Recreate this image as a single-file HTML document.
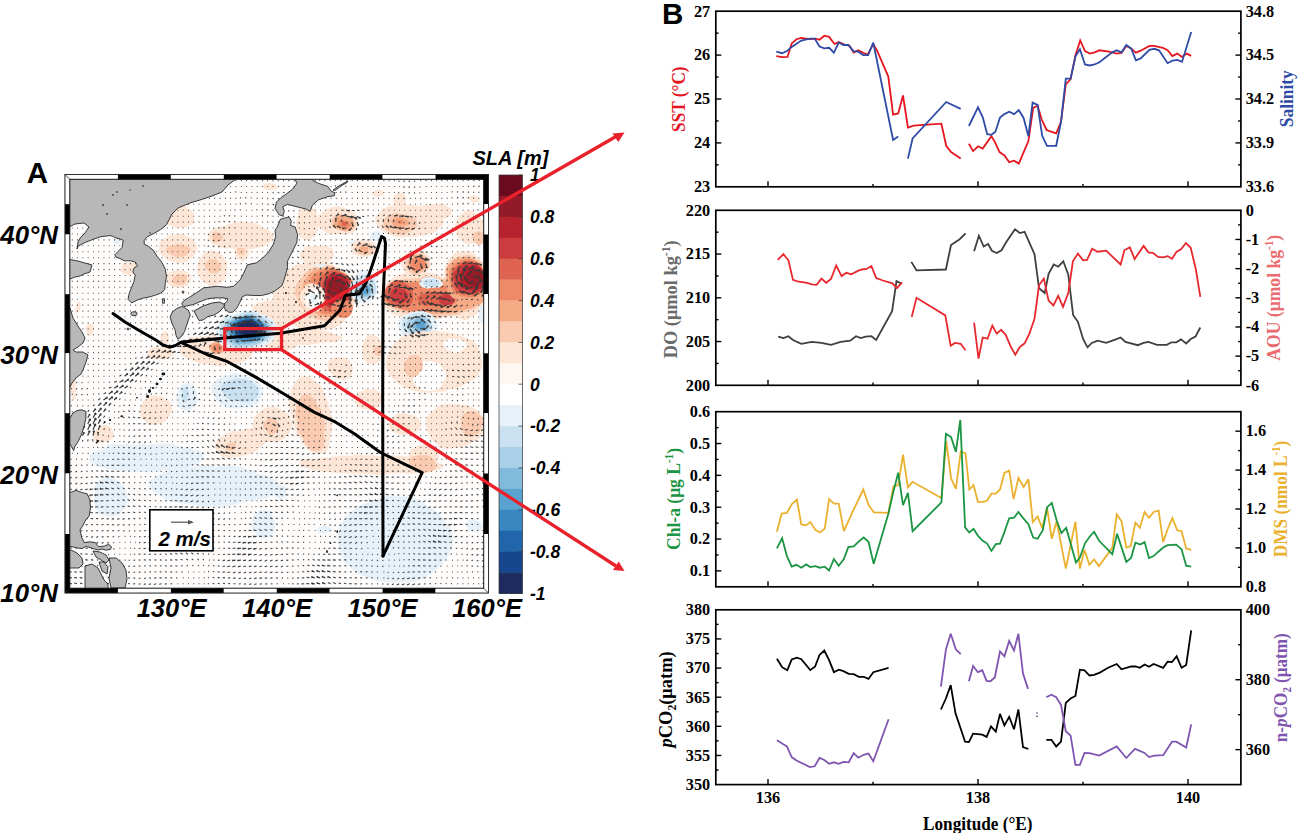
<!DOCTYPE html><html><head><meta charset="utf-8"><style>html,body{margin:0;padding:0;background:#fff;width:1299px;height:833px;overflow:hidden}svg{display:block}</style></head><body>
<svg width="1299" height="833" viewBox="0 0 1299 833">
<defs><clipPath id="mc"><rect x="69" y="178.5" width="415.5" height="411"/></clipPath><filter id="wob" x="0" y="0" width="1" height="1" filterUnits="objectBoundingBox"><feTurbulence type="fractalNoise" baseFrequency="0.035" numOctaves="2" seed="3" result="n"/><feDisplacementMap in="SourceGraphic" in2="n" scale="7" xChannelSelector="R" yChannelSelector="G"/></filter></defs>
<g clip-path="url(#mc)">
<rect x="60" y="170" width="440" height="430" fill="#fffdfc"/>
<g filter="url(#wob)"><rect x="60" y="170" width="440" height="430" fill="#fffdfc"/><ellipse cx="180.0" cy="217.5" rx="14.0" ry="10.5" transform="rotate(0 180.0 217.5)" fill="#fde6d6"/>
<ellipse cx="178.0" cy="248.0" rx="18.0" ry="14.0" transform="rotate(0 178.0 248.0)" fill="#fde6d6"/>
<ellipse cx="177.5" cy="250.0" rx="11.5" ry="6.0" transform="rotate(0 177.5 250.0)" fill="#fbcbb1"/>
<ellipse cx="241.0" cy="237.0" rx="34.0" ry="14.0" transform="rotate(0 241.0 237.0)" fill="#fde6d6"/>
<ellipse cx="217.0" cy="237.0" rx="6.0" ry="6.0" transform="rotate(0 217.0 237.0)" fill="#fbcbb1"/>
<ellipse cx="212.5" cy="268.0" rx="15.5" ry="17.0" transform="rotate(0 212.5 268.0)" fill="#fde6d6"/>
<ellipse cx="213.0" cy="265.5" rx="8.0" ry="6.5" transform="rotate(0 213.0 265.5)" fill="#fbcbb1"/>
<ellipse cx="178.5" cy="279.0" rx="12.5" ry="9.0" transform="rotate(0 178.5 279.0)" fill="#fde6d6"/>
<ellipse cx="179.5" cy="279.5" rx="7.5" ry="5.5" transform="rotate(0 179.5 279.5)" fill="#fbcbb1"/>
<ellipse cx="242.5" cy="252.5" rx="7.5" ry="7.5" transform="rotate(0 242.5 252.5)" fill="#fde6d6"/>
<ellipse cx="242.0" cy="252.5" rx="4.0" ry="3.5" transform="rotate(0 242.0 252.5)" fill="#fbcbb1"/>
<ellipse cx="270.0" cy="187.0" rx="8.0" ry="4.0" transform="rotate(0 270.0 187.0)" fill="#fde6d6"/>
<ellipse cx="243.0" cy="243.0" rx="19.0" ry="7.0" transform="rotate(0 243.0 243.0)" fill="#fde6d6"/>
<ellipse cx="117.0" cy="242.0" rx="5.0" ry="4.0" transform="rotate(0 117.0 242.0)" fill="#e6f1f9"/>
<ellipse cx="131.0" cy="268.5" rx="8.0" ry="6.5" transform="rotate(0 131.0 268.5)" fill="#fde6d6"/>
<ellipse cx="77.5" cy="308.0" rx="2.5" ry="5.0" transform="rotate(0 77.5 308.0)" fill="#fde6d6"/>
<ellipse cx="90.0" cy="329.0" rx="4.0" ry="6.0" transform="rotate(0 90.0 329.0)" fill="#fde6d6"/>
<ellipse cx="164.5" cy="339.0" rx="4.5" ry="6.0" transform="rotate(0 164.5 339.0)" fill="#fde6d6"/>
<ellipse cx="218.0" cy="350.0" rx="38.0" ry="16.0" transform="rotate(0 218.0 350.0)" fill="#fde6d6"/>
<ellipse cx="160.0" cy="353.0" rx="14.0" ry="6.0" transform="rotate(0 160.0 353.0)" fill="#fde6d6"/>
<ellipse cx="280.0" cy="340.0" rx="20.0" ry="10.0" transform="rotate(0 280.0 340.0)" fill="#fde6d6"/>
<ellipse cx="312.5" cy="337.0" rx="29.5" ry="7.0" transform="rotate(0 312.5 337.0)" fill="#fde6d6"/>
<ellipse cx="216.0" cy="347.0" rx="8.0" ry="6.0" transform="rotate(0 216.0 347.0)" fill="#f6ab87"/>
<ellipse cx="216.0" cy="347.0" rx="5.0" ry="4.0" transform="rotate(0 216.0 347.0)" fill="#ee8a67"/>
<ellipse cx="312.5" cy="336.0" rx="22.5" ry="4.0" transform="rotate(0 312.5 336.0)" fill="#fbcbb1"/>
<ellipse cx="275.0" cy="315.0" rx="25.0" ry="15.0" transform="rotate(0 275.0 315.0)" fill="#fde6d6"/>
<ellipse cx="285.0" cy="290.0" rx="15.0" ry="10.0" transform="rotate(0 285.0 290.0)" fill="#fde6d6"/>
<ellipse cx="246.0" cy="331.0" rx="32.0" ry="20.0" transform="rotate(-4 246.0 331.0)" fill="#e6f1f9"/>
<ellipse cx="246.0" cy="330.5" rx="28.0" ry="17.5" transform="rotate(-4 246.0 330.5)" fill="#c9e1f0"/>
<ellipse cx="246.5" cy="330.5" rx="24.5" ry="15.5" transform="rotate(-4 246.5 330.5)" fill="#a9d0e6"/>
<ellipse cx="246.5" cy="330.0" rx="21.5" ry="14.0" transform="rotate(-4 246.5 330.0)" fill="#82badc"/>
<ellipse cx="247.0" cy="329.5" rx="19.0" ry="12.5" transform="rotate(-4 247.0 329.5)" fill="#5aa3d0"/>
<ellipse cx="247.5" cy="329.0" rx="16.5" ry="11.0" transform="rotate(-4 247.5 329.0)" fill="#3987c1"/>
<ellipse cx="247.5" cy="328.5" rx="14.5" ry="9.5" transform="rotate(-4 247.5 328.5)" fill="#2166ab"/>
<ellipse cx="247.5" cy="328.5" rx="12.5" ry="8.5" transform="rotate(-4 247.5 328.5)" fill="#16468e"/>
<ellipse cx="248.0" cy="328.0" rx="10.0" ry="7.0" transform="rotate(-4 248.0 328.0)" fill="#1e2b5f"/>
<ellipse cx="314.0" cy="296.0" rx="42.0" ry="34.0" transform="rotate(0 314.0 296.0)" fill="#fde6d6"/>
<ellipse cx="325.5" cy="293.0" rx="29.5" ry="27.0" transform="rotate(0 325.5 293.0)" fill="#fbcbb1"/>
<ellipse cx="328.0" cy="292.0" rx="26.0" ry="24.0" transform="rotate(0 328.0 292.0)" fill="#f6ab87"/>
<ellipse cx="330.5" cy="291.5" rx="22.5" ry="22.5" transform="rotate(0 330.5 291.5)" fill="#ee8a67"/>
<ellipse cx="334.0" cy="291.5" rx="18.0" ry="20.5" transform="rotate(0 334.0 291.5)" fill="#de6350"/>
<ellipse cx="336.5" cy="291.0" rx="14.5" ry="18.0" transform="rotate(0 336.5 291.0)" fill="#cc3b3d"/>
<ellipse cx="337.0" cy="290.5" rx="12.0" ry="15.5" transform="rotate(0 337.0 290.5)" fill="#b7222f"/>
<ellipse cx="337.0" cy="288.0" rx="9.0" ry="10.0" transform="rotate(0 337.0 288.0)" fill="#931b27"/>
<ellipse cx="343.0" cy="309.0" rx="10.0" ry="9.0" transform="rotate(0 343.0 309.0)" fill="#ee8a67"/>
<ellipse cx="313.0" cy="298.0" rx="13.0" ry="14.0" transform="rotate(0 313.0 298.0)" fill="#fde6d6"/>
<ellipse cx="313.5" cy="298.5" rx="9.5" ry="10.5" transform="rotate(0 313.5 298.5)" fill="#fef7f1"/>
<ellipse cx="314.0" cy="298.5" rx="7.0" ry="7.5" transform="rotate(0 314.0 298.5)" fill="#ffffff"/>
<ellipse cx="314.0" cy="298.5" rx="4.0" ry="4.5" transform="rotate(0 314.0 298.5)" fill="#e6f1f9"/>
<ellipse cx="363.5" cy="287.5" rx="14.5" ry="17.5" transform="rotate(0 363.5 287.5)" fill="#e6f1f9"/>
<ellipse cx="364.0" cy="288.5" rx="12.0" ry="13.5" transform="rotate(0 364.0 288.5)" fill="#c9e1f0"/>
<ellipse cx="364.5" cy="290.0" rx="8.5" ry="10.0" transform="rotate(0 364.5 290.0)" fill="#a9d0e6"/>
<ellipse cx="365.0" cy="290.5" rx="6.0" ry="7.5" transform="rotate(0 365.0 290.5)" fill="#82badc"/>
<ellipse cx="365.0" cy="291.0" rx="4.0" ry="5.0" transform="rotate(0 365.0 291.0)" fill="#5aa3d0"/>
<ellipse cx="319.0" cy="263.5" rx="7.0" ry="4.5" transform="rotate(0 319.0 263.5)" fill="#e6f1f9"/>
<ellipse cx="359.0" cy="243.5" rx="9.0" ry="3.5" transform="rotate(0 359.0 243.5)" fill="#e6f1f9"/>
<ellipse cx="421.5" cy="296.0" rx="40.5" ry="24.0" transform="rotate(0 421.5 296.0)" fill="#fde6d6"/>
<ellipse cx="465.0" cy="285.0" rx="22.0" ry="35.0" transform="rotate(0 465.0 285.0)" fill="#fde6d6"/>
<ellipse cx="434.0" cy="296.5" rx="52.0" ry="20.5" transform="rotate(0 434.0 296.5)" fill="#fbcbb1"/>
<ellipse cx="466.5" cy="280.0" rx="20.5" ry="26.0" transform="rotate(0 466.5 280.0)" fill="#fbcbb1"/>
<ellipse cx="434.5" cy="296.5" rx="51.5" ry="17.5" transform="rotate(0 434.5 296.5)" fill="#f6ab87"/>
<ellipse cx="422.0" cy="296.5" rx="38.0" ry="15.5" transform="rotate(0 422.0 296.5)" fill="#ee8a67"/>
<ellipse cx="399.5" cy="294.0" rx="14.5" ry="13.0" transform="rotate(0 399.5 294.0)" fill="#de6350"/>
<ellipse cx="398.5" cy="294.5" rx="9.5" ry="7.5" transform="rotate(0 398.5 294.5)" fill="#cc3b3d"/>
<ellipse cx="435.0" cy="300.0" rx="21.0" ry="9.0" transform="rotate(0 435.0 300.0)" fill="#ee8a67"/>
<ellipse cx="436.5" cy="300.0" rx="18.5" ry="7.0" transform="rotate(0 436.5 300.0)" fill="#de6350"/>
<ellipse cx="447.5" cy="300.5" rx="7.5" ry="5.5" transform="rotate(0 447.5 300.5)" fill="#cc3b3d"/>
<ellipse cx="466.0" cy="280.0" rx="20.0" ry="24.0" transform="rotate(0 466.0 280.0)" fill="#f6ab87"/>
<ellipse cx="468.0" cy="279.0" rx="18.0" ry="21.0" transform="rotate(0 468.0 279.0)" fill="#ee8a67"/>
<ellipse cx="469.0" cy="279.0" rx="17.0" ry="19.0" transform="rotate(0 469.0 279.0)" fill="#de6350"/>
<ellipse cx="470.0" cy="279.0" rx="16.0" ry="17.0" transform="rotate(0 470.0 279.0)" fill="#cc3b3d"/>
<ellipse cx="472.5" cy="278.5" rx="13.5" ry="13.5" transform="rotate(0 472.5 278.5)" fill="#b7222f"/>
<ellipse cx="474.0" cy="278.5" rx="10.0" ry="9.5" transform="rotate(0 474.0 278.5)" fill="#931b27"/>
<ellipse cx="431.5" cy="283.0" rx="11.5" ry="6.0" transform="rotate(0 431.5 283.0)" fill="#e6f1f9"/>
<ellipse cx="432.0" cy="283.0" rx="8.0" ry="4.0" transform="rotate(0 432.0 283.0)" fill="#c9e1f0"/>
<ellipse cx="416.0" cy="263.0" rx="15.0" ry="13.0" transform="rotate(0 416.0 263.0)" fill="#fde6d6"/>
<ellipse cx="417.0" cy="263.5" rx="12.0" ry="10.5" transform="rotate(0 417.0 263.5)" fill="#fbcbb1"/>
<ellipse cx="417.5" cy="263.5" rx="9.5" ry="8.5" transform="rotate(0 417.5 263.5)" fill="#f6ab87"/>
<ellipse cx="418.5" cy="264.0" rx="7.5" ry="7.0" transform="rotate(0 418.5 264.0)" fill="#ee8a67"/>
<ellipse cx="418.5" cy="325.5" rx="19.5" ry="14.5" transform="rotate(0 418.5 325.5)" fill="#e6f1f9"/>
<ellipse cx="418.0" cy="324.5" rx="14.0" ry="11.5" transform="rotate(0 418.0 324.5)" fill="#c9e1f0"/>
<ellipse cx="418.5" cy="325.0" rx="10.5" ry="9.0" transform="rotate(0 418.5 325.0)" fill="#a9d0e6"/>
<ellipse cx="419.0" cy="324.5" rx="7.0" ry="6.5" transform="rotate(0 419.0 324.5)" fill="#82badc"/>
<ellipse cx="419.0" cy="325.0" rx="4.0" ry="4.0" transform="rotate(0 419.0 325.0)" fill="#5aa3d0"/>
<ellipse cx="482.0" cy="315.5" rx="4.0" ry="8.5" transform="rotate(0 482.0 315.5)" fill="#e6f1f9"/>
<ellipse cx="339.0" cy="221.0" rx="22.0" ry="15.0" transform="rotate(0 339.0 221.0)" fill="#fde6d6"/>
<ellipse cx="343.5" cy="222.5" rx="13.5" ry="9.5" transform="rotate(0 343.5 222.5)" fill="#fbcbb1"/>
<ellipse cx="344.0" cy="222.5" rx="11.0" ry="8.5" transform="rotate(0 344.0 222.5)" fill="#f6ab87"/>
<ellipse cx="344.5" cy="223.0" rx="6.5" ry="5.0" transform="rotate(0 344.5 223.0)" fill="#ee8a67"/>
<ellipse cx="344.5" cy="222.5" rx="2.5" ry="2.5" transform="rotate(0 344.5 222.5)" fill="#de6350"/>
<ellipse cx="408.5" cy="220.5" rx="33.5" ry="16.5" transform="rotate(0 408.5 220.5)" fill="#fde6d6"/>
<ellipse cx="400.5" cy="224.0" rx="17.5" ry="10.0" transform="rotate(0 400.5 224.0)" fill="#fbcbb1"/>
<ellipse cx="401.0" cy="223.0" rx="9.0" ry="5.0" transform="rotate(0 401.0 223.0)" fill="#f6ab87"/>
<ellipse cx="401.0" cy="223.0" rx="3.0" ry="2.0" transform="rotate(0 401.0 223.0)" fill="#ee8a67"/>
<ellipse cx="433.5" cy="211.0" rx="16.5" ry="8.0" transform="rotate(0 433.5 211.0)" fill="#fde6d6"/>
<ellipse cx="364.5" cy="248.5" rx="12.5" ry="8.5" transform="rotate(0 364.5 248.5)" fill="#fde6d6"/>
<ellipse cx="365.0" cy="249.0" rx="9.0" ry="6.0" transform="rotate(0 365.0 249.0)" fill="#fbcbb1"/>
<ellipse cx="364.5" cy="249.5" rx="4.5" ry="3.5" transform="rotate(0 364.5 249.5)" fill="#f6ab87"/>
<ellipse cx="377.0" cy="237.0" rx="7.0" ry="5.0" transform="rotate(0 377.0 237.0)" fill="#e6f1f9"/>
<ellipse cx="469.0" cy="227.0" rx="15.0" ry="16.0" transform="rotate(0 469.0 227.0)" fill="#fde6d6"/>
<ellipse cx="478.0" cy="236.5" rx="6.0" ry="6.5" transform="rotate(0 478.0 236.5)" fill="#fbcbb1"/>
<ellipse cx="378.5" cy="193.5" rx="5.5" ry="3.5" transform="rotate(0 378.5 193.5)" fill="#fde6d6"/>
<ellipse cx="400.0" cy="200.0" rx="7.0" ry="7.0" transform="rotate(0 400.0 200.0)" fill="#fde6d6"/>
<ellipse cx="475.0" cy="200.0" rx="5.0" ry="4.0" transform="rotate(0 475.0 200.0)" fill="#fde6d6"/>
<ellipse cx="307.0" cy="222.5" rx="11.0" ry="17.5" transform="rotate(0 307.0 222.5)" fill="#fde6d6"/>
<ellipse cx="317.5" cy="255.0" rx="17.5" ry="10.0" transform="rotate(0 317.5 255.0)" fill="#fde6d6"/>
<ellipse cx="434.0" cy="361.0" rx="50.0" ry="31.0" transform="rotate(0 434.0 361.0)" fill="#fde6d6"/>
<ellipse cx="455.0" cy="345.0" rx="11.0" ry="7.0" transform="rotate(0 455.0 345.0)" fill="#ffffff"/>
<ellipse cx="430.0" cy="376.0" rx="15.0" ry="14.0" transform="rotate(0 430.0 376.0)" fill="#ffffff"/>
<ellipse cx="413.5" cy="367.0" rx="9.5" ry="10.0" transform="rotate(-30 413.5 367.0)" fill="#fbcbb1"/>
<ellipse cx="340.5" cy="368.5" rx="13.5" ry="11.5" transform="rotate(0 340.5 368.5)" fill="#fde6d6"/>
<ellipse cx="372.5" cy="349.5" rx="10.5" ry="14.5" transform="rotate(0 372.5 349.5)" fill="#fde6d6"/>
<ellipse cx="377.5" cy="350.0" rx="5.5" ry="5.0" transform="rotate(0 377.5 350.0)" fill="#fbcbb1"/>
<ellipse cx="311.5" cy="415.0" rx="19.5" ry="40.0" transform="rotate(-15 311.5 415.0)" fill="#fde6d6"/>
<ellipse cx="311.0" cy="422.5" rx="14.0" ry="28.5" transform="rotate(-15 311.0 422.5)" fill="#fbcbb1"/>
<ellipse cx="369.5" cy="400.0" rx="13.5" ry="11.0" transform="rotate(0 369.5 400.0)" fill="#fde6d6"/>
<ellipse cx="280.0" cy="421.5" rx="5.0" ry="12.5" transform="rotate(0 280.0 421.5)" fill="#fde6d6"/>
<ellipse cx="312.5" cy="337.0" rx="29.5" ry="7.0" transform="rotate(0 312.5 337.0)" fill="#fde6d6"/>
<ellipse cx="425.0" cy="454.5" rx="15.0" ry="10.5" transform="rotate(0 425.0 454.5)" fill="#fde6d6"/>
<ellipse cx="405.0" cy="424.0" rx="16.0" ry="10.0" transform="rotate(0 405.0 424.0)" fill="#fde6d6"/>
<ellipse cx="455.0" cy="426.0" rx="29.0" ry="22.0" transform="rotate(0 455.0 426.0)" fill="#fde6d6"/>
<ellipse cx="471.0" cy="424.0" rx="11.0" ry="12.0" transform="rotate(0 471.0 424.0)" fill="#fbcbb1"/>
<ellipse cx="371.5" cy="464.5" rx="71.5" ry="9.5" transform="rotate(0 371.5 464.5)" fill="#fde6d6"/>
<ellipse cx="423.0" cy="463.5" rx="13.0" ry="8.5" transform="rotate(0 423.0 463.5)" fill="#fbcbb1"/>
<ellipse cx="272.5" cy="424.0" rx="19.5" ry="18.0" transform="rotate(0 272.5 424.0)" fill="#fde6d6"/>
<ellipse cx="270.5" cy="426.0" rx="8.5" ry="9.0" transform="rotate(0 270.5 426.0)" fill="#fbcbb1"/>
<ellipse cx="246.0" cy="442.5" rx="24.0" ry="12.5" transform="rotate(-25 246.0 442.5)" fill="#fde6d6"/>
<ellipse cx="233.0" cy="445.0" rx="17.0" ry="13.0" transform="rotate(0 233.0 445.0)" fill="#fde6d6"/>
<ellipse cx="230.5" cy="446.5" rx="4.5" ry="4.5" transform="rotate(0 230.5 446.5)" fill="#fbcbb1"/>
<ellipse cx="156.5" cy="410.0" rx="16.5" ry="14.0" transform="rotate(0 156.5 410.0)" fill="#fde6d6"/>
<ellipse cx="104.0" cy="435.0" rx="10.0" ry="9.0" transform="rotate(0 104.0 435.0)" fill="#fde6d6"/>
<ellipse cx="73.0" cy="388.5" rx="3.0" ry="11.5" transform="rotate(0 73.0 388.5)" fill="#fde6d6"/>
<ellipse cx="236.5" cy="391.5" rx="25.5" ry="17.5" transform="rotate(12 236.5 391.5)" fill="#e6f1f9"/>
<ellipse cx="239.0" cy="390.5" rx="19.0" ry="11.5" transform="rotate(12 239.0 390.5)" fill="#c9e1f0"/>
<ellipse cx="187.0" cy="397.0" rx="11.0" ry="15.0" transform="rotate(0 187.0 397.0)" fill="#e6f1f9"/>
<ellipse cx="185.5" cy="395.5" rx="4.5" ry="8.5" transform="rotate(0 185.5 395.5)" fill="#c9e1f0"/>
<ellipse cx="146.5" cy="458.0" rx="58.5" ry="14.0" transform="rotate(0 146.5 458.0)" fill="#e6f1f9"/>
<ellipse cx="110.0" cy="497.0" rx="16.0" ry="20.0" transform="rotate(-20 110.0 497.0)" fill="#e6f1f9"/>
<ellipse cx="214.5" cy="485.5" rx="65.5" ry="19.5" transform="rotate(0 214.5 485.5)" fill="#e6f1f9"/>
<ellipse cx="263.5" cy="524.0" rx="11.5" ry="15.0" transform="rotate(0 263.5 524.0)" fill="#e6f1f9"/>
<ellipse cx="395.0" cy="540.0" rx="58.0" ry="43.0" transform="rotate(0 395.0 540.0)" fill="#e6f1f9"/>
<ellipse cx="356.5" cy="544.5" rx="19.5" ry="8.5" transform="rotate(0 356.5 544.5)" fill="#e6f1f9"/>
<ellipse cx="474.0" cy="525.5" rx="9.0" ry="6.5" transform="rotate(0 474.0 525.5)" fill="#e6f1f9"/>
<ellipse cx="281.0" cy="492.0" rx="6.0" ry="7.0" transform="rotate(0 281.0 492.0)" fill="#e6f1f9"/>
<ellipse cx="324.0" cy="530.5" rx="7.0" ry="3.5" transform="rotate(0 324.0 530.5)" fill="#e6f1f9"/></g>
<path d="M71.8 180.6h0.9M77.1 180.6h0.9M82.4 180.6h0.9M87.7 180.6h0.9M93.0 180.6h0.9M98.2 180.6h0.9M103.5 180.6h0.9M108.8 180.6h0.9M114.1 180.6h0.9M119.4 180.6h0.9M124.6 180.6h0.9M129.9 180.6h0.9M135.2 180.6h0.9M140.5 180.6h0.9M145.8 180.6h0.9M151.0 180.6h0.9M156.3 180.6h0.9M161.6 180.6h0.9M166.9 180.6h0.9M172.2 180.6h0.9M177.4 180.6h0.9M182.7 180.6h0.9M188.0 180.6h0.9M193.3 180.6h0.9M198.6 180.6h0.9M203.8 180.6l1.3 0.3M209.1 180.6h0.9M214.4 180.6h0.9M219.7 180.6h0.9M225.0 180.6h0.9M230.2 180.6h0.9M235.5 180.6h0.9M240.8 180.6h0.9M246.1 180.6h0.9M251.4 180.6h0.9M256.6 180.6h0.9M261.9 180.6h0.9M267.2 180.6h0.9M272.5 180.6h0.9M277.8 180.6h0.9M283.0 180.6h0.9M288.3 180.6l1.2 -0.1M293.6 180.6h0.9M298.9 180.6h0.9M304.2 180.6h0.9M309.4 180.6h0.9M314.7 180.6h0.9M320.0 180.6l-1.0 -0.9M325.3 180.6l-1.0 -1.2M330.6 180.6l-0.9 -1.2M335.8 180.6l-0.8 -1.1M341.1 180.6l-0.8 -0.8M346.4 180.6h0.9M351.7 180.6h0.9M357.0 180.6h0.9M362.2 180.6h0.9M367.5 180.6h0.9M372.8 180.6h0.9M378.1 180.6h0.9M383.4 180.6h0.9M388.6 180.6h0.9M393.9 180.6h0.9M399.2 180.6l-0.2 1.2M404.5 180.6l-0.7 1.3M409.8 180.6l-1.0 1.3M415.0 180.6l-1.0 1.0M420.3 180.6h0.9M425.6 180.6h0.9M430.9 180.6h0.9M436.2 180.6h0.9M441.4 180.6h0.9M446.7 180.6h0.9M452.0 180.6h0.9M457.3 180.6h0.9M462.6 180.6h0.9M467.8 180.6l1.1 -0.4M473.1 180.6l1.4 -0.6M478.4 180.6l1.5 -0.7M483.7 180.6l1.4 -0.8M71.8 186.5h0.9M77.1 186.5h0.9M82.4 186.5h0.9M87.7 186.5h0.9M93.0 186.5h0.9M98.2 186.5h0.9M103.5 186.5h0.9M108.8 186.5h0.9M114.1 186.5h0.9M119.4 186.5h0.9M124.6 186.5h0.9M129.9 186.5h0.9M135.2 186.5h0.9M140.5 186.5h0.9M145.8 186.5h0.9M151.0 186.5h0.9M156.3 186.5h0.9M161.6 186.5h0.9M166.9 186.5h0.9M172.2 186.5h0.9M177.4 186.5h0.9M182.7 186.5h0.9M188.0 186.5h0.9M193.3 186.5h0.9M198.6 186.5h0.9M203.8 186.5h0.9M209.1 186.5h0.9M214.4 186.5h0.9M219.7 186.5h0.9M225.0 186.5h0.9M230.2 186.5h0.9M235.5 186.5h0.9M240.8 186.5h0.9M246.1 186.5h0.9M251.4 186.5h0.9M256.6 186.5h0.9M261.9 186.5h0.9M267.2 186.5h0.9M272.5 186.5h0.9M277.8 186.5l1.1 -0.1M283.0 186.5l1.4 -0.3M288.3 186.5l1.3 -0.3M293.6 186.5h0.9M298.9 186.5h0.9M304.2 186.5h0.9M309.4 186.5h0.9M314.7 186.5h0.9M320.0 186.5h0.9M325.3 186.5h0.9M330.6 186.5h0.9M335.8 186.5l-0.7 -1.0M341.1 186.5l-0.9 -0.9M346.4 186.5l-1.1 -0.6M351.7 186.5l-1.1 -0.2M357.0 186.5h0.9M362.2 186.5h0.9M367.5 186.5h0.9M372.8 186.5h0.9M378.1 186.5h0.9M383.4 186.5h0.9M388.6 186.5h0.9M393.9 186.5h0.9M399.2 186.5h0.9M404.5 186.5l-1.1 1.0M409.8 186.5l-1.2 1.1M415.0 186.5l-1.0 1.1M420.3 186.5l-0.8 0.9M425.6 186.5h0.9M430.9 186.5h0.9M436.2 186.5h0.9M441.4 186.5h0.9M446.7 186.5h0.9M452.0 186.5h0.9M457.3 186.5h0.9M462.6 186.5h0.9M467.8 186.5l1.3 -0.5M473.1 186.5l1.5 -0.5M478.4 186.5l1.4 -0.6M483.7 186.5l1.0 -0.7M71.8 192.5h0.9M77.1 192.5h0.9M82.4 192.5h0.9M87.7 192.5h0.9M93.0 192.5h0.9M98.2 192.5h0.9M103.5 192.5h0.9M108.8 192.5h0.9M114.1 192.5h0.9M119.4 192.5h0.9M124.6 192.5h0.9M129.9 192.5h0.9M135.2 192.5h0.9M140.5 192.5h0.9M145.8 192.5h0.9M151.0 192.5h0.9M156.3 192.5h0.9M161.6 192.5h0.9M166.9 192.5h0.9M172.2 192.5h0.9M177.4 192.5h0.9M182.7 192.5h0.9M188.0 192.5h0.9M193.3 192.5h0.9M198.6 192.5h0.9M203.8 192.5h0.9M209.1 192.5h0.9M214.4 192.5h0.9M219.7 192.5h0.9M225.0 192.5h0.9M230.2 192.5h0.9M235.5 192.5l0.2 -1.1M240.8 192.5h0.9M246.1 192.5h0.9M251.4 192.5h0.9M256.6 192.5h0.9M261.9 192.5h0.9M267.2 192.5h0.9M272.5 192.5l1.2 0.4M277.8 192.5l1.5 0.2M283.0 192.5l1.5 0.0M288.3 192.5l1.2 -0.2M293.6 192.5h0.9M298.9 192.5h0.9M304.2 192.5h0.9M309.4 192.5h0.9M314.7 192.5h0.9M320.0 192.5h0.9M325.3 192.5h0.9M330.6 192.5h0.9M335.8 192.5h0.9M341.1 192.5l-1.0 -0.7M346.4 192.5l-1.1 -0.7M351.7 192.5h0.9M357.0 192.5h0.9M362.2 192.5h0.9M367.5 192.5h0.9M372.8 192.5h0.9M378.1 192.5h0.9M383.4 192.5h0.9M388.6 192.5h0.9M393.9 192.5h0.9M399.2 192.5l-1.1 0.4M404.5 192.5l-1.3 0.6M409.8 192.5l-1.2 0.7M415.0 192.5l-1.0 0.9M420.3 192.5l-0.7 0.8M425.6 192.5h0.9M430.9 192.5h0.9M436.2 192.5h0.9M441.4 192.5h0.9M446.7 192.5h0.9M452.0 192.5l0.1 -1.2M457.3 192.5l0.5 -1.2M462.6 192.5l1.0 -1.0M467.8 192.5l1.3 -0.7M473.1 192.5l1.3 -0.6M478.4 192.5l1.0 -0.5M483.7 192.5h0.9M71.8 198.4h0.9M77.1 198.4h0.9M82.4 198.4h0.9M87.7 198.4h0.9M93.0 198.4h0.9M98.2 198.4h0.9M103.5 198.4h0.9M108.8 198.4h0.9M114.1 198.4h0.9M119.4 198.4h0.9M124.6 198.4h0.9M129.9 198.4h0.9M135.2 198.4h0.9M140.5 198.4h0.9M145.8 198.4h0.9M151.0 198.4h0.9M156.3 198.4h0.9M161.6 198.4h0.9M166.9 198.4h0.9M172.2 198.4h0.9M177.4 198.4h0.9M182.7 198.4h0.9M188.0 198.4h0.9M193.3 198.4h0.9M198.6 198.4h0.9M203.8 198.4h0.9M209.1 198.4h0.9M214.4 198.4h0.9M219.7 198.4h0.9M225.0 198.4h0.9M230.2 198.4h0.9M235.5 198.4h0.9M240.8 198.4l-0.5 -1.2M246.1 198.4l-0.6 -1.2M251.4 198.4l-0.4 -1.0M256.6 198.4h0.9M261.9 198.4h0.9M267.2 198.4l1.1 0.2M272.5 198.4l1.5 0.4M277.8 198.4l1.6 0.5M283.0 198.4l1.4 0.4M288.3 198.4h0.9M293.6 198.4h0.9M298.9 198.4h0.9M304.2 198.4h0.9M309.4 198.4h0.9M314.7 198.4h0.9M320.0 198.4h0.9M325.3 198.4h0.9M330.6 198.4h0.9M335.8 198.4h0.9M341.1 198.4h0.9M346.4 198.4h0.9M351.7 198.4h0.9M357.0 198.4h0.9M362.2 198.4h0.9M367.5 198.4h0.9M372.8 198.4h0.9M378.1 198.4h0.9M383.4 198.4h0.9M388.6 198.4h0.9M393.9 198.4h0.9M399.2 198.4l-1.2 0.2M404.5 198.4l-1.2 0.2M409.8 198.4h0.9M415.0 198.4h0.9M420.3 198.4h0.9M425.6 198.4h0.9M430.9 198.4h0.9M436.2 198.4h0.9M441.4 198.4h0.9M446.7 198.4h0.9M452.0 198.4l0.2 -1.1M457.3 198.4l0.7 -1.3M462.6 198.4l1.0 -1.3M467.8 198.4l1.1 -1.1M473.1 198.4l0.9 -0.8M478.4 198.4h0.9M483.7 198.4h0.9M71.8 204.3h0.9M77.1 204.3h0.9M82.4 204.3h0.9M87.7 204.3h0.9M93.0 204.3h0.9M98.2 204.3h0.9M103.5 204.3h0.9M108.8 204.3h0.9M114.1 204.3h0.9M119.4 204.3h0.9M124.6 204.3h0.9M129.9 204.3h0.9M135.2 204.3h0.9M140.5 204.3h0.9M145.8 204.3h0.9M151.0 204.3h0.9M156.3 204.3h0.9M161.6 204.3h0.9M166.9 204.3h0.9M172.2 204.3h0.9M177.4 204.3h0.9M182.7 204.3h0.9M188.0 204.3h0.9M193.3 204.3h0.9M198.6 204.3h0.9M203.8 204.3h0.9M209.1 204.3h0.9M214.4 204.3h0.9M219.7 204.3h0.9M225.0 204.3h0.9M230.2 204.3h0.9M235.5 204.3h0.9M240.8 204.3l-0.8 -1.0M246.1 204.3l-0.7 -1.2M251.4 204.3l-0.2 -1.2M256.6 204.3h0.9M261.9 204.3l1.0 -0.7M267.2 204.3l1.4 -0.2M272.5 204.3l1.6 0.3M277.8 204.3l1.5 0.6M283.0 204.3l1.2 0.8M288.3 204.3l0.8 0.7M293.6 204.3h0.9M298.9 204.3h0.9M304.2 204.3h0.9M309.4 204.3h0.9M314.7 204.3h0.9M320.0 204.3h0.9M325.3 204.3h0.9M330.6 204.3h0.9M335.8 204.3h0.9M341.1 204.3h0.9M346.4 204.3h0.9M351.7 204.3h0.9M357.0 204.3h0.9M362.2 204.3l1.0 -0.6M367.5 204.3h0.9M372.8 204.3h0.9M378.1 204.3h0.9M383.4 204.3h0.9M388.6 204.3h0.9M393.9 204.3h0.9M399.2 204.3h0.9M404.5 204.3h0.9M409.8 204.3h0.9M415.0 204.3h0.9M420.3 204.3h0.9M425.6 204.3h0.9M430.9 204.3l-1.1 0.4M436.2 204.3h0.9M441.4 204.3h0.9M446.7 204.3h0.9M452.0 204.3h0.9M457.3 204.3l0.8 -1.0M462.6 204.3l0.9 -1.2M467.8 204.3l0.7 -1.2M473.1 204.3h0.9M478.4 204.3h0.9M483.7 204.3h0.9M71.8 210.3h0.9M77.1 210.3h0.9M82.4 210.3h0.9M87.7 210.3h0.9M93.0 210.3h0.9M98.2 210.3h0.9M103.5 210.3h0.9M108.8 210.3h0.9M114.1 210.3h0.9M119.4 210.3h0.9M124.6 210.3h0.9M129.9 210.3h0.9M135.2 210.3h0.9M140.5 210.3h0.9M145.8 210.3h0.9M151.0 210.3h0.9M156.3 210.3h0.9M161.6 210.3h0.9M166.9 210.3h0.9M172.2 210.3h0.9M177.4 210.3h0.9M182.7 210.3h0.9M188.0 210.3h0.9M193.3 210.3h0.9M198.6 210.3h0.9M203.8 210.3h0.9M209.1 210.3h0.9M214.4 210.3h0.9M219.7 210.3h0.9M225.0 210.3h0.9M230.2 210.3h0.9M235.5 210.3l-1.0 -0.6M240.8 210.3l-1.0 -0.7M246.1 210.3h0.9M251.4 210.3h0.9M256.6 210.3l0.6 -1.0M261.9 210.3l1.1 -0.8M267.2 210.3l1.4 -0.5M272.5 210.3l1.4 -0.0M277.8 210.3l1.1 0.5M283.0 210.3l0.9 0.8M288.3 210.3l0.7 1.1M293.6 210.3l0.6 1.1M298.9 210.3h0.9M304.2 210.3h0.9M309.4 210.3h0.9M314.7 210.3h0.9M320.0 210.3h0.9M325.3 210.3h0.9M330.6 210.3h0.9M335.8 210.3l1.2 -0.1M341.1 210.3l2.6 -0.0M351.7 210.3l3.0 0.5M357.0 210.3l2.3 0.1M362.2 210.3l1.6 -0.5M367.5 210.3l1.1 -0.8M372.8 210.3h0.9M378.1 210.3h0.9M383.4 210.3h0.9M388.6 210.3h0.9M393.9 210.3h0.9M399.2 210.3h0.9M404.5 210.3h0.9M409.8 210.3h0.9M415.0 210.3h0.9M420.3 210.3h0.9M425.6 210.3h0.9M430.9 210.3l-1.1 0.1M436.2 210.3h0.9M441.4 210.3h0.9M446.7 210.3h0.9M452.0 210.3h0.9M457.3 210.3h0.9M462.6 210.3h0.9M467.8 210.3h0.9M473.1 210.3h0.9M478.4 210.3l-0.8 -0.8M483.7 210.3h0.9M71.8 216.2h0.9M77.1 216.2h0.9M82.4 216.2h0.9M87.7 216.2h0.9M93.0 216.2h0.9M98.2 216.2h0.9M103.5 216.2h0.9M108.8 216.2h0.9M114.1 216.2h0.9M119.4 216.2h0.9M124.6 216.2h0.9M129.9 216.2h0.9M135.2 216.2h0.9M140.5 216.2h0.9M145.8 216.2h0.9M151.0 216.2h0.9M156.3 216.2h0.9M161.6 216.2h0.9M166.9 216.2h0.9M172.2 216.2h0.9M177.4 216.2h0.9M182.7 216.2h0.9M188.0 216.2h0.9M193.3 216.2h0.9M198.6 216.2h0.9M203.8 216.2h0.9M209.1 216.2h0.9M214.4 216.2h0.9M219.7 216.2h0.9M225.0 216.2l-1.1 -0.8M230.2 216.2l-1.3 -0.6M235.5 216.2l-1.3 -0.5M240.8 216.2h0.9M246.1 216.2h0.9M251.4 216.2h0.9M256.6 216.2h0.9M261.9 216.2l1.1 -0.7M267.2 216.2l1.1 -0.6M272.5 216.2h0.9M277.8 216.2h0.9M283.0 216.2h0.9M288.3 216.2l0.6 1.0M293.6 216.2l0.6 1.3M298.9 216.2l0.7 1.3M304.2 216.2l0.7 1.1M309.4 216.2h0.9M314.7 216.2h0.9M320.0 216.2h0.9M325.3 216.2h0.9M330.6 216.2l0.8 -1.4M362.2 216.2l2.0 0.4M367.5 216.2l1.1 -0.7M372.8 216.2l0.7 -1.3M378.1 216.2l0.6 -1.5M383.4 216.2l1.2 -1.6M388.6 216.2l2.3 -1.5M409.8 216.2l2.9 1.1M415.0 216.2l1.3 0.9M420.3 216.2h0.9M425.6 216.2h0.9M430.9 216.2h0.9M436.2 216.2h0.9M441.4 216.2h0.9M446.7 216.2h0.9M452.0 216.2h0.9M457.3 216.2h0.9M462.6 216.2h0.9M467.8 216.2h0.9M473.1 216.2h0.9M478.4 216.2l-1.1 -0.8M483.7 216.2l-1.1 -0.6M71.8 222.1h0.9M77.1 222.1h0.9M82.4 222.1h0.9M87.7 222.1h0.9M93.0 222.1h0.9M98.2 222.1h0.9M103.5 222.1h0.9M108.8 222.1h0.9M114.1 222.1h0.9M119.4 222.1h0.9M124.6 222.1h0.9M129.9 222.1h0.9M135.2 222.1h0.9M140.5 222.1h0.9M145.8 222.1h0.9M151.0 222.1h0.9M156.3 222.1h0.9M161.6 222.1h0.9M166.9 222.1h0.9M172.2 222.1h0.9M177.4 222.1h0.9M182.7 222.1h0.9M188.0 222.1h0.9M193.3 222.1h0.9M198.6 222.1h0.9M203.8 222.1h0.9M209.1 222.1h0.9M214.4 222.1h0.9M219.7 222.1l-1.2 -0.7M225.0 222.1l-1.5 -0.8M230.2 222.1l-1.6 -0.7M235.5 222.1l-1.3 -0.5M240.8 222.1h0.9M246.1 222.1h0.9M251.4 222.1h0.9M256.6 222.1h0.9M261.9 222.1h0.9M267.2 222.1h0.9M272.5 222.1h0.9M277.8 222.1h0.9M283.0 222.1h0.9M288.3 222.1h0.9M293.6 222.1l0.7 1.1M298.9 222.1l0.7 1.3M304.2 222.1l0.5 1.3M309.4 222.1l0.1 1.2M314.7 222.1h0.9M320.0 222.1h0.9M325.3 222.1h0.9M330.6 222.1l-0.3 -2.7M341.1 222.1l0.7 -2.7M346.4 222.1l1.1 1.3M362.2 222.1l1.1 1.3M367.5 222.1h0.9M372.8 222.1l0.3 -1.5M378.1 222.1l0.1 -2.3M383.4 222.1l-0.1 -3.0M388.6 222.1l-0.2 -3.2M393.9 222.1l-0.3 -2.5M399.2 222.1h0.9M404.5 222.1l-0.7 1.2M409.8 222.1l-1.0 2.3M415.0 222.1l-1.2 2.3M420.3 222.1l-1.2 1.5M425.6 222.1l-0.9 0.7M430.9 222.1h0.9M436.2 222.1h0.9M441.4 222.1h0.9M446.7 222.1h0.9M452.0 222.1h0.9M457.3 222.1h0.9M462.6 222.1h0.9M467.8 222.1h0.9M473.1 222.1h0.9M478.4 222.1l-1.1 -0.4M483.7 222.1l-1.0 -0.6M71.8 228.0h0.9M77.1 228.0h0.9M82.4 228.0h0.9M87.7 228.0h0.9M93.0 228.0h0.9M98.2 228.0h0.9M103.5 228.0h0.9M108.8 228.0h0.9M114.1 228.0h0.9M119.4 228.0h0.9M124.6 228.0h0.9M129.9 228.0h0.9M135.2 228.0h0.9M140.5 228.0h0.9M145.8 228.0h0.9M151.0 228.0h0.9M156.3 228.0h0.9M161.6 228.0h0.9M166.9 228.0h0.9M172.2 228.0h0.9M177.4 228.0h0.9M182.7 228.0h0.9M188.0 228.0h0.9M193.3 228.0h0.9M198.6 228.0h0.9M203.8 228.0h0.9M209.1 228.0h0.9M214.4 228.0l-1.2 0.2M219.7 228.0l-1.6 -0.2M225.0 228.0l-1.7 -0.4M230.2 228.0l-1.5 -0.6M235.5 228.0l-1.1 -0.5M240.8 228.0h0.9M246.1 228.0h0.9M251.4 228.0h0.9M256.6 228.0h0.9M261.9 228.0h0.9M267.2 228.0h0.9M272.5 228.0h0.9M277.8 228.0h0.9M283.0 228.0h0.9M288.3 228.0h0.9M293.6 228.0h0.9M298.9 228.0h0.9M304.2 228.0l0.1 1.2M309.4 228.0l-0.3 1.2M314.7 228.0l-0.6 1.1M320.0 228.0h0.9M325.3 228.0h0.9M330.6 228.0l-1.3 -1.7M357.0 228.0l-0.8 2.2M362.2 228.0h0.9M367.5 228.0h0.9M372.8 228.0l0.2 -1.1M378.1 228.0l-0.3 -1.7M383.4 228.0l-1.2 -2.2M420.3 228.0l-1.9 1.1M425.6 228.0l-0.9 0.7M430.9 228.0h0.9M436.2 228.0h0.9M441.4 228.0h0.9M446.7 228.0h0.9M452.0 228.0h0.9M457.3 228.0h0.9M462.6 228.0h0.9M467.8 228.0l-0.9 0.8M473.1 228.0l-1.0 0.4M478.4 228.0h0.9M483.7 228.0h0.9M71.8 234.0h0.9M77.1 234.0h0.9M82.4 234.0h0.9M87.7 234.0h0.9M93.0 234.0h0.9M98.2 234.0h0.9M103.5 234.0h0.9M108.8 234.0h0.9M114.1 234.0h0.9M119.4 234.0h0.9M124.6 234.0h0.9M129.9 234.0h0.9M135.2 234.0h0.9M140.5 234.0h0.9M145.8 234.0h0.9M151.0 234.0h0.9M156.3 234.0h0.9M161.6 234.0h0.9M166.9 234.0h0.9M172.2 234.0h0.9M177.4 234.0h0.9M182.7 234.0h0.9M188.0 234.0h0.9M193.3 234.0h0.9M198.6 234.0h0.9M203.8 234.0h0.9M209.1 234.0l-1.0 0.9M214.4 234.0l-1.5 0.8M219.7 234.0l-1.8 0.5M225.0 234.0l-1.7 0.2M230.2 234.0l-1.3 -0.1M235.5 234.0h0.9M240.8 234.0h0.9M246.1 234.0h0.9M251.4 234.0h0.9M256.6 234.0h0.9M261.9 234.0h0.9M267.2 234.0h0.9M272.5 234.0h0.9M277.8 234.0h0.9M283.0 234.0h0.9M288.3 234.0h0.9M293.6 234.0h0.9M298.9 234.0h0.9M304.2 234.0h0.9M309.4 234.0l-0.8 0.9M314.7 234.0l-0.9 1.0M320.0 234.0l-0.7 0.8M325.3 234.0h0.9M330.6 234.0h0.9M335.8 234.0l-0.7 -0.9M341.1 234.0l-1.4 -0.9M346.4 234.0l-1.5 -0.3M351.7 234.0h0.9M357.0 234.0h0.9M362.2 234.0h0.9M367.5 234.0h0.9M372.8 234.0h0.9M378.1 234.0h0.9M383.4 234.0l0.2 -1.2M388.6 234.0l-0.2 -1.4M393.9 234.0l-0.8 -1.3M399.2 234.0l-1.4 -1.0M404.5 234.0l-1.7 -0.4M409.8 234.0l-1.6 0.1M415.0 234.0l-1.2 0.5M420.3 234.0h0.9M425.6 234.0h0.9M430.9 234.0h0.9M436.2 234.0l1.0 0.6M441.4 234.0h0.9M446.7 234.0h0.9M452.0 234.0h0.9M457.3 234.0h0.9M462.6 234.0l-0.7 0.9M467.8 234.0l-0.8 1.0M473.1 234.0l-0.8 0.8M478.4 234.0h0.9M483.7 234.0h0.9M71.8 239.9h0.9M77.1 239.9h0.9M82.4 239.9h0.9M87.7 239.9h0.9M93.0 239.9h0.9M98.2 239.9h0.9M103.5 239.9h0.9M108.8 239.9h0.9M114.1 239.9h0.9M119.4 239.9h0.9M124.6 239.9h0.9M129.9 239.9h0.9M135.2 239.9h0.9M140.5 239.9h0.9M145.8 239.9h0.9M151.0 239.9h0.9M156.3 239.9h0.9M161.6 239.9h0.9M166.9 239.9h0.9M172.2 239.9h0.9M177.4 239.9h0.9M182.7 239.9h0.9M188.0 239.9h0.9M193.3 239.9h0.9M198.6 239.9h0.9M203.8 239.9h0.9M209.1 239.9l-1.3 1.0M214.4 239.9l-1.6 1.1M219.7 239.9l-1.6 1.1M225.0 239.9l-1.3 0.8M230.2 239.9h0.9M235.5 239.9h0.9M240.8 239.9h0.9M246.1 239.9h0.9M251.4 239.9h0.9M256.6 239.9h0.9M261.9 239.9h0.9M267.2 239.9h0.9M272.5 239.9h0.9M277.8 239.9h0.9M283.0 239.9h0.9M288.3 239.9h0.9M293.6 239.9h0.9M298.9 239.9h0.9M304.2 239.9h0.9M309.4 239.9l-1.2 0.3M314.7 239.9l-1.0 0.6M320.0 239.9h0.9M325.3 239.9h0.9M330.6 239.9h0.9M335.8 239.9h0.9M341.1 239.9h0.9M346.4 239.9h0.9M351.7 239.9l0.9 -0.7M357.0 239.9l1.6 -0.8M362.2 239.9l2.4 -0.6M367.5 239.9l2.3 -0.1M372.8 239.9l1.5 -0.0M378.1 239.9h0.9M383.4 239.9h0.9M388.6 239.9h0.9M393.9 239.9h0.9M399.2 239.9l-0.5 -1.0M404.5 239.9h0.9M409.8 239.9h0.9M415.0 239.9h0.9M420.3 239.9h0.9M425.6 239.9l0.8 0.9M430.9 239.9l1.2 1.0M436.2 239.9l1.2 1.0M441.4 239.9l0.9 0.8M446.7 239.9h0.9M452.0 239.9h0.9M457.3 239.9h0.9M462.6 239.9h0.9M467.8 239.9h0.9M473.1 239.9h0.9M478.4 239.9h0.9M483.7 239.9h0.9M71.8 245.8h0.9M77.1 245.8h0.9M82.4 245.8h0.9M87.7 245.8h0.9M93.0 245.8h0.9M98.2 245.8h0.9M103.5 245.8h0.9M108.8 245.8h0.9M114.1 245.8h0.9M119.4 245.8h0.9M124.6 245.8h0.9M129.9 245.8h0.9M135.2 245.8h0.9M140.5 245.8h0.9M145.8 245.8h0.9M151.0 245.8h0.9M156.3 245.8h0.9M161.6 245.8h0.9M166.9 245.8h0.9M172.2 245.8h0.9M177.4 245.8h0.9M182.7 245.8h0.9M188.0 245.8h0.9M193.3 245.8h0.9M198.6 245.8h0.9M203.8 245.8h0.9M209.1 245.8l-1.4 0.8M214.4 245.8l-1.4 1.1M219.7 245.8l-1.3 1.3M225.0 245.8l-0.9 1.3M230.2 245.8l-0.5 1.0M235.5 245.8h0.9M240.8 245.8h0.9M246.1 245.8h0.9M251.4 245.8h0.9M256.6 245.8h0.9M261.9 245.8h0.9M267.2 245.8h0.9M272.5 245.8h0.9M277.8 245.8h0.9M283.0 245.8h0.9M288.3 245.8h0.9M293.6 245.8h0.9M298.9 245.8l-1.2 -0.6M304.2 245.8l-1.4 -0.6M309.4 245.8l-1.3 -0.3M314.7 245.8h0.9M320.0 245.8h0.9M325.3 245.8h0.9M330.6 245.8h0.9M335.8 245.8h0.9M341.1 245.8h0.9M346.4 245.8h0.9M351.7 245.8l1.4 -1.7M378.1 245.8l1.1 0.7M383.4 245.8h0.9M388.6 245.8h0.9M393.9 245.8h0.9M399.2 245.8h0.9M404.5 245.8h0.9M409.8 245.8h0.9M415.0 245.8h0.9M420.3 245.8l1.1 0.3M425.6 245.8l1.4 0.8M430.9 245.8l1.4 1.1M436.2 245.8l1.2 1.2M441.4 245.8l0.8 1.1M446.7 245.8h0.9M452.0 245.8h0.9M457.3 245.8h0.9M462.6 245.8h0.9M467.8 245.8h0.9M473.1 245.8h0.9M478.4 245.8h0.9M483.7 245.8h0.9M71.8 251.8h0.9M77.1 251.8h0.9M82.4 251.8h0.9M87.7 251.8h0.9M93.0 251.8h0.9M98.2 251.8h0.9M103.5 251.8h0.9M108.8 251.8h0.9M114.1 251.8h0.9M119.4 251.8h0.9M124.6 251.8h0.9M129.9 251.8h0.9M135.2 251.8h0.9M140.5 251.8h0.9M145.8 251.8h0.9M151.0 251.8h0.9M156.3 251.8h0.9M161.6 251.8h0.9M166.9 251.8h0.9M172.2 251.8h0.9M177.4 251.8h0.9M182.7 251.8h0.9M188.0 251.8h0.9M193.3 251.8h0.9M198.6 251.8h0.9M203.8 251.8h0.9M209.1 251.8l-1.2 0.6M214.4 251.8l-1.0 0.9M219.7 251.8l-0.7 1.1M225.0 251.8l-0.4 1.3M230.2 251.8l-0.2 1.3M235.5 251.8l-0.2 1.1M240.8 251.8h0.9M246.1 251.8h0.9M251.4 251.8h0.9M256.6 251.8h0.9M261.9 251.8h0.9M267.2 251.8h0.9M272.5 251.8h0.9M277.8 251.8h0.9M283.0 251.8h0.9M288.3 251.8h0.9M293.6 251.8l-1.3 -0.5M298.9 251.8l-1.6 -0.7M304.2 251.8l-1.6 -0.8M309.4 251.8l-1.2 -0.8M314.7 251.8h0.9M320.0 251.8h0.9M325.3 251.8h0.9M330.6 251.8h0.9M335.8 251.8l0.9 0.6M341.1 251.8h0.9M346.4 251.8h0.9M351.7 251.8l-0.1 -1.3M372.8 251.8l-1.0 2.2M378.1 251.8h0.9M383.4 251.8h0.9M388.6 251.8h0.9M393.9 251.8h0.9M399.2 251.8h0.9M404.5 251.8h0.9M409.8 251.8l1.3 -1.1M415.0 251.8l3.0 -0.7M420.3 251.8l3.2 0.4M425.6 251.8l2.2 0.8M430.9 251.8l1.5 0.8M436.2 251.8l1.1 1.0M441.4 251.8l0.7 1.2M446.7 251.8l0.4 1.1M452.0 251.8h0.9M457.3 251.8h0.9M462.6 251.8h0.9M467.8 251.8h0.9M473.1 251.8h0.9M478.4 251.8h0.9M483.7 251.8h0.9M71.8 257.7h0.9M77.1 257.7h0.9M82.4 257.7h0.9M87.7 257.7h0.9M93.0 257.7h0.9M98.2 257.7h0.9M103.5 257.7h0.9M108.8 257.7h0.9M114.1 257.7h0.9M119.4 257.7h0.9M124.6 257.7h0.9M129.9 257.7h0.9M135.2 257.7h0.9M140.5 257.7h0.9M145.8 257.7h0.9M151.0 257.7h0.9M156.3 257.7h0.9M161.6 257.7h0.9M166.9 257.7h0.9M172.2 257.7h0.9M177.4 257.7h0.9M182.7 257.7h0.9M188.0 257.7h0.9M193.3 257.7h0.9M198.6 257.7h0.9M203.8 257.7h0.9M209.1 257.7h0.9M214.4 257.7h0.9M219.7 257.7h0.9M225.0 257.7h0.9M230.2 257.7l-0.1 1.2M235.5 257.7l-0.1 1.2M240.8 257.7h0.9M246.1 257.7h0.9M251.4 257.7h0.9M256.6 257.7h0.9M261.9 257.7h0.9M267.2 257.7h0.9M272.5 257.7h0.9M277.8 257.7h0.9M283.0 257.7h0.9M288.3 257.7l-1.3 -0.5M293.6 257.7l-1.7 -0.5M298.9 257.7l-1.7 -0.6M304.2 257.7l-1.5 -0.8M309.4 257.7l-1.0 -0.9M314.7 257.7h0.9M320.0 257.7h0.9M325.3 257.7h0.9M330.6 257.7l1.2 -0.0M335.8 257.7l1.3 0.5M341.1 257.7l1.2 0.9M346.4 257.7l0.9 1.0M351.7 257.7h0.9M357.0 257.7h0.9M362.2 257.7l-1.3 -0.1M367.5 257.7l-1.2 0.2M372.8 257.7h0.9M378.1 257.7h0.9M383.4 257.7h0.9M388.6 257.7h0.9M393.9 257.7h0.9M399.2 257.7h0.9M404.5 257.7l0.7 -1.1M430.9 257.7l1.5 0.8M436.2 257.7h0.9M441.4 257.7h0.9M446.7 257.7l0.6 0.9M452.0 257.7h0.9M457.3 257.7l1.1 0.4M462.6 257.7l1.6 -0.1M467.8 257.7l1.9 -0.2M473.1 257.7l1.7 0.1M478.4 257.7h0.9M483.7 257.7h0.9M71.8 263.6h0.9M77.1 263.6h0.9M82.4 263.6h0.9M87.7 263.6h0.9M93.0 263.6h0.9M98.2 263.6h0.9M103.5 263.6h0.9M108.8 263.6h0.9M114.1 263.6h0.9M119.4 263.6h0.9M124.6 263.6h0.9M129.9 263.6h0.9M135.2 263.6h0.9M140.5 263.6h0.9M145.8 263.6h0.9M151.0 263.6h0.9M156.3 263.6h0.9M161.6 263.6h0.9M166.9 263.6h0.9M172.2 263.6h0.9M177.4 263.6h0.9M182.7 263.6h0.9M188.0 263.6h0.9M193.3 263.6h0.9M198.6 263.6h0.9M203.8 263.6h0.9M209.1 263.6h0.9M214.4 263.6h0.9M219.7 263.6h0.9M225.0 263.6h0.9M230.2 263.6h0.9M235.5 263.6h0.9M240.8 263.6h0.9M246.1 263.6h0.9M251.4 263.6h0.9M256.6 263.6h0.9M261.9 263.6h0.9M267.2 263.6h0.9M272.5 263.6l0.1 -1.1M277.8 263.6l-0.5 -1.1M283.0 263.6l-1.1 -1.0M288.3 263.6l-1.6 -0.8M293.6 263.6l-1.7 -0.6M298.9 263.6l-1.5 -0.5M304.2 263.6l-1.1 -0.6M309.4 263.6h0.9M314.7 263.6l0.0 -1.1M320.0 263.6l0.7 -1.4M325.3 263.6l1.5 -1.3M330.6 263.6l2.1 -0.8M335.8 263.6l2.5 0.2M341.1 263.6l2.4 1.2M346.4 263.6l2.0 1.9M351.7 263.6l1.5 1.9M357.0 263.6l1.0 1.5M362.2 263.6h0.9M367.5 263.6h0.9M372.8 263.6h0.9M378.1 263.6h0.9M383.4 263.6h0.9M388.6 263.6h0.9M393.9 263.6h0.9M399.2 263.6h0.9M404.5 263.6l0.5 -1.8M430.9 263.6l1.0 0.8M436.2 263.6h0.9M441.4 263.6h0.9M446.7 263.6h0.9M452.0 263.6l1.3 0.1M457.3 263.6l2.1 -0.6M483.7 263.6l1.5 1.4M71.8 269.6h0.9M77.1 269.6h0.9M82.4 269.6h0.9M87.7 269.6h0.9M93.0 269.6h0.9M98.2 269.6h0.9M103.5 269.6h0.9M108.8 269.6h0.9M114.1 269.6h0.9M119.4 269.6h0.9M124.6 269.6h0.9M129.9 269.6h0.9M135.2 269.6h0.9M140.5 269.6h0.9M145.8 269.6h0.9M151.0 269.6h0.9M156.3 269.6h0.9M161.6 269.6h0.9M166.9 269.6h0.9M172.2 269.6h0.9M177.4 269.6h0.9M182.7 269.6h0.9M188.0 269.6h0.9M193.3 269.6h0.9M198.6 269.6h0.9M203.8 269.6h0.9M209.1 269.6h0.9M214.4 269.6h0.9M219.7 269.6h0.9M225.0 269.6h0.9M230.2 269.6h0.9M235.5 269.6h0.9M240.8 269.6h0.9M246.1 269.6h0.9M251.4 269.6h0.9M256.6 269.6h0.9M261.9 269.6h0.9M267.2 269.6h0.9M272.5 269.6h0.9M277.8 269.6l-0.8 -1.2M283.0 269.6l-1.3 -1.3M288.3 269.6l-1.6 -1.1M293.6 269.6l-1.5 -0.8M298.9 269.6l-1.2 -0.6M304.2 269.6h0.9M309.4 269.6h0.9M314.7 269.6l0.4 -1.3M320.0 269.6l1.2 -2.1M357.0 269.6l1.2 2.6M362.2 269.6l0.3 1.8M367.5 269.6l-0.4 1.1M372.8 269.6h0.9M378.1 269.6l-1.2 0.2M383.4 269.6l-1.2 0.0M388.6 269.6h0.9M393.9 269.6h0.9M399.2 269.6h0.9M404.5 269.6h0.9M425.6 269.6l-1.2 2.5M430.9 269.6h0.9M436.2 269.6h0.9M441.4 269.6h0.9M446.7 269.6l1.1 -0.6M452.0 269.6l1.6 -1.3M71.8 275.5h0.9M77.1 275.5h0.9M82.4 275.5h0.9M87.7 275.5h0.9M93.0 275.5h0.9M98.2 275.5h0.9M103.5 275.5h0.9M108.8 275.5h0.9M114.1 275.5h0.9M119.4 275.5h0.9M124.6 275.5h0.9M129.9 275.5h0.9M135.2 275.5h0.9M140.5 275.5h0.9M145.8 275.5h0.9M151.0 275.5h0.9M156.3 275.5h0.9M161.6 275.5h0.9M166.9 275.5h0.9M172.2 275.5h0.9M177.4 275.5h0.9M182.7 275.5h0.9M188.0 275.5h0.9M193.3 275.5h0.9M198.6 275.5h0.9M203.8 275.5h0.9M209.1 275.5h0.9M214.4 275.5h0.9M219.7 275.5h0.9M225.0 275.5h0.9M230.2 275.5h0.9M235.5 275.5h0.9M240.8 275.5h0.9M246.1 275.5h0.9M251.4 275.5l1.2 0.4M256.6 275.5l1.2 0.4M261.9 275.5h0.9M267.2 275.5h0.9M272.5 275.5h0.9M277.8 275.5l-1.0 -1.0M283.0 275.5l-1.3 -1.2M288.3 275.5l-1.3 -1.2M293.6 275.5l-1.1 -1.0M298.9 275.5h0.9M304.2 275.5h0.9M309.4 275.5h0.9M314.7 275.5l0.4 -1.8M362.2 275.5l-1.2 2.8M367.5 275.5l-1.9 1.4M372.8 275.5l-1.7 0.8M378.1 275.5l-1.5 0.5M383.4 275.5h0.9M388.6 275.5h0.9M393.9 275.5h0.9M399.2 275.5h0.9M404.5 275.5h0.9M409.8 275.5h0.9M415.0 275.5l-1.8 -0.5M420.3 275.5l-1.7 0.4M425.6 275.5h0.9M430.9 275.5h0.9M436.2 275.5l0.8 -1.0M441.4 275.5l1.0 -1.1M446.7 275.5l1.0 -1.5M452.0 275.5l1.1 -2.8M71.8 281.4h0.9M77.1 281.4h0.9M82.4 281.4h0.9M87.7 281.4h0.9M93.0 281.4h0.9M98.2 281.4h0.9M103.5 281.4h0.9M108.8 281.4h0.9M114.1 281.4h0.9M119.4 281.4h0.9M124.6 281.4h0.9M129.9 281.4h0.9M135.2 281.4h0.9M140.5 281.4h0.9M145.8 281.4h0.9M151.0 281.4h0.9M156.3 281.4h0.9M161.6 281.4h0.9M166.9 281.4h0.9M172.2 281.4h0.9M177.4 281.4h0.9M182.7 281.4h0.9M188.0 281.4h0.9M193.3 281.4h0.9M198.6 281.4h0.9M203.8 281.4h0.9M209.1 281.4h0.9M214.4 281.4h0.9M219.7 281.4h0.9M225.0 281.4h0.9M230.2 281.4h0.9M235.5 281.4h0.9M240.8 281.4l1.2 -0.2M246.1 281.4l1.5 -0.1M251.4 281.4l1.5 0.1M256.6 281.4l1.2 0.3M261.9 281.4h0.9M267.2 281.4h0.9M272.5 281.4h0.9M277.8 281.4h0.9M283.0 281.4l-1.0 -0.7M288.3 281.4l-0.8 -1.0M293.6 281.4l-0.6 -1.0M298.9 281.4h0.9M304.2 281.4h0.9M309.4 281.4l-0.1 -1.3M314.7 281.4l0.1 -2.4M372.8 281.4l-2.8 -0.2M378.1 281.4l-1.4 0.3M383.4 281.4h0.9M388.6 281.4l1.6 -0.8M409.8 281.4l1.9 0.4M415.0 281.4h0.9M420.3 281.4h0.9M425.6 281.4h0.9M430.9 281.4h0.9M436.2 281.4l0.9 -0.9M441.4 281.4l0.9 -1.2M446.7 281.4l0.7 -1.8M71.8 287.3h0.9M77.1 287.3h0.9M82.4 287.3h0.9M87.7 287.3h0.9M93.0 287.3h0.9M98.2 287.3h0.9M103.5 287.3h0.9M108.8 287.3h0.9M114.1 287.3h0.9M119.4 287.3h0.9M124.6 287.3h0.9M129.9 287.3h0.9M135.2 287.3h0.9M140.5 287.3h0.9M145.8 287.3h0.9M151.0 287.3h0.9M156.3 287.3h0.9M161.6 287.3h0.9M166.9 287.3h0.9M172.2 287.3h0.9M177.4 287.3h0.9M182.7 287.3h0.9M188.0 287.3h0.9M193.3 287.3h0.9M198.6 287.3h0.9M203.8 287.3h0.9M209.1 287.3h0.9M214.4 287.3h0.9M219.7 287.3h0.9M225.0 287.3h0.9M230.2 287.3h0.9M235.5 287.3l1.3 -0.1M240.8 287.3l1.6 -0.2M246.1 287.3l1.7 -0.2M251.4 287.3l1.5 -0.1M256.6 287.3h0.9M261.9 287.3h0.9M267.2 287.3h0.9M272.5 287.3h0.9M277.8 287.3h0.9M283.0 287.3h0.9M288.3 287.3h0.9M293.6 287.3h0.9M298.9 287.3h0.9M304.2 287.3h0.9M309.4 287.3l-0.9 -1.3M314.7 287.3l-1.4 -2.8M335.8 287.3h0.9M378.1 287.3l-0.8 -0.9M383.4 287.3l1.2 -1.7M415.0 287.3l1.6 1.0M420.3 287.3h0.9M425.6 287.3l1.1 -0.5M430.9 287.3l1.5 -0.7M436.2 287.3l1.7 -0.8M441.4 287.3l1.6 -1.0M446.7 287.3l1.0 -1.5M452.0 287.3l-0.3 -2.6M71.8 293.3h0.9M77.1 293.3h0.9M82.4 293.3h0.9M87.7 293.3h0.9M93.0 293.3h0.9M98.2 293.3h0.9M103.5 293.3h0.9M108.8 293.3h0.9M114.1 293.3h0.9M119.4 293.3h0.9M124.6 293.3h0.9M129.9 293.3h0.9M135.2 293.3h0.9M140.5 293.3h0.9M145.8 293.3h0.9M151.0 293.3h0.9M156.3 293.3h0.9M161.6 293.3h0.9M166.9 293.3h0.9M172.2 293.3h0.9M177.4 293.3h0.9M182.7 293.3h0.9M188.0 293.3h0.9M193.3 293.3h0.9M198.6 293.3h0.9M203.8 293.3l-0.2 -1.3M209.1 293.3h0.9M214.4 293.3h0.9M219.7 293.3h0.9M225.0 293.3h0.9M230.2 293.3l1.1 0.1M235.5 293.3l1.6 0.1M240.8 293.3l1.8 0.0M246.1 293.3l1.6 -0.1M251.4 293.3l1.2 -0.1M256.6 293.3h0.9M261.9 293.3h0.9M267.2 293.3h0.9M272.5 293.3h0.9M277.8 293.3h0.9M283.0 293.3h0.9M288.3 293.3h0.9M293.6 293.3h0.9M298.9 293.3h0.9M304.2 293.3h0.9M378.1 293.3l-0.7 -2.2M399.2 293.3l2.7 1.0M415.0 293.3l1.3 1.7M420.3 293.3l2.0 -0.5M452.0 293.3l2.2 -0.6M457.3 293.3l-0.5 -1.6M71.8 299.2h0.9M77.1 299.2h0.9M82.4 299.2h0.9M87.7 299.2h0.9M93.0 299.2h0.9M98.2 299.2h0.9M103.5 299.2h0.9M108.8 299.2h0.9M114.1 299.2h0.9M119.4 299.2h0.9M124.6 299.2h0.9M129.9 299.2h0.9M135.2 299.2h0.9M140.5 299.2h0.9M145.8 299.2h0.9M151.0 299.2h0.9M156.3 299.2h0.9M161.6 299.2h0.9M166.9 299.2h0.9M172.2 299.2h0.9M177.4 299.2h0.9M182.7 299.2h0.9M188.0 299.2h0.9M193.3 299.2h0.9M198.6 299.2h0.9M203.8 299.2l-0.6 -1.4M209.1 299.2l-0.5 -1.4M214.4 299.2l-0.2 -1.1M219.7 299.2h0.9M225.0 299.2h0.9M230.2 299.2l1.4 0.1M235.5 299.2l1.7 0.3M240.8 299.2l1.6 0.4M246.1 299.2l1.3 0.3M251.4 299.2h0.9M256.6 299.2h0.9M261.9 299.2h0.9M267.2 299.2h0.9M272.5 299.2h0.9M277.8 299.2h0.9M283.0 299.2h0.9M288.3 299.2h0.9M293.6 299.2h0.9M298.9 299.2h0.9M304.2 299.2h0.9M378.1 299.2l-1.1 -2.0M415.0 299.2h0.9M420.3 299.2l1.5 -2.2M452.0 299.2l1.8 2.1M457.3 299.2l0.1 1.5M462.6 299.2l-1.3 0.5M467.8 299.2l-2.2 0.0M473.1 299.2l-2.1 0.4M478.4 299.2l-1.3 1.0M483.7 299.2l-0.3 1.4M71.8 305.1h0.9M77.1 305.1h0.9M82.4 305.1h0.9M87.7 305.1h0.9M93.0 305.1h0.9M98.2 305.1h0.9M103.5 305.1h0.9M108.8 305.1h0.9M114.1 305.1h0.9M119.4 305.1h0.9M124.6 305.1h0.9M129.9 305.1h0.9M135.2 305.1h0.9M140.5 305.1h0.9M145.8 305.1h0.9M151.0 305.1h0.9M156.3 305.1h0.9M161.6 305.1h0.9M166.9 305.1h0.9M172.2 305.1h0.9M177.4 305.1h0.9M182.7 305.1h0.9M188.0 305.1h0.9M193.3 305.1h0.9M198.6 305.1l-0.9 -0.9M203.8 305.1l-0.9 -1.1M209.1 305.1l-0.6 -1.3M214.4 305.1l-0.0 -1.3M219.7 305.1l0.6 -1.1M225.0 305.1l1.3 -0.7M230.2 305.1l1.5 -0.2M235.5 305.1l1.4 0.3M240.8 305.1l1.0 0.6M246.1 305.1h0.9M251.4 305.1h0.9M256.6 305.1h0.9M261.9 305.1h0.9M267.2 305.1h0.9M272.5 305.1h0.9M277.8 305.1h0.9M283.0 305.1h0.9M288.3 305.1h0.9M293.6 305.1h0.9M298.9 305.1h0.9M304.2 305.1h0.9M309.4 305.1l2.5 0.9M325.3 305.1l-1.0 -2.7M330.6 305.1l-2.4 -2.0M357.0 305.1l-0.8 2.1M362.2 305.1l1.2 0.9M367.5 305.1l1.3 -1.1M372.8 305.1l0.0 -1.3M378.1 305.1l-1.0 -1.0M383.4 305.1l-2.3 -1.4M415.0 305.1l-1.7 -0.6M420.3 305.1l-1.6 -2.4M462.6 305.1l-2.3 1.3M467.8 305.1l-1.3 0.6M473.1 305.1h0.9M478.4 305.1h0.9M483.7 305.1h0.9M71.8 311.1h0.9M77.1 311.1h0.9M82.4 311.1h0.9M87.7 311.1h0.9M93.0 311.1h0.9M98.2 311.1h0.9M103.5 311.1h0.9M108.8 311.1h0.9M114.1 311.1h0.9M119.4 311.1h0.9M124.6 311.1h0.9M129.9 311.1h0.9M135.2 311.1h0.9M140.5 311.1h0.9M145.8 311.1h0.9M151.0 311.1h0.9M156.3 311.1h0.9M161.6 311.1h0.9M166.9 311.1h0.9M172.2 311.1h0.9M177.4 311.1h0.9M182.7 311.1h0.9M188.0 311.1h0.9M193.3 311.1l-1.2 -0.3M198.6 311.1l-1.2 -0.4M203.8 311.1l-0.9 -0.7M209.1 311.1h0.9M214.4 311.1l0.4 -1.2M219.7 311.1l1.4 -1.4M225.0 311.1l2.0 -1.4M230.2 311.1l1.5 -0.8M235.5 311.1h0.9M240.8 311.1l-1.1 0.7M246.1 311.1l-1.9 0.8M251.4 311.1l-2.0 0.8M256.6 311.1l-1.7 0.6M261.9 311.1l-1.1 0.5M267.2 311.1h0.9M272.5 311.1h0.9M277.8 311.1h0.9M283.0 311.1h0.9M288.3 311.1h0.9M293.6 311.1h0.9M298.9 311.1h0.9M304.2 311.1h0.9M309.4 311.1h0.9M314.7 311.1l1.3 -0.7M320.0 311.1l0.9 -1.4M325.3 311.1l0.1 -1.7M330.6 311.1l-0.9 -1.6M335.8 311.1l-1.8 -0.9M341.1 311.1l-2.3 -0.1M346.4 311.1l-2.2 0.5M351.7 311.1l-1.8 0.6M357.0 311.1l-1.0 0.5M362.2 311.1h0.9M367.5 311.1h0.9M372.8 311.1h0.9M378.1 311.1h0.9M383.4 311.1l-1.0 -0.6M388.6 311.1l-1.8 -0.4M393.9 311.1l-2.5 0.0M399.2 311.1l-2.5 0.6M404.5 311.1l-2.0 1.0M409.8 311.1l-1.4 0.8M415.0 311.1l-1.5 0.1M420.3 311.1l-2.2 -0.9M462.6 311.1l-1.8 0.7M467.8 311.1h0.9M473.1 311.1h0.9M478.4 311.1h0.9M483.7 311.1h0.9M71.8 317.0h0.9M77.1 317.0h0.9M82.4 317.0h0.9M87.7 317.0h0.9M93.0 317.0h0.9M98.2 317.0h0.9M103.5 317.0h0.9M108.8 317.0h0.9M114.1 317.0h0.9M119.4 317.0h0.9M124.6 317.0h0.9M129.9 317.0h0.9M135.2 317.0h0.9M140.5 317.0h0.9M145.8 317.0h0.9M151.0 317.0h0.9M156.3 317.0h0.9M161.6 317.0h0.9M166.9 317.0h0.9M172.2 317.0h0.9M177.4 317.0h0.9M182.7 317.0l-1.1 -0.5M188.0 317.0l-1.4 -0.4M193.3 317.0l-1.4 -0.3M198.6 317.0l-1.2 -0.2M203.8 317.0h0.9M209.1 317.0h0.9M214.4 317.0l1.7 -1.2M230.2 317.0l0.9 -0.8M235.5 317.0l-3.0 0.7M267.2 317.0l-1.7 -0.2M272.5 317.0h0.9M277.8 317.0h0.9M283.0 317.0h0.9M288.3 317.0h0.9M293.6 317.0h0.9M298.9 317.0h0.9M304.2 317.0h0.9M309.4 317.0l1.3 0.3M314.7 317.0l1.6 -0.1M320.0 317.0l1.4 -0.7M325.3 317.0l0.8 -1.2M330.6 317.0l0.1 -1.4M335.8 317.0l-0.7 -1.3M341.1 317.0l-1.1 -1.0M346.4 317.0l-1.1 -0.6M351.7 317.0h0.9M357.0 317.0h0.9M362.2 317.0h0.9M367.5 317.0h0.9M372.8 317.0h0.9M378.1 317.0h0.9M383.4 317.0h0.9M388.6 317.0h0.9M393.9 317.0h0.9M399.2 317.0h0.9M404.5 317.0l-0.7 1.5M409.8 317.0l-2.1 2.2M436.2 317.0l-2.7 -0.9M441.4 317.0l-2.6 -0.6M446.7 317.0l-2.4 -0.3M452.0 317.0l-1.8 -0.0M457.3 317.0l-1.2 0.2M462.6 317.0h0.9M467.8 317.0h0.9M473.1 317.0h0.9M478.4 317.0h0.9M483.7 317.0h0.9M71.8 322.9h0.9M77.1 322.9h0.9M82.4 322.9h0.9M87.7 322.9h0.9M93.0 322.9h0.9M98.2 322.9h0.9M103.5 322.9h0.9M108.8 322.9h0.9M114.1 322.9h0.9M119.4 322.9h0.9M124.6 322.9h0.9M129.9 322.9h0.9M135.2 322.9h0.9M140.5 322.9h0.9M145.8 322.9h0.9M151.0 322.9h0.9M156.3 322.9h0.9M161.6 322.9h0.9M166.9 322.9h0.9M172.2 322.9h0.9M177.4 322.9h0.9M182.7 322.9l-1.4 -0.4M188.0 322.9l-1.5 -0.4M193.3 322.9l-1.2 -0.4M198.6 322.9h0.9M203.8 322.9l0.9 -0.7M209.1 322.9l2.5 -1.2M230.2 322.9l0.3 1.4M267.2 322.9l-2.3 -1.9M272.5 322.9l-1.2 -0.7M277.8 322.9h0.9M283.0 322.9h0.9M288.3 322.9h0.9M293.6 322.9h0.9M298.9 322.9h0.9M304.2 322.9l1.2 0.4M309.4 322.9l1.6 0.3M314.7 322.9l1.7 0.1M320.0 322.9l1.5 -0.3M325.3 322.9l0.9 -0.7M330.6 322.9l0.3 -1.1M335.8 322.9l-0.2 -1.3M341.1 322.9l-0.4 -1.4M346.4 322.9l-0.4 -1.2M351.7 322.9h0.9M357.0 322.9h0.9M362.2 322.9h0.9M367.5 322.9h0.9M372.8 322.9h0.9M378.1 322.9h0.9M383.4 322.9h0.9M388.6 322.9h0.9M393.9 322.9h0.9M399.2 322.9l0.4 1.0M404.5 322.9l-0.1 3.0M436.2 322.9l-2.0 -1.4M441.4 322.9l-1.6 -0.6M446.7 322.9l-1.3 -0.4M452.0 322.9h0.9M457.3 322.9h0.9M462.6 322.9h0.9M467.8 322.9h0.9M473.1 322.9h0.9M478.4 322.9h0.9M483.7 322.9h0.9M71.8 328.9h0.9M77.1 328.9h0.9M82.4 328.9h0.9M87.7 328.9h0.9M93.0 328.9h0.9M98.2 328.9h0.9M103.5 328.9h0.9M108.8 328.9h0.9M114.1 328.9h0.9M119.4 328.9h0.9M124.6 328.9h0.9M129.9 328.9h0.9M135.2 328.9h0.9M140.5 328.9h0.9M145.8 328.9h0.9M151.0 328.9h0.9M156.3 328.9h0.9M161.6 328.9h0.9M166.9 328.9h0.9M172.2 328.9h0.9M177.4 328.9l-1.2 0.3M182.7 328.9l-1.3 -0.1M188.0 328.9h0.9M193.3 328.9h0.9M198.6 328.9l1.7 -1.5M246.1 328.9l1.5 0.4M267.2 328.9l-0.0 -2.9M272.5 328.9l-0.5 -1.2M277.8 328.9h0.9M283.0 328.9h0.9M288.3 328.9h0.9M293.6 328.9h0.9M298.9 328.9h0.9M304.2 328.9l1.4 -0.0M309.4 328.9l1.6 0.1M314.7 328.9l1.5 0.1M320.0 328.9l1.1 -0.0M325.3 328.9h0.9M330.6 328.9h0.9M335.8 328.9h0.9M341.1 328.9l-0.1 -1.3M346.4 328.9l0.0 -1.4M351.7 328.9l0.2 -1.3M357.0 328.9h0.9M362.2 328.9h0.9M367.5 328.9h0.9M372.8 328.9h0.9M378.1 328.9h0.9M383.4 328.9h0.9M388.6 328.9h0.9M393.9 328.9h0.9M399.2 328.9l1.4 1.0M430.9 328.9l0.4 -2.6M436.2 328.9l-0.8 -0.9M441.4 328.9h0.9M446.7 328.9h0.9M452.0 328.9h0.9M457.3 328.9h0.9M462.6 328.9h0.9M467.8 328.9h0.9M473.1 328.9h0.9M478.4 328.9h0.9M483.7 328.9h0.9M71.8 334.8h0.9M77.1 334.8h0.9M82.4 334.8h0.9M87.7 334.8h0.9M93.0 334.8h0.9M98.2 334.8h0.9M103.5 334.8h0.9M108.8 334.8h0.9M114.1 334.8h0.9M119.4 334.8h0.9M124.6 334.8h0.9M129.9 334.8h0.9M135.2 334.8h0.9M140.5 334.8h0.9M145.8 334.8h0.9M151.0 334.8h0.9M156.3 334.8h0.9M161.6 334.8h0.9M166.9 334.8h0.9M172.2 334.8h0.9M177.4 334.8h0.9M182.7 334.8h0.9M188.0 334.8l1.2 -1.0M219.7 334.8l2.7 0.5M225.0 334.8l2.5 1.8M267.2 334.8l1.4 -2.0M272.5 334.8h0.9M277.8 334.8h0.9M283.0 334.8h0.9M288.3 334.8h0.9M293.6 334.8h0.9M298.9 334.8l1.1 -0.2M304.2 334.8l1.4 -0.3M309.4 334.8l1.4 -0.2M314.7 334.8h0.9M320.0 334.8h0.9M325.3 334.8h0.9M330.6 334.8h0.9M335.8 334.8h0.9M341.1 334.8h0.9M346.4 334.8l0.2 -1.1M351.7 334.8l0.3 -1.3M357.0 334.8l0.2 -1.2M362.2 334.8h0.9M367.5 334.8h0.9M372.8 334.8h0.9M378.1 334.8h0.9M383.4 334.8h0.9M388.6 334.8l1.0 0.6M393.9 334.8l1.4 0.6M399.2 334.8l1.7 0.7M404.5 334.8l2.2 1.3M425.6 334.8l3.0 -0.3M430.9 334.8h0.9M436.2 334.8h0.9M441.4 334.8h0.9M446.7 334.8h0.9M452.0 334.8h0.9M457.3 334.8h0.9M462.6 334.8h0.9M467.8 334.8h0.9M473.1 334.8h0.9M478.4 334.8h0.9M483.7 334.8h0.9M71.8 340.7h0.9M77.1 340.7h0.9M82.4 340.7h0.9M87.7 340.7h0.9M93.0 340.7h0.9M98.2 340.7h0.9M103.5 340.7h0.9M108.8 340.7h0.9M114.1 340.7h0.9M119.4 340.7h0.9M124.6 340.7h0.9M129.9 340.7h0.9M135.2 340.7h0.9M140.5 340.7h0.9M145.8 340.7h0.9M151.0 340.7h0.9M156.3 340.7h0.9M161.6 340.7h0.9M166.9 340.7l1.2 -0.3M172.2 340.7h0.9M177.4 340.7l1.7 0.1M182.7 340.7l2.7 -0.3M219.7 340.7l2.2 1.3M225.0 340.7l1.2 1.1M230.2 340.7l1.8 1.2M261.9 340.7l1.5 -1.6M267.2 340.7h0.9M272.5 340.7h0.9M277.8 340.7h0.9M283.0 340.7h0.9M288.3 340.7h0.9M293.6 340.7h0.9M298.9 340.7h0.9M304.2 340.7l1.1 -0.2M309.4 340.7h0.9M314.7 340.7h0.9M320.0 340.7h0.9M325.3 340.7h0.9M330.6 340.7h0.9M335.8 340.7h0.9M341.1 340.7h0.9M346.4 340.7h0.9M351.7 340.7h0.9M357.0 340.7h0.9M362.2 340.7h0.9M367.5 340.7h0.9M372.8 340.7h0.9M378.1 340.7h0.9M383.4 340.7l1.4 0.6M388.6 340.7l1.7 0.8M393.9 340.7l1.8 0.9M399.2 340.7l1.6 0.8M404.5 340.7l1.3 0.7M409.8 340.7l1.1 0.7M415.0 340.7l0.9 0.7M420.3 340.7h0.9M425.6 340.7h0.9M430.9 340.7h0.9M436.2 340.7h0.9M441.4 340.7h0.9M446.7 340.7h0.9M452.0 340.7h0.9M457.3 340.7h0.9M462.6 340.7h0.9M467.8 340.7l-0.5 -1.0M473.1 340.7h0.9M478.4 340.7h0.9M483.7 340.7h0.9M71.8 346.6h0.9M77.1 346.6h0.9M82.4 346.6h0.9M87.7 346.6h0.9M93.0 346.6h0.9M98.2 346.6h0.9M103.5 346.6h0.9M108.8 346.6h0.9M114.1 346.6h0.9M119.4 346.6h0.9M124.6 346.6h0.9M129.9 346.6h0.9M135.2 346.6h0.9M140.5 346.6h0.9M145.8 346.6h0.9M151.0 346.6l1.2 -0.8M156.3 346.6l2.0 -0.9M161.6 346.6l2.7 -1.2M193.3 346.6l3.0 -0.9M209.1 346.6l1.6 -1.1M219.7 346.6l0.2 3.0M225.0 346.6h0.9M230.2 346.6h0.9M235.5 346.6h0.9M240.8 346.6h0.9M246.1 346.6h0.9M251.4 346.6h0.9M256.6 346.6l-0.3 -1.1M261.9 346.6l-0.9 -1.2M267.2 346.6l-1.3 -1.0M272.5 346.6l-1.2 -0.6M277.8 346.6h0.9M283.0 346.6h0.9M288.3 346.6h0.9M293.6 346.6h0.9M298.9 346.6h0.9M304.2 346.6h0.9M309.4 346.6h0.9M314.7 346.6h0.9M320.0 346.6h0.9M325.3 346.6h0.9M330.6 346.6h0.9M335.8 346.6h0.9M341.1 346.6h0.9M346.4 346.6h0.9M351.7 346.6h0.9M357.0 346.6h0.9M362.2 346.6h0.9M367.5 346.6l0.7 -1.0M372.8 346.6l1.7 -0.8M378.1 346.6l2.5 -0.3M383.4 346.6l3.0 0.4M388.6 346.6l2.9 1.0M393.9 346.6l2.4 1.2M399.2 346.6l1.7 1.1M404.5 346.6l1.0 0.9M409.8 346.6h0.9M415.0 346.6h0.9M420.3 346.6h0.9M425.6 346.6h0.9M430.9 346.6h0.9M436.2 346.6h0.9M441.4 346.6h0.9M446.7 346.6h0.9M452.0 346.6h0.9M457.3 346.6h0.9M462.6 346.6h0.9M467.8 346.6h0.9M473.1 346.6l0.3 -1.3M478.4 346.6l0.7 -1.2M483.7 346.6l0.8 -1.1M71.8 352.6h0.9M77.1 352.6h0.9M82.4 352.6h0.9M87.7 352.6h0.9M93.0 352.6h0.9M98.2 352.6h0.9M103.5 352.6h0.9M108.8 352.6h0.9M114.1 352.6h0.9M119.4 352.6h0.9M124.6 352.6h0.9M129.9 352.6h0.9M135.2 352.6h0.9M140.5 352.6l1.1 -0.4M145.8 352.6l1.8 -1.0M177.4 352.6l2.8 -0.3M182.7 352.6l2.4 0.3M188.0 352.6l2.1 0.7M193.3 352.6l1.3 0.6M198.6 352.6h0.9M203.8 352.6l-2.8 -1.1M219.7 352.6l-1.8 1.0M225.0 352.6h0.9M230.2 352.6h0.9M235.5 352.6h0.9M240.8 352.6h0.9M246.1 352.6h0.9M251.4 352.6l-1.1 -0.7M256.6 352.6l-1.5 -0.9M261.9 352.6l-1.6 -1.1M267.2 352.6l-1.5 -1.2M272.5 352.6l-1.1 -1.0M277.8 352.6h0.9M283.0 352.6h0.9M288.3 352.6h0.9M293.6 352.6h0.9M298.9 352.6h0.9M304.2 352.6h0.9M309.4 352.6h0.9M314.7 352.6h0.9M320.0 352.6h0.9M325.3 352.6h0.9M330.6 352.6h0.9M335.8 352.6h0.9M341.1 352.6h0.9M346.4 352.6h0.9M351.7 352.6h0.9M357.0 352.6h0.9M362.2 352.6h0.9M367.5 352.6l0.8 -1.4M372.8 352.6l1.7 -1.4M378.1 352.6l2.5 -0.8M383.4 352.6l2.8 0.3M388.6 352.6l2.6 1.1M393.9 352.6l2.0 1.4M399.2 352.6l1.2 1.3M404.5 352.6l0.6 1.1M409.8 352.6h0.9M415.0 352.6h0.9M420.3 352.6h0.9M425.6 352.6h0.9M430.9 352.6h0.9M436.2 352.6h0.9M441.4 352.6h0.9M446.7 352.6h0.9M452.0 352.6h0.9M457.3 352.6h0.9M462.6 352.6h0.9M467.8 352.6h0.9M473.1 352.6l0.9 -1.1M478.4 352.6l1.0 -1.3M483.7 352.6l0.9 -1.3M71.8 358.5h0.9M77.1 358.5h0.9M82.4 358.5h0.9M87.7 358.5h0.9M93.0 358.5h0.9M98.2 358.5h0.9M103.5 358.5h0.9M108.8 358.5h0.9M114.1 358.5h0.9M119.4 358.5h0.9M124.6 358.5h0.9M129.9 358.5h0.9M135.2 358.5l1.4 -0.8M140.5 358.5l2.4 -1.4M166.9 358.5l2.4 -1.1M172.2 358.5l1.4 -0.5M177.4 358.5l1.2 0.0M182.7 358.5l1.1 0.5M188.0 358.5l1.1 0.9M193.3 358.5l1.0 1.1M198.6 358.5l0.6 1.1M203.8 358.5h0.9M209.1 358.5h0.9M214.4 358.5h0.9M219.7 358.5h0.9M225.0 358.5h0.9M230.2 358.5h0.9M235.5 358.5h0.9M240.8 358.5h0.9M246.1 358.5l-1.0 -0.5M251.4 358.5l-1.4 -0.6M256.6 358.5l-1.7 -0.7M261.9 358.5l-1.6 -0.9M267.2 358.5l-1.2 -1.1M272.5 358.5l-0.7 -1.1M277.8 358.5h0.9M283.0 358.5h0.9M288.3 358.5h0.9M293.6 358.5h0.9M298.9 358.5h0.9M304.2 358.5h0.9M309.4 358.5h0.9M314.7 358.5h0.9M320.0 358.5h0.9M325.3 358.5h0.9M330.6 358.5h0.9M335.8 358.5h0.9M341.1 358.5h0.9M346.4 358.5h0.9M351.7 358.5h0.9M357.0 358.5h0.9M362.2 358.5h0.9M367.5 358.5h0.9M372.8 358.5l-0.3 -1.2M378.1 358.5h0.9M383.4 358.5h0.9M388.6 358.5h0.9M393.9 358.5h0.9M399.2 358.5h0.9M404.5 358.5h0.9M409.8 358.5h0.9M415.0 358.5h0.9M420.3 358.5h0.9M425.6 358.5h0.9M430.9 358.5h0.9M436.2 358.5h0.9M441.4 358.5h0.9M446.7 358.5h0.9M452.0 358.5h0.9M457.3 358.5h0.9M462.6 358.5h0.9M467.8 358.5l1.1 -0.3M473.1 358.5l1.3 -0.7M478.4 358.5l1.3 -1.0M483.7 358.5l0.9 -1.3M71.8 364.4h0.9M77.1 364.4h0.9M82.4 364.4h0.9M87.7 364.4h0.9M93.0 364.4h0.9M98.2 364.4h0.9M103.5 364.4h0.9M108.8 364.4h0.9M114.1 364.4h0.9M119.4 364.4h0.9M124.6 364.4h0.9M129.9 364.4l1.7 -1.2M156.3 364.4l2.1 -1.6M161.6 364.4l1.0 -0.8M166.9 364.4h0.9M172.2 364.4h0.9M177.4 364.4h0.9M182.7 364.4h0.9M188.0 364.4h0.9M193.3 364.4l0.9 0.7M198.6 364.4l0.7 0.9M203.8 364.4h0.9M209.1 364.4h0.9M214.4 364.4h0.9M219.7 364.4h0.9M225.0 364.4h0.9M230.2 364.4h0.9M235.5 364.4h0.9M240.8 364.4l-0.7 -0.9M246.1 364.4l-1.2 -0.8M251.4 364.4l-1.5 -0.6M256.6 364.4l-1.5 -0.6M261.9 364.4l-1.2 -0.6M267.2 364.4h0.9M272.5 364.4h0.9M277.8 364.4h0.9M283.0 364.4h0.9M288.3 364.4h0.9M293.6 364.4h0.9M298.9 364.4h0.9M304.2 364.4h0.9M309.4 364.4l-0.4 1.1M314.7 364.4l-0.4 1.1M320.0 364.4h0.9M325.3 364.4h0.9M330.6 364.4h0.9M335.8 364.4h0.9M341.1 364.4h0.9M346.4 364.4l-0.2 1.6M351.7 364.4l-0.7 1.4M357.0 364.4h0.9M362.2 364.4h0.9M367.5 364.4h0.9M372.8 364.4h0.9M378.1 364.4h0.9M383.4 364.4h0.9M388.6 364.4h0.9M393.9 364.4h0.9M399.2 364.4h0.9M404.5 364.4h0.9M409.8 364.4h0.9M415.0 364.4h0.9M420.3 364.4h0.9M425.6 364.4h0.9M430.9 364.4h0.9M436.2 364.4h0.9M441.4 364.4h0.9M446.7 364.4h0.9M452.0 364.4h0.9M457.3 364.4h0.9M462.6 364.4l1.4 0.3M467.8 364.4l1.6 0.2M473.1 364.4l1.5 -0.1M478.4 364.4l1.2 -0.5M483.7 364.4h0.9M71.8 370.4h0.9M77.1 370.4h0.9M82.4 370.4h0.9M87.7 370.4h0.9M93.0 370.4h0.9M98.2 370.4h0.9M103.5 370.4h0.9M108.8 370.4h0.9M114.1 370.4h0.9M119.4 370.4h0.9M124.6 370.4l2.0 -1.4M151.0 370.4l1.5 -1.3M156.3 370.4h0.9M161.6 370.4h0.9M166.9 370.4h0.9M172.2 370.4h0.9M177.4 370.4h0.9M182.7 370.4h0.9M188.0 370.4h0.9M193.3 370.4h0.9M198.6 370.4h0.9M203.8 370.4h0.9M209.1 370.4h0.9M214.4 370.4l1.0 0.5M219.7 370.4h0.9M225.0 370.4h0.9M230.2 370.4h0.9M235.5 370.4h0.9M240.8 370.4l-0.9 -1.0M246.1 370.4l-1.2 -1.0M251.4 370.4l-1.3 -0.8M256.6 370.4l-1.1 -0.6M261.9 370.4h0.9M267.2 370.4h0.9M272.5 370.4h0.9M277.8 370.4h0.9M283.0 370.4h0.9M288.3 370.4h0.9M293.6 370.4h0.9M298.9 370.4h0.9M304.2 370.4h0.9M309.4 370.4h0.9M314.7 370.4l-0.3 1.3M320.0 370.4l-0.4 1.2M325.3 370.4h0.9M330.6 370.4l-1.5 -0.3M335.8 370.4l-2.4 -0.5M341.1 370.4l-2.7 0.7M346.4 370.4l-2.2 1.7M351.7 370.4l-1.4 1.2M357.0 370.4h0.9M362.2 370.4h0.9M367.5 370.4h0.9M372.8 370.4h0.9M378.1 370.4h0.9M383.4 370.4h0.9M388.6 370.4h0.9M393.9 370.4h0.9M399.2 370.4h0.9M404.5 370.4h0.9M409.8 370.4h0.9M415.0 370.4h0.9M420.3 370.4h0.9M425.6 370.4h0.9M430.9 370.4h0.9M436.2 370.4h0.9M441.4 370.4h0.9M446.7 370.4l1.4 -0.5M452.0 370.4l2.0 0.0M457.3 370.4l2.1 0.5M462.6 370.4l2.1 0.6M467.8 370.4l1.9 0.5M473.1 370.4l1.5 0.4M478.4 370.4h0.9M483.7 370.4h0.9M71.8 376.3h0.9M77.1 376.3h0.9M82.4 376.3h0.9M87.7 376.3h0.9M93.0 376.3h0.9M98.2 376.3h0.9M103.5 376.3h0.9M108.8 376.3h0.9M114.1 376.3h0.9M119.4 376.3l2.0 -1.3M140.5 376.3l2.2 -2.2M145.8 376.3l1.0 -1.3M151.0 376.3h0.9M156.3 376.3h0.9M161.6 376.3h0.9M166.9 376.3h0.9M172.2 376.3h0.9M177.4 376.3h0.9M182.7 376.3h0.9M188.0 376.3h0.9M193.3 376.3h0.9M198.6 376.3h0.9M203.8 376.3h0.9M209.1 376.3l1.2 0.4M214.4 376.3l1.2 0.6M219.7 376.3h0.9M225.0 376.3h0.9M230.2 376.3h0.9M235.5 376.3h0.9M240.8 376.3l-1.2 -0.8M246.1 376.3l-1.2 -0.9M251.4 376.3l-1.0 -0.9M256.6 376.3h0.9M261.9 376.3h0.9M267.2 376.3h0.9M272.5 376.3h0.9M277.8 376.3h0.9M283.0 376.3h0.9M288.3 376.3h0.9M293.6 376.3h0.9M298.9 376.3h0.9M304.2 376.3h0.9M309.4 376.3h0.9M314.7 376.3l-0.2 1.1M320.0 376.3l-0.6 1.3M325.3 376.3l-1.2 1.2M330.6 376.3l-2.1 0.8M335.8 376.3l-3.0 0.5M346.4 376.3l-2.4 0.8M351.7 376.3l-1.2 0.4M357.0 376.3h0.9M362.2 376.3h0.9M367.5 376.3h0.9M372.8 376.3h0.9M378.1 376.3h0.9M383.4 376.3h0.9M388.6 376.3h0.9M393.9 376.3l-0.1 -1.1M399.2 376.3l-0.0 -1.3M404.5 376.3l0.1 -1.2M409.8 376.3h0.9M415.0 376.3h0.9M420.3 376.3h0.9M425.6 376.3h0.9M430.9 376.3h0.9M436.2 376.3h0.9M441.4 376.3l0.6 -1.0M446.7 376.3l1.5 -0.6M452.0 376.3l2.2 0.4M457.3 376.3l2.3 1.1M462.6 376.3l2.1 1.1M467.8 376.3l1.8 0.8M473.1 376.3l1.3 0.7M478.4 376.3h0.9M483.7 376.3h0.9M71.8 382.2l-0.8 0.9M77.1 382.2l-0.8 0.9M82.4 382.2l-0.8 0.8M87.7 382.2h0.9M93.0 382.2h0.9M98.2 382.2h0.9M103.5 382.2h0.9M108.8 382.2l1.3 0.2M114.1 382.2l2.6 -0.8M135.2 382.2l1.5 -1.9M140.5 382.2l0.1 -1.4M145.8 382.2l-0.6 -1.1M151.0 382.2l-0.7 -1.0M156.3 382.2h0.9M161.6 382.2h0.9M166.9 382.2h0.9M172.2 382.2h0.9M177.4 382.2h0.9M182.7 382.2h0.9M188.0 382.2h0.9M193.3 382.2h0.9M198.6 382.2h0.9M203.8 382.2l1.2 -0.2M209.1 382.2l1.1 0.2M214.4 382.2h0.9M219.7 382.2h0.9M225.0 382.2l-1.2 0.9M230.2 382.2l-2.1 0.6M235.5 382.2l-2.4 0.0M240.8 382.2l-2.3 -0.5M246.1 382.2l-1.6 -0.8M251.4 382.2l-0.8 -0.9M256.6 382.2h0.9M261.9 382.2h0.9M267.2 382.2h0.9M272.5 382.2h0.9M277.8 382.2h0.9M283.0 382.2h0.9M288.3 382.2h0.9M293.6 382.2h0.9M298.9 382.2h0.9M304.2 382.2h0.9M309.4 382.2h0.9M314.7 382.2h0.9M320.0 382.2l-0.8 0.9M325.3 382.2l-1.3 1.2M330.6 382.2l-1.8 1.2M335.8 382.2l-2.0 1.1M341.1 382.2l-1.8 0.9M346.4 382.2l-1.2 0.5M351.7 382.2h0.9M357.0 382.2h0.9M362.2 382.2h0.9M367.5 382.2h0.9M372.8 382.2h0.9M378.1 382.2h0.9M383.4 382.2h0.9M388.6 382.2h0.9M393.9 382.2h0.9M399.2 382.2l-0.1 -1.2M404.5 382.2l-0.0 -1.3M409.8 382.2l-0.1 -1.3M415.0 382.2h0.9M420.3 382.2h0.9M425.6 382.2h0.9M430.9 382.2h0.9M436.2 382.2h0.9M441.4 382.2h0.9M446.7 382.2h0.9M452.0 382.2h0.9M457.3 382.2l1.1 1.4M462.6 382.2l1.3 1.2M467.8 382.2l1.2 0.8M473.1 382.2l0.9 0.7M478.4 382.2h0.9M483.7 382.2h0.9M71.8 388.2l-0.8 0.9M77.1 388.2l-1.0 1.1M82.4 388.2l-1.0 1.1M87.7 388.2l-0.9 0.9M93.0 388.2h0.9M98.2 388.2h0.9M103.5 388.2l1.2 -0.3M108.8 388.2l2.6 -1.3M129.9 388.2l1.2 -1.2M135.2 388.2h0.9M140.5 388.2h0.9M145.8 388.2l-0.8 -0.8M151.0 388.2l-0.6 -1.1M156.3 388.2l-0.3 -1.2M161.6 388.2l0.0 -1.1M166.9 388.2h0.9M172.2 388.2h0.9M177.4 388.2h0.9M182.7 388.2l-1.4 1.4M188.0 388.2l-1.7 -0.7M193.3 388.2l-0.3 -1.9M198.6 388.2l0.9 -1.0M203.8 388.2l1.2 -0.2M209.1 388.2h0.9M214.4 388.2h0.9M219.7 388.2l-1.4 1.6M240.8 388.2l-3.1 -0.6M246.1 388.2l-1.9 -1.0M251.4 388.2l-0.7 -1.0M256.6 388.2h0.9M261.9 388.2h0.9M267.2 388.2h0.9M272.5 388.2h0.9M277.8 388.2h0.9M283.0 388.2h0.9M288.3 388.2h0.9M293.6 388.2h0.9M298.9 388.2h0.9M304.2 388.2h0.9M309.4 388.2h0.9M314.7 388.2h0.9M320.0 388.2l-1.0 0.4M325.3 388.2l-1.5 0.7M330.6 388.2l-1.7 0.9M335.8 388.2l-1.5 1.1M341.1 388.2l-1.1 1.0M346.4 388.2h0.9M351.7 388.2h0.9M357.0 388.2h0.9M362.2 388.2h0.9M367.5 388.2h0.9M372.8 388.2h0.9M378.1 388.2h0.9M383.4 388.2h0.9M388.6 388.2h0.9M393.9 388.2h0.9M399.2 388.2h0.9M404.5 388.2l-0.3 -1.1M409.8 388.2l-0.6 -1.2M415.0 388.2l-0.9 -1.2M420.3 388.2l-1.1 -0.9M425.6 388.2l-1.1 -0.6M430.9 388.2h0.9M436.2 388.2h0.9M441.4 388.2h0.9M446.7 388.2h0.9M452.0 388.2h0.9M457.3 388.2l0.4 1.3M462.6 388.2l0.7 1.1M467.8 388.2h0.9M473.1 388.2h0.9M478.4 388.2h0.9M483.7 388.2h0.9M71.8 394.1h0.9M77.1 394.1l-1.0 0.9M82.4 394.1l-1.0 1.1M87.7 394.1l-0.6 1.0M93.0 394.1h0.9M98.2 394.1l1.2 -0.2M103.5 394.1l2.6 -1.6M124.6 394.1l1.0 -1.2M129.9 394.1h0.9M135.2 394.1h0.9M140.5 394.1h0.9M145.8 394.1h0.9M151.0 394.1h0.9M156.3 394.1l-0.2 -1.2M161.6 394.1l-0.2 -1.4M166.9 394.1l-0.1 -1.3M172.2 394.1h0.9M177.4 394.1l-0.3 1.3M182.7 394.1l-0.7 2.4M188.0 394.1l-0.7 -1.0M193.3 394.1l0.3 -3.0M198.6 394.1l1.2 -1.2M203.8 394.1l1.4 0.1M209.1 394.1l1.2 0.7M214.4 394.1l0.7 1.5M219.7 394.1l0.2 2.0M225.0 394.1l-0.3 2.0M230.2 394.1l-0.5 1.3M235.5 394.1h0.9M240.8 394.1h0.9M246.1 394.1h0.9M251.4 394.1h0.9M256.6 394.1h0.9M261.9 394.1h0.9M267.2 394.1h0.9M272.5 394.1h0.9M277.8 394.1h0.9M283.0 394.1h0.9M288.3 394.1h0.9M293.6 394.1l1.2 -0.3M298.9 394.1l1.3 -0.0M304.2 394.1h0.9M309.4 394.1h0.9M314.7 394.1h0.9M320.0 394.1l-1.2 -0.2M325.3 394.1l-1.5 0.0M330.6 394.1l-1.4 0.3M335.8 394.1l-1.0 0.6M341.1 394.1h0.9M346.4 394.1h0.9M351.7 394.1h0.9M357.0 394.1h0.9M362.2 394.1h0.9M367.5 394.1h0.9M372.8 394.1h0.9M378.1 394.1h0.9M383.4 394.1h0.9M388.6 394.1h0.9M393.9 394.1h0.9M399.2 394.1h0.9M404.5 394.1h0.9M409.8 394.1l-1.1 -0.8M415.0 394.1l-1.3 -1.0M420.3 394.1l-1.4 -0.9M425.6 394.1l-1.2 -0.8M430.9 394.1h0.9M436.2 394.1h0.9M441.4 394.1h0.9M446.7 394.1h0.9M452.0 394.1l0.5 1.2M457.3 394.1l0.5 1.3M462.6 394.1l0.5 1.1M467.8 394.1h0.9M473.1 394.1h0.9M478.4 394.1h0.9M483.7 394.1h0.9M71.8 400.0h0.9M77.1 400.0h0.9M82.4 400.0h0.9M87.7 400.0h0.9M93.0 400.0h0.9M98.2 400.0l2.1 -1.6M119.4 400.0l0.9 -1.5M124.6 400.0h0.9M129.9 400.0h0.9M135.2 400.0h0.9M140.5 400.0h0.9M145.8 400.0h0.9M151.0 400.0h0.9M156.3 400.0h0.9M161.6 400.0l-0.4 -1.2M166.9 400.0l-0.5 -1.4M172.2 400.0h0.9M177.4 400.0h0.9M182.7 400.0l1.4 2.1M188.0 400.0l2.2 -1.1M198.6 400.0l1.5 -1.0M203.8 400.0l1.3 0.3M209.1 400.0l1.2 0.7M214.4 400.0l1.3 1.1M219.7 400.0l1.7 1.4M225.0 400.0l2.3 1.4M230.2 400.0l2.8 1.0M235.5 400.0l3.0 0.5M240.8 400.0l2.7 0.1M246.1 400.0l2.2 0.1M251.4 400.0l1.7 0.2M256.6 400.0l1.2 0.2M261.9 400.0h0.9M267.2 400.0h0.9M272.5 400.0h0.9M277.8 400.0h0.9M283.0 400.0l1.1 -0.5M288.3 400.0l1.3 -0.7M293.6 400.0l1.5 -0.8M298.9 400.0l1.4 -0.2M304.2 400.0h0.9M309.4 400.0h0.9M314.7 400.0h0.9M320.0 400.0l-1.2 -0.4M325.3 400.0l-1.2 -0.5M330.6 400.0h0.9M335.8 400.0h0.9M341.1 400.0h0.9M346.4 400.0h0.9M351.7 400.0h0.9M357.0 400.0h0.9M362.2 400.0h0.9M367.5 400.0h0.9M372.8 400.0h0.9M378.1 400.0h0.9M383.4 400.0h0.9M388.6 400.0h0.9M393.9 400.0h0.9M399.2 400.0h0.9M404.5 400.0l-1.1 -0.2M409.8 400.0l-1.5 -0.3M415.0 400.0l-1.6 -0.5M420.3 400.0l-1.5 -0.6M425.6 400.0l-1.0 -0.7M430.9 400.0h0.9M436.2 400.0h0.9M441.4 400.0h0.9M446.7 400.0h0.9M452.0 400.0l0.6 1.1M457.3 400.0l0.4 1.3M462.6 400.0l0.3 1.2M467.8 400.0h0.9M473.1 400.0h0.9M478.4 400.0h0.9M483.7 400.0h0.9M71.8 405.9l-1.0 -0.5M77.1 405.9h0.9M82.4 405.9h0.9M87.7 405.9h0.9M93.0 405.9l1.7 -1.2M114.1 405.9l0.7 -1.2M119.4 405.9h0.9M124.6 405.9l-1.1 -1.0M129.9 405.9l-1.0 -1.3M135.2 405.9l-0.5 -1.0M140.5 405.9h0.9M145.8 405.9h0.9M151.0 405.9h0.9M156.3 405.9h0.9M161.6 405.9l-0.9 -0.6M166.9 405.9l-0.9 -1.1M172.2 405.9l-0.5 -1.0M177.4 405.9h0.9M182.7 405.9l2.0 0.6M188.0 405.9l3.0 -1.0M193.3 405.9l2.1 -1.7M198.6 405.9l1.1 -0.4M203.8 405.9h0.9M209.1 405.9h0.9M214.4 405.9h0.9M219.7 405.9h0.9M225.0 405.9h0.9M230.2 405.9l1.2 0.6M235.5 405.9l1.5 0.6M240.8 405.9l1.5 0.7M246.1 405.9l1.3 0.9M251.4 405.9l1.0 1.0M256.6 405.9l0.7 0.9M261.9 405.9h0.9M267.2 405.9h0.9M272.5 405.9h0.9M277.8 405.9l1.1 -0.5M283.0 405.9l1.3 -0.9M288.3 405.9l1.4 -1.4M293.6 405.9l1.4 -1.6M298.9 405.9l1.1 -0.6M304.2 405.9h0.9M309.4 405.9h0.9M314.7 405.9h0.9M320.0 405.9l-1.1 -0.5M325.3 405.9h0.9M330.6 405.9h0.9M335.8 405.9h0.9M341.1 405.9h0.9M346.4 405.9h0.9M351.7 405.9h0.9M357.0 405.9h0.9M362.2 405.9h0.9M367.5 405.9h0.9M372.8 405.9h0.9M378.1 405.9h0.9M383.4 405.9h0.9M388.6 405.9h0.9M393.9 405.9h0.9M399.2 405.9l-1.2 -0.2M404.5 405.9l-1.7 -0.1M409.8 405.9l-1.9 0.0M415.0 405.9l-1.8 -0.0M420.3 405.9l-1.4 -0.2M425.6 405.9h0.9M430.9 405.9h0.9M436.2 405.9h0.9M441.4 405.9h0.9M446.7 405.9h0.9M452.0 405.9h0.9M457.3 405.9h0.9M462.6 405.9l0.1 1.2M467.8 405.9l0.1 1.2M473.1 405.9h0.9M478.4 405.9h0.9M483.7 405.9h0.9M71.8 411.9h0.9M77.1 411.9h0.9M82.4 411.9h0.9M87.7 411.9l1.4 -1.7M108.8 411.9l0.7 -1.3M114.1 411.9h0.9M119.4 411.9l-1.2 -0.3M124.6 411.9l-1.5 -0.9M129.9 411.9l-1.6 -1.5M135.2 411.9l-1.6 -1.3M140.5 411.9l-1.6 -0.1M145.8 411.9l-1.5 1.1M151.0 411.9l-1.5 1.2M156.3 411.9l-1.4 0.6M161.6 411.9l-1.3 -0.0M166.9 411.9l-1.1 -0.5M172.2 411.9h0.9M177.4 411.9h0.9M182.7 411.9l1.2 -0.5M188.0 411.9l1.7 -0.9M193.3 411.9l1.1 -0.9M198.6 411.9h0.9M203.8 411.9h0.9M209.1 411.9l-0.9 0.7M214.4 411.9l-1.1 0.8M219.7 411.9l-1.0 0.7M225.0 411.9h0.9M230.2 411.9h0.9M235.5 411.9h0.9M240.8 411.9h0.9M246.1 411.9h0.9M251.4 411.9h0.9M256.6 411.9h0.9M261.9 411.9h0.9M267.2 411.9l1.5 0.4M272.5 411.9l1.9 0.3M277.8 411.9l1.7 -0.1M283.0 411.9l1.5 -0.9M288.3 411.9l1.2 -1.9M293.6 411.9l0.9 -2.3M298.9 411.9l0.4 -1.2M304.2 411.9h0.9M309.4 411.9h0.9M314.7 411.9h0.9M320.0 411.9h0.9M325.3 411.9h0.9M330.6 411.9h0.9M335.8 411.9h0.9M341.1 411.9h0.9M346.4 411.9h0.9M351.7 411.9h0.9M357.0 411.9h0.9M362.2 411.9h0.9M367.5 411.9h0.9M372.8 411.9h0.9M378.1 411.9h0.9M383.4 411.9h0.9M388.6 411.9h0.9M393.9 411.9l-1.2 -0.3M399.2 411.9l-1.7 -0.2M404.5 411.9l-2.0 -0.1M409.8 411.9l-2.0 0.1M415.0 411.9l-1.7 0.2M420.3 411.9l-1.2 0.2M425.6 411.9h0.9M430.9 411.9h0.9M436.2 411.9h0.9M441.4 411.9h0.9M446.7 411.9h0.9M452.0 411.9h0.9M457.3 411.9h0.9M462.6 411.9h0.9M467.8 411.9l0.7 1.2M473.1 411.9l0.4 1.4M478.4 411.9h0.9M483.7 411.9h0.9M71.8 417.8h0.9M77.1 417.8l0.2 -1.1M82.4 417.8l1.0 -1.9M103.5 417.8l1.4 -2.1M108.8 417.8h0.9M114.1 417.8h0.9M119.4 417.8l-1.3 0.1M124.6 417.8l-1.5 -0.4M129.9 417.8l-1.8 -0.9M135.2 417.8l-2.3 -0.9M140.5 417.8l-2.6 -0.2M145.8 417.8l-2.5 0.6M151.0 417.8l-2.2 0.8M156.3 417.8l-1.8 0.6M161.6 417.8l-1.5 0.3M166.9 417.8h0.9M172.2 417.8h0.9M177.4 417.8h0.9M182.7 417.8h0.9M188.0 417.8h0.9M193.3 417.8h0.9M198.6 417.8h0.9M203.8 417.8l-1.2 0.1M209.1 417.8l-1.5 0.5M214.4 417.8l-1.6 0.8M219.7 417.8l-1.4 0.9M225.0 417.8l-1.1 0.8M230.2 417.8h0.9M235.5 417.8h0.9M240.8 417.8h0.9M246.1 417.8h0.9M251.4 417.8h0.9M256.6 417.8h0.9M261.9 417.8l1.6 -0.5M267.2 417.8l3.1 -0.1M277.8 417.8l2.6 1.2M283.0 417.8l1.5 -0.2M288.3 417.8l0.7 -1.8M293.6 417.8l0.1 -2.7M298.9 417.8l-0.4 -1.6M304.2 417.8h0.9M309.4 417.8l-1.0 0.5M314.7 417.8h0.9M320.0 417.8h0.9M325.3 417.8h0.9M330.6 417.8h0.9M335.8 417.8h0.9M341.1 417.8h0.9M346.4 417.8h0.9M351.7 417.8h0.9M357.0 417.8h0.9M362.2 417.8h0.9M367.5 417.8h0.9M372.8 417.8h0.9M378.1 417.8h0.9M383.4 417.8h0.9M388.6 417.8h0.9M393.9 417.8l-1.6 0.0M399.2 417.8l-2.0 -0.1M404.5 417.8l-2.1 -0.1M409.8 417.8l-1.9 -0.0M415.0 417.8l-1.4 0.2M420.3 417.8h0.9M425.6 417.8h0.9M430.9 417.8h0.9M436.2 417.8h0.9M441.4 417.8h0.9M446.7 417.8h0.9M452.0 417.8l-0.1 -1.2M457.3 417.8l0.6 -1.2M462.6 417.8l1.4 -0.3M467.8 417.8l1.4 1.1M473.1 417.8l0.7 1.8M478.4 417.8l-0.2 1.6M483.7 417.8l-1.0 1.0M71.8 423.7h0.9M77.1 423.7l0.8 -1.3M103.5 423.7l1.2 -1.5M108.8 423.7h0.9M114.1 423.7h0.9M119.4 423.7l-1.1 0.5M124.6 423.7l-1.3 0.3M129.9 423.7l-1.6 -0.0M135.2 423.7l-2.1 -0.1M140.5 423.7l-2.4 0.0M145.8 423.7l-2.4 0.3M151.0 423.7l-2.2 0.4M156.3 423.7l-1.8 0.4M161.6 423.7l-1.3 0.5M166.9 423.7h0.9M172.2 423.7h0.9M177.4 423.7h0.9M182.7 423.7h0.9M188.0 423.7h0.9M193.3 423.7h0.9M198.6 423.7l-1.4 -0.5M203.8 423.7l-1.7 -0.3M209.1 423.7l-1.8 0.1M214.4 423.7l-1.7 0.4M219.7 423.7l-1.5 0.7M225.0 423.7l-1.2 0.8M230.2 423.7l-1.1 0.7M235.5 423.7l-1.0 0.6M240.8 423.7h0.9M246.1 423.7h0.9M251.4 423.7h0.9M256.6 423.7l-0.0 -1.1M261.9 423.7l1.2 -2.3M267.2 423.7l2.5 -1.2M283.0 423.7l0.8 1.0M288.3 423.7l-0.1 -1.3M293.6 423.7l-0.8 -2.5M298.9 423.7l-1.2 -1.7M304.2 423.7l-1.3 -0.1M309.4 423.7l-1.1 0.2M314.7 423.7h0.9M320.0 423.7h0.9M325.3 423.7h0.9M330.6 423.7h0.9M335.8 423.7h0.9M341.1 423.7h0.9M346.4 423.7h0.9M351.7 423.7h0.9M357.0 423.7h0.9M362.2 423.7h0.9M367.5 423.7h0.9M372.8 423.7l0.3 1.2M378.1 423.7l-0.2 1.3M383.4 423.7l-0.8 1.2M388.6 423.7l-1.4 0.9M393.9 423.7l-1.9 0.6M399.2 423.7l-2.0 0.2M404.5 423.7l-1.9 -0.0M409.8 423.7l-1.5 -0.1M415.0 423.7h0.9M420.3 423.7h0.9M425.6 423.7h0.9M430.9 423.7h0.9M436.2 423.7h0.9M441.4 423.7h0.9M446.7 423.7l-0.9 -1.1M452.0 423.7l-0.7 -2.0M457.3 423.7l-0.4 -2.3M462.6 423.7l-0.1 -1.2M467.8 423.7h0.9M473.1 423.7l-0.7 1.9M478.4 423.7l-1.3 1.8M483.7 423.7l-1.8 1.2M71.8 429.7h0.9M77.1 429.7l1.2 -1.7M103.5 429.7l1.3 -1.2M108.8 429.7h0.9M114.1 429.7h0.9M119.4 429.7h0.9M124.6 429.7l-1.0 0.7M129.9 429.7l-1.3 0.7M135.2 429.7l-1.7 0.6M140.5 429.7l-2.1 0.5M145.8 429.7l-2.1 0.4M151.0 429.7l-1.9 0.3M156.3 429.7l-1.4 0.3M161.6 429.7h0.9M166.9 429.7h0.9M172.2 429.7h0.9M177.4 429.7h0.9M182.7 429.7h0.9M188.0 429.7h0.9M193.3 429.7l-1.4 -0.4M198.6 429.7l-1.8 -0.6M203.8 429.7l-2.0 -0.6M209.1 429.7l-1.9 -0.4M214.4 429.7l-1.7 -0.2M219.7 429.7l-1.5 0.2M225.0 429.7l-1.3 0.4M230.2 429.7l-1.2 0.6M235.5 429.7l-1.3 0.6M240.8 429.7l-1.4 0.4M246.1 429.7l-1.3 0.1M251.4 429.7h0.9M256.6 429.7l-0.7 -1.6M261.9 429.7l-0.9 -2.8M267.2 429.7l-1.3 -1.6M272.5 429.7l-1.3 1.8M277.8 429.7l-0.8 3.1M283.0 429.7l-0.7 1.4M288.3 429.7l-1.0 -0.7M293.6 429.7l-1.6 -1.8M298.9 429.7l-1.9 -1.3M304.2 429.7l-1.7 -0.1M309.4 429.7l-1.2 -0.1M314.7 429.7h0.9M320.0 429.7h0.9M325.3 429.7h0.9M330.6 429.7h0.9M335.8 429.7h0.9M341.1 429.7h0.9M346.4 429.7h0.9M351.7 429.7h0.9M357.0 429.7h0.9M362.2 429.7h0.9M367.5 429.7h0.9M372.8 429.7h0.9M378.1 429.7l-0.5 1.3M383.4 429.7l-1.2 1.4M388.6 429.7l-1.7 1.3M393.9 429.7l-1.9 1.1M399.2 429.7l-1.8 0.6M404.5 429.7l-1.5 0.2M409.8 429.7l-1.1 -0.1M415.0 429.7h0.9M420.3 429.7h0.9M425.6 429.7h0.9M430.9 429.7h0.9M436.2 429.7h0.9M441.4 429.7h0.9M446.7 429.7l-1.1 -0.9M452.0 429.7l-1.4 -1.7M457.3 429.7l-1.9 -2.2M462.6 429.7l-2.6 -1.5M467.8 429.7l-2.8 -0.0M473.1 429.7l-2.7 1.0M478.4 429.7l-2.6 1.0M483.7 429.7l-2.6 0.7M71.8 435.6h0.9M77.1 435.6l1.1 -1.5M103.5 435.6l-0.8 -0.9M108.8 435.6l-0.8 1.0M114.1 435.6l-0.8 0.9M119.4 435.6h0.9M124.6 435.6l-1.0 0.8M129.9 435.6l-1.4 1.0M135.2 435.6l-1.7 1.1M140.5 435.6l-1.9 1.0M145.8 435.6l-1.8 0.8M151.0 435.6l-1.5 0.6M156.3 435.6h0.9M161.6 435.6h0.9M166.9 435.6h0.9M172.2 435.6h0.9M177.4 435.6h0.9M182.7 435.6h0.9M188.0 435.6l-1.4 0.3M193.3 435.6l-1.8 -0.1M198.6 435.6l-2.0 -0.4M203.8 435.6l-2.0 -0.7M209.1 435.6l-1.9 -0.9M214.4 435.6l-1.5 -1.0M219.7 435.6l-1.0 -0.9M225.0 435.6h0.9M230.2 435.6h0.9M235.5 435.6h0.9M240.8 435.6l-1.0 0.8M246.1 435.6l-1.2 0.4M251.4 435.6h0.9M256.6 435.6l-0.9 -0.9M261.9 435.6l-1.6 -1.7M267.2 435.6l-2.7 -1.1M272.5 435.6l-2.9 0.8M277.8 435.6l-2.2 1.6M283.0 435.6l-1.7 0.8M288.3 435.6l-1.8 -0.3M293.6 435.6l-2.1 -1.0M298.9 435.6l-2.2 -0.7M304.2 435.6l-1.8 0.1M309.4 435.6l-1.2 -0.1M314.7 435.6h0.9M320.0 435.6h0.9M325.3 435.6h0.9M330.6 435.6h0.9M335.8 435.6h0.9M341.1 435.6h0.9M346.4 435.6h0.9M351.7 435.6h0.9M357.0 435.6h0.9M362.2 435.6h0.9M367.5 435.6h0.9M372.8 435.6h0.9M378.1 435.6l-1.0 0.9M383.4 435.6l-1.5 1.2M388.6 435.6l-1.8 1.3M393.9 435.6l-1.7 1.3M399.2 435.6l-1.5 1.0M404.5 435.6l-1.1 0.6M409.8 435.6h0.9M415.0 435.6h0.9M420.3 435.6h0.9M425.6 435.6h0.9M430.9 435.6h0.9M436.2 435.6h0.9M441.4 435.6h0.9M446.7 435.6l-0.9 -0.6M452.0 435.6l-1.2 -1.0M457.3 435.6l-1.9 -1.3M462.6 435.6l-2.7 -1.2M478.4 435.6l-3.1 -0.1M483.7 435.6l-2.9 0.0M71.8 441.5h0.9M77.1 441.5h0.9M82.4 441.5l0.5 -1.5M87.7 441.5l0.4 -2.1M93.0 441.5l-0.4 -2.3M98.2 441.5l-1.7 -1.9M103.5 441.5l-2.3 -0.6M108.8 441.5l-1.7 0.4M114.1 441.5h0.9M119.4 441.5h0.9M124.6 441.5l-1.3 0.5M129.9 441.5l-1.6 0.9M135.2 441.5l-1.8 1.2M140.5 441.5l-1.8 1.3M145.8 441.5l-1.5 1.2M151.0 441.5l-1.0 1.0M156.3 441.5h0.9M161.6 441.5h0.9M166.9 441.5h0.9M172.2 441.5h0.9M177.4 441.5h0.9M182.7 441.5l-1.2 0.4M188.0 441.5l-1.7 0.3M193.3 441.5l-1.9 0.1M198.6 441.5l-2.0 -0.2M203.8 441.5l-1.9 -0.6M209.1 441.5l-1.8 -1.2M214.4 441.5l-1.6 -1.9M219.7 441.5l-1.1 -2.4M225.0 441.5l-0.4 -2.0M230.2 441.5h0.9M235.5 441.5l-0.5 1.1M240.8 441.5l-0.9 1.5M246.1 441.5l-1.0 1.0M251.4 441.5h0.9M256.6 441.5h0.9M261.9 441.5l-1.0 -0.5M267.2 441.5l-1.7 -0.5M272.5 441.5l-2.1 0.0M277.8 441.5l-2.1 0.3M283.0 441.5l-2.1 0.2M288.3 441.5l-2.2 -0.1M293.6 441.5l-2.3 -0.4M298.9 441.5l-2.3 0.0M304.2 441.5l-1.9 0.5M309.4 441.5l-1.4 0.3M314.7 441.5l-1.1 -0.4M320.0 441.5l-1.0 -0.8M325.3 441.5l-1.0 -0.7M330.6 441.5h0.9M335.8 441.5h0.9M341.1 441.5h0.9M346.4 441.5h0.9M351.7 441.5h0.9M357.0 441.5h0.9M362.2 441.5h0.9M367.5 441.5h0.9M372.8 441.5h0.9M378.1 441.5l-1.4 0.5M383.4 441.5l-1.7 0.7M388.6 441.5l-1.7 1.0M393.9 441.5l-1.5 1.1M399.2 441.5l-1.1 1.1M404.5 441.5l-0.8 0.8M409.8 441.5h0.9M415.0 441.5h0.9M420.3 441.5h0.9M425.6 441.5l-0.9 -0.8M430.9 441.5l-0.9 -0.9M436.2 441.5l-0.8 -0.9M441.4 441.5h0.9M446.7 441.5h0.9M452.0 441.5h0.9M457.3 441.5l-1.3 -0.7M462.6 441.5l-2.0 -0.8M467.8 441.5l-2.6 -0.9M473.1 441.5l-2.9 -0.8M478.4 441.5l-3.0 -0.7M483.7 441.5l-2.8 -0.5M71.8 447.5h0.9M77.1 447.5h0.9M82.4 447.5h0.9M87.7 447.5h0.9M93.0 447.5h0.9M98.2 447.5l-1.2 -0.5M103.5 447.5l-1.4 -0.2M108.8 447.5l-1.2 -0.1M114.1 447.5h0.9M119.4 447.5l-1.3 -0.2M124.6 447.5l-1.6 0.1M129.9 447.5l-1.8 0.5M135.2 447.5l-1.8 1.0M140.5 447.5l-1.6 1.3M145.8 447.5l-1.1 1.4M151.0 447.5l-0.5 1.3M156.3 447.5h0.9M161.6 447.5h0.9M166.9 447.5h0.9M172.2 447.5h0.9M177.4 447.5h0.9M182.7 447.5l-1.5 0.1M188.0 447.5l-1.7 0.1M193.3 447.5l-1.8 0.1M198.6 447.5l-1.9 -0.1M203.8 447.5l-1.9 -0.5M209.1 447.5l-2.0 -1.1M214.4 447.5l-2.5 -1.9M240.8 447.5l-2.5 1.2M246.1 447.5l-1.5 0.9M251.4 447.5h0.9M256.6 447.5h0.9M261.9 447.5h0.9M267.2 447.5l-1.3 -0.0M272.5 447.5l-1.8 -0.0M277.8 447.5l-2.2 -0.0M283.0 447.5l-2.4 0.0M288.3 447.5l-2.4 0.0M293.6 447.5l-2.4 0.1M298.9 447.5l-2.3 0.5M304.2 447.5l-2.0 0.9M309.4 447.5l-1.7 0.7M314.7 447.5l-1.6 0.1M320.0 447.5l-1.5 -0.4M325.3 447.5l-1.4 -0.6M330.6 447.5l-1.1 -0.6M335.8 447.5h0.9M341.1 447.5h0.9M346.4 447.5h0.9M351.7 447.5h0.9M357.0 447.5h0.9M362.2 447.5h0.9M367.5 447.5h0.9M372.8 447.5l-1.4 0.3M378.1 447.5l-1.7 0.2M383.4 447.5l-1.7 0.3M388.6 447.5l-1.5 0.4M393.9 447.5l-1.2 0.7M399.2 447.5l-0.9 0.8M404.5 447.5l-0.7 0.8M409.8 447.5h0.9M415.0 447.5h0.9M420.3 447.5h0.9M425.6 447.5h0.9M430.9 447.5l-0.7 -1.0M436.2 447.5l-0.5 -1.1M441.4 447.5l-0.4 -1.1M446.7 447.5h0.9M452.0 447.5h0.9M457.3 447.5l-1.3 -0.6M462.6 447.5l-1.9 -0.5M467.8 447.5l-2.5 -0.6M473.1 447.5l-2.8 -0.7M478.4 447.5l-2.8 -0.7M483.7 447.5l-2.5 -0.6M71.8 453.4h0.9M77.1 453.4h0.9M82.4 453.4h0.9M87.7 453.4h0.9M93.0 453.4h0.9M98.2 453.4h0.9M103.5 453.4h0.9M108.8 453.4h0.9M114.1 453.4l-1.3 -0.1M119.4 453.4l-1.7 -0.2M124.6 453.4l-2.0 -0.1M129.9 453.4l-2.0 0.1M135.2 453.4l-1.7 0.5M140.5 453.4l-1.2 0.9M145.8 453.4l-0.7 1.2M151.0 453.4l-0.2 1.3M156.3 453.4l-0.0 1.2M161.6 453.4h0.9M166.9 453.4h0.9M172.2 453.4h0.9M177.4 453.4l-1.3 -0.1M182.7 453.4l-1.5 -0.2M188.0 453.4l-1.6 -0.3M193.3 453.4l-1.7 -0.2M198.6 453.4l-1.7 -0.2M203.8 453.4l-1.9 -0.3M209.1 453.4l-2.2 -0.6M214.4 453.4l-2.8 -1.2M240.8 453.4l-2.4 -0.2M246.1 453.4l-1.3 0.0M251.4 453.4h0.9M256.6 453.4h0.9M261.9 453.4l-1.3 0.5M267.2 453.4l-1.8 0.4M272.5 453.4l-2.2 0.3M277.8 453.4l-2.5 0.2M283.0 453.4l-2.6 0.1M288.3 453.4l-2.5 0.1M293.6 453.4l-2.4 0.3M298.9 453.4l-2.4 0.6M304.2 453.4l-2.3 1.0M309.4 453.4l-2.2 1.0M314.7 453.4l-2.1 0.6M320.0 453.4l-2.0 0.2M325.3 453.4l-1.7 -0.2M330.6 453.4l-1.2 -0.5M335.8 453.4h0.9M341.1 453.4h0.9M346.4 453.4h0.9M351.7 453.4h0.9M357.0 453.4h0.9M362.2 453.4l-1.0 0.4M367.5 453.4l-1.5 0.4M372.8 453.4l-1.8 0.3M378.1 453.4l-1.9 0.1M383.4 453.4l-1.7 -0.0M388.6 453.4l-1.4 -0.0M393.9 453.4l-1.1 0.1M399.2 453.4h0.9M404.5 453.4h0.9M409.8 453.4l-0.9 0.6M415.0 453.4h0.9M420.3 453.4h0.9M425.6 453.4h0.9M430.9 453.4h0.9M436.2 453.4h0.9M441.4 453.4l-0.2 -1.2M446.7 453.4l-0.5 -1.1M452.0 453.4l-1.0 -0.9M457.3 453.4l-1.6 -0.7M462.6 453.4l-2.2 -0.4M467.8 453.4l-2.6 -0.3M473.1 453.4l-2.7 -0.3M478.4 453.4l-2.5 -0.4M483.7 453.4l-2.2 -0.4M71.8 459.3l-1.2 -0.1M77.1 459.3l-1.2 -0.4M82.4 459.3l-1.2 -0.4M87.7 459.3l-1.0 -0.4M93.0 459.3h0.9M98.2 459.3h0.9M103.5 459.3l-1.1 0.2M108.8 459.3l-1.5 0.3M114.1 459.3l-1.9 0.2M119.4 459.3l-2.2 0.0M124.6 459.3l-2.2 -0.1M129.9 459.3l-2.0 -0.1M135.2 459.3l-1.5 -0.0M140.5 459.3h0.9M145.8 459.3h0.9M151.0 459.3h0.9M156.3 459.3h0.9M161.6 459.3h0.9M166.9 459.3h0.9M172.2 459.3l-1.1 0.4M177.4 459.3l-1.3 -0.0M182.7 459.3l-1.4 -0.3M188.0 459.3l-1.4 -0.5M193.3 459.3l-1.5 -0.5M198.6 459.3l-1.7 -0.5M203.8 459.3l-2.0 -0.4M209.1 459.3l-2.4 -0.4M214.4 459.3l-2.7 -0.6M219.7 459.3l-2.9 -0.9M225.0 459.3l-2.9 -1.1M230.2 459.3l-2.5 -1.2M235.5 459.3l-1.9 -1.2M240.8 459.3l-1.3 -1.0M246.1 459.3l-1.0 -0.6M251.4 459.3h0.9M256.6 459.3l-1.3 0.3M261.9 459.3l-1.8 0.6M267.2 459.3l-2.3 0.8M272.5 459.3l-2.6 0.8M277.8 459.3l-2.7 0.6M283.0 459.3l-2.6 0.5M288.3 459.3l-2.5 0.3M293.6 459.3l-2.5 0.4M298.9 459.3l-2.6 0.6M304.2 459.3l-2.7 0.9M309.4 459.3l-2.6 1.0M314.7 459.3l-2.5 0.9M320.0 459.3l-2.2 0.6M325.3 459.3l-1.7 0.2M330.6 459.3l-1.2 -0.2M335.8 459.3h0.9M341.1 459.3h0.9M346.4 459.3h0.9M351.7 459.3h0.9M357.0 459.3l-1.3 -0.2M362.2 459.3l-1.8 0.0M367.5 459.3l-2.1 0.2M372.8 459.3l-2.1 0.2M378.1 459.3l-2.0 0.1M383.4 459.3l-1.7 -0.1M388.6 459.3l-1.4 -0.2M393.9 459.3l-1.2 -0.2M399.2 459.3l-1.2 -0.1M404.5 459.3l-1.2 0.1M409.8 459.3l-1.2 0.3M415.0 459.3l-1.1 0.4M420.3 459.3h0.9M425.6 459.3h0.9M430.9 459.3h0.9M436.2 459.3h0.9M441.4 459.3h0.9M446.7 459.3l-0.8 -1.0M452.0 459.3l-1.4 -1.0M457.3 459.3l-2.0 -0.8M462.6 459.3l-2.4 -0.5M467.8 459.3l-2.6 -0.2M473.1 459.3l-2.5 -0.1M478.4 459.3l-2.1 -0.0M483.7 459.3l-1.8 -0.1M71.8 465.2l-1.7 0.6M77.1 465.2l-1.6 0.2M82.4 465.2l-1.4 -0.1M87.7 465.2l-1.2 -0.3M93.0 465.2l-1.2 -0.3M98.2 465.2l-1.4 -0.2M103.5 465.2l-1.7 0.0M108.8 465.2l-2.2 0.2M114.1 465.2l-2.5 0.2M119.4 465.2l-2.6 0.1M124.6 465.2l-2.3 -0.0M129.9 465.2l-1.8 -0.2M135.2 465.2l-1.2 -0.3M140.5 465.2h0.9M145.8 465.2h0.9M151.0 465.2h0.9M156.3 465.2h0.9M161.6 465.2h0.9M166.9 465.2l-1.0 0.8M172.2 465.2l-1.2 0.6M177.4 465.2l-1.3 0.2M182.7 465.2l-1.3 -0.1M188.0 465.2l-1.3 -0.5M193.3 465.2l-1.5 -0.7M198.6 465.2l-1.8 -0.7M203.8 465.2l-2.2 -0.6M209.1 465.2l-2.6 -0.5M214.4 465.2l-2.7 -0.4M219.7 465.2l-2.5 -0.5M225.0 465.2l-2.2 -0.6M230.2 465.2l-1.6 -0.8M235.5 465.2l-1.2 -1.0M240.8 465.2l-0.9 -1.0M246.1 465.2l-1.0 -0.8M251.4 465.2l-1.3 -0.5M256.6 465.2l-1.7 -0.0M261.9 465.2l-2.2 0.5M267.2 465.2l-2.5 0.9M272.5 465.2l-2.7 1.1M277.8 465.2l-2.7 1.1M283.0 465.2l-2.6 0.9M288.3 465.2l-2.6 0.7M293.6 465.2l-2.7 0.5M298.9 465.2l-2.9 0.5M304.2 465.2l-3.0 0.7M309.4 465.2l-3.0 0.8M314.7 465.2l-2.7 0.8M320.0 465.2l-2.3 0.8M325.3 465.2l-1.7 0.5M330.6 465.2l-1.2 0.2M335.8 465.2h0.9M341.1 465.2h0.9M346.4 465.2l-1.1 -0.9M351.7 465.2l-1.6 -1.0M357.0 465.2l-2.0 -0.8M362.2 465.2l-2.4 -0.6M367.5 465.2l-2.4 -0.3M372.8 465.2l-2.3 -0.1M378.1 465.2l-2.0 0.0M383.4 465.2l-1.8 -0.0M388.6 465.2l-1.6 -0.2M393.9 465.2l-1.6 -0.3M399.2 465.2l-1.6 -0.3M404.5 465.2l-1.5 -0.2M409.8 465.2l-1.4 -0.0M415.0 465.2h0.9M420.3 465.2h0.9M425.6 465.2h0.9M430.9 465.2h0.9M436.2 465.2h0.9M441.4 465.2h0.9M446.7 465.2l-1.2 -0.6M452.0 465.2l-1.8 -0.8M457.3 465.2l-2.3 -0.8M462.6 465.2l-2.5 -0.6M467.8 465.2l-2.4 -0.3M473.1 465.2l-2.1 -0.0M478.4 465.2l-1.8 0.2M483.7 465.2l-1.6 0.2M71.8 471.2l-1.9 1.1M77.1 471.2l-1.7 0.8M82.4 471.2l-1.5 0.4M87.7 471.2l-1.5 -0.0M93.0 471.2l-1.7 -0.3M98.2 471.2l-2.0 -0.4M103.5 471.2l-2.5 -0.3M108.8 471.2l-2.8 -0.2M114.1 471.2l-2.9 -0.0M119.4 471.2l-2.7 0.0M124.6 471.2l-2.3 -0.0M129.9 471.2l-1.7 -0.2M135.2 471.2l-1.1 -0.4M140.5 471.2h0.9M145.8 471.2h0.9M151.0 471.2h0.9M156.3 471.2h0.9M161.6 471.2l-1.1 0.3M166.9 471.2l-1.2 0.5M172.2 471.2l-1.2 0.6M177.4 471.2l-1.2 0.5M182.7 471.2l-1.2 0.2M188.0 471.2l-1.4 -0.1M193.3 471.2l-1.7 -0.4M198.6 471.2l-2.1 -0.6M203.8 471.2l-2.5 -0.7M209.1 471.2l-2.6 -0.6M214.4 471.2l-2.5 -0.4M219.7 471.2l-2.1 -0.3M225.0 471.2l-1.6 -0.2M230.2 471.2l-1.1 -0.3M235.5 471.2h0.9M240.8 471.2h0.9M246.1 471.2l-1.1 -0.7M251.4 471.2l-1.6 -0.6M256.6 471.2l-2.0 -0.3M261.9 471.2l-2.4 0.1M267.2 471.2l-2.5 0.6M272.5 471.2l-2.6 1.0M277.8 471.2l-2.6 1.2M283.0 471.2l-2.6 1.2M288.3 471.2l-2.8 1.0M293.6 471.2l-3.0 0.8M309.4 471.2l-3.1 0.5M314.7 471.2l-2.6 0.5M320.0 471.2l-2.1 0.6M325.3 471.2l-1.5 0.5M330.6 471.2l-1.2 0.3M335.8 471.2l-1.1 -0.0M341.1 471.2l-1.4 -0.4M346.4 471.2l-1.8 -0.9M351.7 471.2l-2.3 -1.2M357.0 471.2l-2.6 -1.3M362.2 471.2l-2.7 -1.1M367.5 471.2l-2.6 -0.9M372.8 471.2l-2.4 -0.5M378.1 471.2l-2.2 -0.2M383.4 471.2l-2.0 -0.1M388.6 471.2l-2.0 -0.0M393.9 471.2l-2.0 -0.1M399.2 471.2l-2.0 -0.2M404.5 471.2l-1.8 -0.3M409.8 471.2l-1.4 -0.2M415.0 471.2h0.9M420.3 471.2h0.9M425.6 471.2h0.9M430.9 471.2h0.9M436.2 471.2h0.9M441.4 471.2l-1.1 0.4M446.7 471.2l-1.7 0.1M452.0 471.2l-2.2 -0.3M457.3 471.2l-2.4 -0.5M462.6 471.2l-2.3 -0.6M467.8 471.2l-2.1 -0.5M473.1 471.2l-1.8 -0.2M478.4 471.2l-1.6 0.1M483.7 471.2l-1.5 0.3M71.8 477.1l-1.8 1.3M77.1 477.1l-1.6 1.2M82.4 477.1l-1.6 0.8M87.7 477.1l-1.8 0.4M93.0 477.1l-2.1 -0.1M98.2 477.1l-2.6 -0.4M103.5 477.1l-3.0 -0.6M114.1 477.1l-3.1 -0.5M119.4 477.1l-2.6 -0.3M124.6 477.1l-2.1 -0.2M129.9 477.1l-1.5 -0.2M135.2 477.1l-1.0 -0.4M140.5 477.1h0.9M145.8 477.1l-0.9 -0.7M151.0 477.1l-1.0 -0.7M156.3 477.1l-1.2 -0.6M161.6 477.1l-1.2 -0.3M166.9 477.1l-1.1 0.1M172.2 477.1l-1.1 0.4M177.4 477.1l-1.0 0.6M182.7 477.1l-1.2 0.6M188.0 477.1l-1.5 0.4M193.3 477.1l-1.9 0.1M198.6 477.1l-2.3 -0.2M203.8 477.1l-2.5 -0.5M209.1 477.1l-2.4 -0.5M214.4 477.1l-2.1 -0.4M219.7 477.1l-1.5 -0.2M225.0 477.1h0.9M230.2 477.1h0.9M235.5 477.1h0.9M240.8 477.1h0.9M246.1 477.1l-1.2 -0.3M251.4 477.1l-1.7 -0.5M256.6 477.1l-2.0 -0.4M261.9 477.1l-2.2 -0.2M267.2 477.1l-2.2 0.2M272.5 477.1l-2.2 0.6M277.8 477.1l-2.3 1.0M283.0 477.1l-2.6 1.2M288.3 477.1l-2.9 1.2M309.4 477.1l-2.8 0.3M314.7 477.1l-2.2 0.2M320.0 477.1l-1.7 0.2M325.3 477.1l-1.3 0.2M330.6 477.1l-1.3 0.2M335.8 477.1l-1.5 0.1M341.1 477.1l-1.9 -0.2M346.4 477.1l-2.4 -0.6M351.7 477.1l-2.7 -1.0M357.0 477.1l-2.8 -1.3M362.2 477.1l-2.8 -1.4M367.5 477.1l-2.6 -1.3M372.8 477.1l-2.4 -1.0M378.1 477.1l-2.3 -0.7M383.4 477.1l-2.3 -0.3M388.6 477.1l-2.4 -0.0M393.9 477.1l-2.3 0.1M399.2 477.1l-2.2 0.1M404.5 477.1l-1.8 0.0M409.8 477.1l-1.2 -0.0M415.0 477.1h0.9M420.3 477.1h0.9M425.6 477.1h0.9M430.9 477.1h0.9M436.2 477.1l-1.1 0.9M441.4 477.1l-1.6 0.9M446.7 477.1l-2.1 0.7M452.0 477.1l-2.3 0.4M457.3 477.1l-2.2 0.0M462.6 477.1l-2.0 -0.3M467.8 477.1l-1.7 -0.5M473.1 477.1l-1.5 -0.4M478.4 477.1l-1.4 -0.3M483.7 477.1l-1.5 -0.0M71.8 483.0l-1.7 1.1M77.1 483.0l-1.6 1.2M82.4 483.0l-1.8 1.0M87.7 483.0l-2.2 0.7M93.0 483.0l-2.7 0.3M98.2 483.0l-3.2 -0.2M114.1 483.0l-3.0 -0.9M119.4 483.0l-2.4 -0.8M124.6 483.0l-1.9 -0.6M129.9 483.0l-1.4 -0.5M135.2 483.0l-1.2 -0.4M140.5 483.0l-1.2 -0.5M145.8 483.0l-1.3 -0.6M151.0 483.0l-1.4 -0.7M156.3 483.0l-1.3 -0.8M161.6 483.0l-1.2 -0.6M166.9 483.0l-1.1 -0.3M172.2 483.0h0.9M177.4 483.0l-1.1 0.4M182.7 483.0l-1.4 0.7M188.0 483.0l-1.9 0.8M193.3 483.0l-2.3 0.6M198.6 483.0l-2.5 0.4M203.8 483.0l-2.4 0.1M209.1 483.0l-2.1 -0.2M214.4 483.0l-1.5 -0.3M219.7 483.0h0.9M225.0 483.0h0.9M230.2 483.0h0.9M235.5 483.0h0.9M240.8 483.0h0.9M246.1 483.0l-1.3 0.1M251.4 483.0l-1.6 -0.1M256.6 483.0l-1.8 -0.3M261.9 483.0l-1.8 -0.4M267.2 483.0l-1.9 -0.2M272.5 483.0l-2.0 0.0M277.8 483.0l-2.3 0.4M283.0 483.0l-2.6 0.8M288.3 483.0l-3.0 1.0M304.2 483.0l-2.8 0.6M309.4 483.0l-2.3 0.3M314.7 483.0l-1.8 0.0M320.0 483.0l-1.4 -0.1M325.3 483.0l-1.3 -0.1M330.6 483.0l-1.5 -0.1M335.8 483.0l-1.9 -0.1M341.1 483.0l-2.3 -0.1M346.4 483.0l-2.7 -0.3M351.7 483.0l-2.9 -0.6M357.0 483.0l-2.9 -1.0M362.2 483.0l-2.7 -1.3M367.5 483.0l-2.6 -1.4M372.8 483.0l-2.6 -1.3M378.1 483.0l-2.6 -1.0M383.4 483.0l-2.7 -0.6M388.6 483.0l-2.7 -0.2M393.9 483.0l-2.6 0.2M399.2 483.0l-2.2 0.3M404.5 483.0l-1.6 0.4M409.8 483.0l-1.1 0.3M415.0 483.0h0.9M420.3 483.0h0.9M425.6 483.0h0.9M430.9 483.0l-1.1 0.7M436.2 483.0l-1.6 0.9M441.4 483.0l-2.0 1.1M446.7 483.0l-2.3 1.1M452.0 483.0l-2.2 0.9M457.3 483.0l-2.0 0.6M462.6 483.0l-1.7 0.2M467.8 483.0l-1.5 -0.2M473.1 483.0l-1.5 -0.5M478.4 483.0l-1.5 -0.6M483.7 483.0l-1.6 -0.4M71.8 489.0l-1.5 0.7M77.1 489.0l-1.7 0.8M82.4 489.0l-2.1 0.9M87.7 489.0l-2.7 0.8M114.1 489.0l-2.8 -1.1M119.4 489.0l-2.2 -1.2M124.6 489.0l-1.8 -1.1M129.9 489.0l-1.6 -0.9M135.2 489.0l-1.5 -0.6M140.5 489.0l-1.6 -0.5M145.8 489.0l-1.6 -0.5M151.0 489.0l-1.6 -0.5M156.3 489.0l-1.4 -0.6M161.6 489.0l-1.2 -0.6M166.9 489.0l-1.1 -0.5M172.2 489.0l-1.2 -0.2M177.4 489.0l-1.5 0.2M182.7 489.0l-1.9 0.6M188.0 489.0l-2.3 0.9M193.3 489.0l-2.6 1.0M198.6 489.0l-2.5 1.0M203.8 489.0l-2.2 0.7M209.1 489.0l-1.7 0.4M214.4 489.0h0.9M219.7 489.0h0.9M225.0 489.0h0.9M230.2 489.0h0.9M235.5 489.0h0.9M240.8 489.0l-1.1 0.3M246.1 489.0l-1.3 0.3M251.4 489.0l-1.4 0.1M256.6 489.0l-1.5 -0.1M261.9 489.0l-1.5 -0.3M267.2 489.0l-1.6 -0.5M272.5 489.0l-1.9 -0.4M277.8 489.0l-2.3 -0.2M283.0 489.0l-2.7 0.1M288.3 489.0l-3.0 0.5M293.6 489.0l-3.0 0.7M298.9 489.0l-2.7 0.8M304.2 489.0l-2.2 0.7M309.4 489.0l-1.7 0.4M314.7 489.0l-1.3 0.1M320.0 489.0l-1.2 -0.2M325.3 489.0l-1.3 -0.3M330.6 489.0l-1.7 -0.4M335.8 489.0l-2.2 -0.3M341.1 489.0l-2.6 -0.2M346.4 489.0l-2.8 -0.2M351.7 489.0l-2.8 -0.3M357.0 489.0l-2.7 -0.5M362.2 489.0l-2.7 -0.8M367.5 489.0l-2.7 -1.1M372.8 489.0l-2.8 -1.2M383.4 489.0l-3.0 -0.9M388.6 489.0l-2.9 -0.5M393.9 489.0l-2.6 -0.0M399.2 489.0l-2.0 0.4M404.5 489.0l-1.4 0.6M409.8 489.0l-1.0 0.7M415.0 489.0h0.9M420.3 489.0h0.9M425.6 489.0l-1.3 0.5M430.9 489.0l-1.7 0.6M436.2 489.0l-2.1 0.7M441.4 489.0l-2.3 0.9M446.7 489.0l-2.3 1.1M452.0 489.0l-2.1 1.1M457.3 489.0l-1.9 0.9M462.6 489.0l-1.7 0.6M467.8 489.0l-1.6 0.1M473.1 489.0l-1.6 -0.3M478.4 489.0l-1.7 -0.6M483.7 489.0l-1.6 -0.8M71.8 494.9l-1.5 0.2M77.1 494.9l-1.9 0.3M82.4 494.9l-2.5 0.5M87.7 494.9l-3.1 0.6M108.8 494.9l-3.0 -0.5M114.1 494.9l-2.5 -0.9M119.4 494.9l-2.1 -1.2M124.6 494.9l-1.9 -1.3M129.9 494.9l-1.9 -1.2M135.2 494.9l-1.9 -1.0M140.5 494.9l-1.9 -0.7M145.8 494.9l-1.8 -0.4M151.0 494.9l-1.6 -0.3M156.3 494.9l-1.4 -0.3M161.6 494.9l-1.3 -0.4M166.9 494.9l-1.3 -0.4M172.2 494.9l-1.6 -0.3M177.4 494.9l-2.0 -0.0M182.7 494.9l-2.5 0.4M188.0 494.9l-2.7 0.8M193.3 494.9l-2.7 1.1M198.6 494.9l-2.4 1.3M203.8 494.9l-1.9 1.2M209.1 494.9l-1.3 1.0M214.4 494.9h0.9M219.7 494.9h0.9M225.0 494.9h0.9M230.2 494.9h0.9M235.5 494.9h0.9M240.8 494.9l-1.1 0.1M246.1 494.9l-1.2 0.2M251.4 494.9l-1.2 0.2M256.6 494.9l-1.2 0.0M261.9 494.9l-1.3 -0.2M267.2 494.9l-1.6 -0.5M272.5 494.9l-2.0 -0.6M277.8 494.9l-2.4 -0.7M283.0 494.9l-2.7 -0.5M288.3 494.9l-2.8 -0.2M293.6 494.9l-2.6 0.1M298.9 494.9l-2.1 0.4M304.2 494.9l-1.6 0.6M309.4 494.9l-1.2 0.6M314.7 494.9h0.9M320.0 494.9l-1.1 0.1M325.3 494.9l-1.5 -0.2M330.6 494.9l-1.9 -0.4M335.8 494.9l-2.3 -0.4M341.1 494.9l-2.5 -0.4M346.4 494.9l-2.6 -0.2M351.7 494.9l-2.6 -0.1M357.0 494.9l-2.6 -0.2M362.2 494.9l-2.7 -0.3M367.5 494.9l-2.9 -0.6M388.6 494.9l-2.9 -0.7M393.9 494.9l-2.3 -0.3M399.2 494.9l-1.7 0.2M404.5 494.9l-1.3 0.6M409.8 494.9l-1.0 0.9M415.0 494.9l-1.1 0.9M420.3 494.9l-1.4 0.9M425.6 494.9l-1.9 0.7M430.9 494.9l-2.3 0.6M436.2 494.9l-2.5 0.6M441.4 494.9l-2.5 0.7M446.7 494.9l-2.3 0.8M452.0 494.9l-2.1 0.9M457.3 494.9l-1.9 0.9M462.6 494.9l-1.9 0.8M467.8 494.9l-1.9 0.5M473.1 494.9l-1.9 0.0M478.4 494.9l-1.8 -0.5M483.7 494.9l-1.6 -0.9M71.8 500.8l-1.6 0.0M77.1 500.8l-2.2 -0.0M82.4 500.8l-2.9 0.0M103.5 500.8l-3.1 0.2M108.8 500.8l-2.7 -0.1M114.1 500.8l-2.4 -0.5M119.4 500.8l-2.2 -0.9M124.6 500.8l-2.1 -1.2M129.9 500.8l-2.2 -1.3M135.2 500.8l-2.2 -1.2M140.5 500.8l-2.1 -0.9M145.8 500.8l-1.8 -0.6M151.0 500.8l-1.6 -0.3M156.3 500.8l-1.4 -0.1M161.6 500.8l-1.5 0.0M166.9 500.8l-1.7 -0.0M172.2 500.8l-2.2 -0.0M177.4 500.8l-2.6 0.0M182.7 500.8l-3.0 0.2M188.0 500.8l-3.0 0.5M193.3 500.8l-2.7 0.9M198.6 500.8l-2.2 1.2M203.8 500.8l-1.6 1.4M209.1 500.8l-1.1 1.4M214.4 500.8l-0.8 1.1M219.7 500.8h0.9M225.0 500.8h0.9M230.2 500.8h0.9M235.5 500.8l-1.1 -0.2M240.8 500.8l-1.1 -0.3M246.1 500.8h0.9M251.4 500.8h0.9M256.6 500.8h0.9M261.9 500.8l-1.3 -0.2M267.2 500.8l-1.7 -0.4M272.5 500.8l-2.2 -0.6M277.8 500.8l-2.5 -0.8M283.0 500.8l-2.6 -0.9M288.3 500.8l-2.4 -0.8M293.6 500.8l-2.0 -0.5M298.9 500.8l-1.5 -0.1M304.2 500.8h0.9M309.4 500.8h0.9M314.7 500.8h0.9M320.0 500.8l-1.2 0.4M325.3 500.8l-1.6 0.1M330.6 500.8l-2.0 -0.1M335.8 500.8l-2.2 -0.3M341.1 500.8l-2.3 -0.4M346.4 500.8l-2.3 -0.3M351.7 500.8l-2.4 -0.1M357.0 500.8l-2.5 0.0M362.2 500.8l-2.8 0.1M367.5 500.8l-3.1 -0.0M383.4 500.8l-3.1 -0.7M388.6 500.8l-2.6 -0.7M393.9 500.8l-2.0 -0.5M399.2 500.8l-1.5 -0.2M404.5 500.8l-1.2 0.2M409.8 500.8l-1.3 0.6M415.0 500.8l-1.5 0.9M420.3 500.8l-2.0 1.0M425.6 500.8l-2.4 1.0M430.9 500.8l-2.6 0.8M436.2 500.8l-2.6 0.6M441.4 500.8l-2.5 0.5M446.7 500.8l-2.3 0.5M452.0 500.8l-2.2 0.5M457.3 500.8l-2.2 0.6M462.6 500.8l-2.2 0.7M467.8 500.8l-2.2 0.5M473.1 500.8l-2.2 0.3M478.4 500.8l-1.9 -0.2M483.7 500.8l-1.4 -0.6M71.8 506.8l-1.9 0.0M77.1 506.8l-2.5 -0.1M82.4 506.8l-3.0 -0.2M98.2 506.8l-3.0 0.2M103.5 506.8l-2.7 0.3M108.8 506.8l-2.4 0.2M114.1 506.8l-2.3 0.0M119.4 506.8l-2.3 -0.3M124.6 506.8l-2.3 -0.7M129.9 506.8l-2.3 -1.0M135.2 506.8l-2.2 -1.1M140.5 506.8l-2.0 -1.0M145.8 506.8l-1.7 -0.7M151.0 506.8l-1.5 -0.4M156.3 506.8l-1.5 -0.0M161.6 506.8l-1.8 0.2M166.9 506.8l-2.3 0.3M172.2 506.8l-2.8 0.3M177.4 506.8l-3.2 0.2M188.0 506.8l-3.1 0.3M193.3 506.8l-2.6 0.6M198.6 506.8l-2.0 0.9M203.8 506.8l-1.5 1.2M209.1 506.8l-1.2 1.4M214.4 506.8l-1.0 1.3M219.7 506.8l-1.1 1.1M225.0 506.8l-1.2 0.7M230.2 506.8l-1.2 0.2M235.5 506.8l-1.1 -0.2M240.8 506.8l-1.0 -0.5M246.1 506.8h0.9M251.4 506.8h0.9M256.6 506.8l-1.2 -0.4M261.9 506.8l-1.6 -0.4M267.2 506.8l-2.1 -0.4M272.5 506.8l-2.4 -0.6M277.8 506.8l-2.5 -0.8M283.0 506.8l-2.4 -1.0M288.3 506.8l-1.9 -1.0M293.6 506.8l-1.4 -0.9M298.9 506.8l-0.9 -0.7M304.2 506.8h0.9M309.4 506.8h0.9M314.7 506.8h0.9M320.0 506.8l-1.3 0.6M325.3 506.8l-1.6 0.6M330.6 506.8l-1.9 0.4M335.8 506.8l-2.0 0.1M341.1 506.8l-2.0 -0.1M346.4 506.8l-2.1 -0.1M351.7 506.8l-2.2 -0.1M357.0 506.8l-2.6 0.1M362.2 506.8l-2.9 0.2M378.1 506.8l-3.1 0.1M383.4 506.8l-2.7 -0.2M388.6 506.8l-2.1 -0.4M393.9 506.8l-1.6 -0.5M399.2 506.8l-1.3 -0.5M404.5 506.8l-1.3 -0.2M409.8 506.8l-1.6 0.2M415.0 506.8l-2.0 0.5M420.3 506.8l-2.4 0.8M425.6 506.8l-2.7 0.9M430.9 506.8l-2.7 0.9M436.2 506.8l-2.7 0.7M441.4 506.8l-2.5 0.4M446.7 506.8l-2.4 0.2M452.0 506.8l-2.4 0.2M457.3 506.8l-2.5 0.2M462.6 506.8l-2.6 0.3M467.8 506.8l-2.5 0.4M473.1 506.8l-2.3 0.3M478.4 506.8l-1.8 0.1M483.7 506.8l-1.2 -0.3M71.8 512.7l-2.1 0.2M77.1 512.7l-2.7 0.0M82.4 512.7l-3.0 -0.2M87.7 512.7l-3.0 -0.2M93.0 512.7l-2.9 -0.2M98.2 512.7l-2.6 -0.0M103.5 512.7l-2.4 0.2M108.8 512.7l-2.3 0.3M114.1 512.7l-2.3 0.4M119.4 512.7l-2.4 0.3M124.6 512.7l-2.4 -0.0M129.9 512.7l-2.3 -0.4M135.2 512.7l-2.0 -0.7M140.5 512.7l-1.7 -0.8M145.8 512.7l-1.5 -0.8M151.0 512.7l-1.6 -0.6M156.3 512.7l-1.8 -0.2M161.6 512.7l-2.3 0.1M166.9 512.7l-2.8 0.4M188.0 512.7l-2.9 0.3M193.3 512.7l-2.4 0.3M198.6 512.7l-1.9 0.5M203.8 512.7l-1.6 0.7M209.1 512.7l-1.4 1.0M214.4 512.7l-1.4 1.1M219.7 512.7l-1.5 1.1M225.0 512.7l-1.4 0.9M230.2 512.7l-1.3 0.5M235.5 512.7l-1.1 0.1M240.8 512.7h0.9M246.1 512.7l-0.9 -0.7M251.4 512.7l-1.1 -0.9M256.6 512.7l-1.5 -0.8M261.9 512.7l-2.0 -0.7M267.2 512.7l-2.4 -0.6M272.5 512.7l-2.5 -0.6M277.8 512.7l-2.4 -0.6M283.0 512.7l-2.0 -0.8M288.3 512.7l-1.4 -0.9M293.6 512.7l-0.9 -1.0M298.9 512.7h0.9M304.2 512.7h0.9M309.4 512.7h0.9M314.7 512.7h0.9M320.0 512.7l-1.3 0.6M325.3 512.7l-1.5 0.9M330.6 512.7l-1.6 0.9M335.8 512.7l-1.6 0.7M341.1 512.7l-1.7 0.5M346.4 512.7l-1.9 0.2M351.7 512.7l-2.3 0.1M357.0 512.7l-2.7 0.1M362.2 512.7l-3.1 0.2M372.8 512.7l-3.1 0.4M378.1 512.7l-2.7 0.4M383.4 512.7l-2.1 0.2M388.6 512.7l-1.6 -0.1M393.9 512.7l-1.3 -0.3M399.2 512.7l-1.3 -0.5M404.5 512.7l-1.6 -0.6M409.8 512.7l-2.0 -0.4M415.0 512.7l-2.4 -0.1M420.3 512.7l-2.6 0.3M425.6 512.7l-2.7 0.6M430.9 512.7l-2.7 0.7M436.2 512.7l-2.6 0.7M441.4 512.7l-2.6 0.5M446.7 512.7l-2.7 0.2M452.0 512.7l-2.8 0.0M457.3 512.7l-2.9 -0.1M462.6 512.7l-2.9 -0.1M467.8 512.7l-2.7 0.0M473.1 512.7l-2.2 0.1M478.4 512.7l-1.6 0.1M483.7 512.7h0.9M71.8 518.6l-2.3 0.2M77.1 518.6l-2.6 0.2M82.4 518.6l-2.7 0.1M87.7 518.6l-2.6 -0.0M93.0 518.6l-2.4 -0.1M98.2 518.6l-2.2 -0.1M103.5 518.6l-2.1 0.1M108.8 518.6l-2.2 0.3M114.1 518.6l-2.3 0.5M119.4 518.6l-2.3 0.6M124.6 518.6l-2.2 0.6M129.9 518.6l-2.0 0.3M135.2 518.6l-1.7 -0.0M140.5 518.6l-1.5 -0.4M145.8 518.6l-1.4 -0.6M151.0 518.6l-1.7 -0.6M156.3 518.6l-2.2 -0.5M161.6 518.6l-2.8 -0.2M188.0 518.6l-2.7 0.4M193.3 518.6l-2.3 0.3M198.6 518.6l-1.9 0.2M203.8 518.6l-1.8 0.3M209.1 518.6l-1.8 0.4M214.4 518.6l-1.8 0.7M219.7 518.6l-1.7 0.8M225.0 518.6l-1.6 0.9M230.2 518.6l-1.3 0.7M235.5 518.6l-1.1 0.4M240.8 518.6h0.9M246.1 518.6l-1.2 -0.5M251.4 518.6l-1.6 -0.9M256.6 518.6l-2.1 -1.1M261.9 518.6l-2.5 -1.1M267.2 518.6l-2.7 -0.9M272.5 518.6l-2.5 -0.7M277.8 518.6l-2.1 -0.6M283.0 518.6l-1.6 -0.6M288.3 518.6l-1.0 -0.6M293.6 518.6h0.9M298.9 518.6h0.9M304.2 518.6h0.9M309.4 518.6h0.9M314.7 518.6l-1.1 -0.1M320.0 518.6l-1.2 0.4M325.3 518.6l-1.3 0.8M330.6 518.6l-1.2 1.1M335.8 518.6l-1.3 1.2M341.1 518.6l-1.5 1.0M346.4 518.6l-1.9 0.8M351.7 518.6l-2.4 0.5M357.0 518.6l-2.8 0.3M362.2 518.6l-3.0 0.2M367.5 518.6l-2.9 0.2M372.8 518.6l-2.6 0.3M378.1 518.6l-2.1 0.4M383.4 518.6l-1.6 0.4M388.6 518.6l-1.3 0.2M393.9 518.6l-1.2 -0.1M399.2 518.6l-1.4 -0.4M404.5 518.6l-1.8 -0.7M409.8 518.6l-2.2 -0.8M415.0 518.6l-2.5 -0.7M420.3 518.6l-2.6 -0.4M425.6 518.6l-2.6 -0.0M430.9 518.6l-2.6 0.3M436.2 518.6l-2.6 0.5M441.4 518.6l-2.8 0.5M446.7 518.6l-3.0 0.4M452.0 518.6l-3.2 0.1M462.6 518.6l-3.0 -0.2M467.8 518.6l-2.6 -0.3M473.1 518.6l-2.0 -0.1M478.4 518.6l-1.4 0.0M483.7 518.6h0.9M71.8 524.5l-2.3 0.0M77.1 524.5l-2.4 0.3M82.4 524.5l-2.3 0.4M87.7 524.5l-2.1 0.4M93.0 524.5l-2.0 0.3M98.2 524.5l-2.0 0.2M103.5 524.5l-2.0 0.2M108.8 524.5l-2.2 0.3M114.1 524.5l-2.2 0.5M119.4 524.5l-2.1 0.7M124.6 524.5l-1.8 0.8M129.9 524.5l-1.5 0.8M135.2 524.5l-1.3 0.6M140.5 524.5l-1.2 0.2M145.8 524.5l-1.5 -0.1M151.0 524.5l-2.0 -0.4M156.3 524.5l-2.6 -0.6M182.7 524.5l-2.9 0.4M188.0 524.5l-2.5 0.4M193.3 524.5l-2.2 0.3M198.6 524.5l-2.1 0.1M203.8 524.5l-2.1 -0.0M209.1 524.5l-2.1 -0.0M214.4 524.5l-2.0 0.1M219.7 524.5l-1.8 0.3M225.0 524.5l-1.5 0.5M230.2 524.5l-1.3 0.6M235.5 524.5l-1.2 0.5M240.8 524.5l-1.3 0.3M246.1 524.5l-1.7 -0.1M251.4 524.5l-2.2 -0.6M256.6 524.5l-2.6 -0.9M261.9 524.5l-2.8 -1.1M267.2 524.5l-2.8 -1.1M272.5 524.5l-2.4 -0.9M277.8 524.5l-1.8 -0.7M283.0 524.5l-1.3 -0.5M288.3 524.5h0.9M293.6 524.5h0.9M298.9 524.5h0.9M304.2 524.5h0.9M309.4 524.5l-1.0 -0.4M314.7 524.5l-1.1 -0.2M320.0 524.5h0.9M325.3 524.5l-1.0 0.6M330.6 524.5l-1.0 1.0M335.8 524.5l-1.2 1.3M341.1 524.5l-1.6 1.4M346.4 524.5l-2.1 1.3M351.7 524.5l-2.5 1.0M357.0 524.5l-2.8 0.6M362.2 524.5l-2.8 0.3M367.5 524.5l-2.4 0.2M372.8 524.5l-2.0 0.1M378.1 524.5l-1.5 0.2M383.4 524.5l-1.1 0.2M388.6 524.5h0.9M393.9 524.5l-1.2 0.1M399.2 524.5l-1.6 -0.2M404.5 524.5l-2.0 -0.6M409.8 524.5l-2.2 -0.8M415.0 524.5l-2.4 -1.0M420.3 524.5l-2.4 -1.0M425.6 524.5l-2.4 -0.7M430.9 524.5l-2.5 -0.4M436.2 524.5l-2.7 -0.0M441.4 524.5l-3.0 0.3M462.6 524.5l-2.9 -0.1M467.8 524.5l-2.3 -0.2M473.1 524.5l-1.7 -0.2M478.4 524.5l-1.2 -0.1M483.7 524.5h0.9M71.8 530.5l-2.1 -0.3M77.1 530.5l-2.1 0.2M82.4 530.5l-1.9 0.5M87.7 530.5l-1.8 0.7M93.0 530.5l-1.8 0.7M98.2 530.5l-1.9 0.6M103.5 530.5l-2.0 0.5M108.8 530.5l-2.0 0.4M114.1 530.5l-1.9 0.5M119.4 530.5l-1.7 0.6M124.6 530.5l-1.3 0.8M129.9 530.5l-1.0 0.9M135.2 530.5l-1.0 0.9M140.5 530.5l-1.2 0.7M145.8 530.5l-1.7 0.3M151.0 530.5l-2.3 -0.1M156.3 530.5l-2.9 -0.4M177.4 530.5l-3.0 -0.3M182.7 530.5l-2.6 -0.0M188.0 530.5l-2.4 0.2M193.3 530.5l-2.3 0.2M198.6 530.5l-2.3 0.1M203.8 530.5l-2.3 -0.1M209.1 530.5l-2.3 -0.2M214.4 530.5l-2.1 -0.3M219.7 530.5l-1.7 -0.2M225.0 530.5l-1.5 0.1M230.2 530.5l-1.3 0.3M235.5 530.5l-1.5 0.5M240.8 530.5l-1.8 0.5M246.1 530.5l-2.3 0.3M251.4 530.5l-2.8 -0.1M256.6 530.5l-3.1 -0.4M261.9 530.5l-3.0 -0.8M267.2 530.5l-2.7 -1.0M272.5 530.5l-2.2 -1.0M277.8 530.5l-1.6 -0.8M283.0 530.5l-1.2 -0.6M288.3 530.5h0.9M293.6 530.5h0.9M298.9 530.5h0.9M304.2 530.5l-1.1 -0.1M309.4 530.5l-1.1 -0.2M314.7 530.5h0.9M320.0 530.5h0.9M325.3 530.5h0.9M330.6 530.5l-1.0 0.6M335.8 530.5l-1.3 1.0M341.1 530.5l-1.8 1.3M346.4 530.5l-2.3 1.4M351.7 530.5l-2.6 1.3M357.0 530.5l-2.6 1.0M362.2 530.5l-2.3 0.6M367.5 530.5l-1.8 0.3M372.8 530.5l-1.3 -0.0M378.1 530.5h0.9M383.4 530.5h0.9M388.6 530.5h0.9M393.9 530.5l-1.3 -0.1M399.2 530.5l-1.6 -0.2M404.5 530.5l-1.9 -0.4M409.8 530.5l-2.0 -0.7M415.0 530.5l-2.1 -1.0M420.3 530.5l-2.1 -1.2M425.6 530.5l-2.2 -1.2M430.9 530.5l-2.5 -0.9M436.2 530.5l-2.9 -0.6M457.3 530.5l-3.0 0.4M462.6 530.5l-2.5 0.3M467.8 530.5l-1.9 0.1M473.1 530.5l-1.5 -0.1M478.4 530.5l-1.3 -0.1M483.7 530.5l-1.4 0.0M71.8 536.4l-1.9 -0.6M77.1 536.4l-1.8 -0.1M82.4 536.4l-1.7 0.3M87.7 536.4l-1.7 0.7M93.0 536.4l-1.8 1.0M98.2 536.4l-1.9 1.0M103.5 536.4l-1.9 0.9M108.8 536.4l-1.8 0.7M114.1 536.4l-1.5 0.6M119.4 536.4l-1.1 0.6M124.6 536.4h0.9M129.9 536.4h0.9M135.2 536.4l-0.8 0.8M140.5 536.4l-1.3 0.8M145.8 536.4l-1.9 0.6M151.0 536.4l-2.5 0.3M156.3 536.4l-3.0 -0.2M172.2 536.4l-2.9 -1.0M177.4 536.4l-2.6 -0.9M182.7 536.4l-2.4 -0.6M188.0 536.4l-2.4 -0.3M193.3 536.4l-2.4 -0.1M198.6 536.4l-2.5 -0.0M203.8 536.4l-2.4 -0.1M209.1 536.4l-2.2 -0.2M214.4 536.4l-1.9 -0.3M219.7 536.4l-1.6 -0.4M225.0 536.4l-1.4 -0.3M230.2 536.4l-1.5 -0.1M235.5 536.4l-1.9 0.2M240.8 536.4l-2.4 0.4M246.1 536.4l-2.9 0.5M261.9 536.4l-3.0 -0.2M267.2 536.4l-2.5 -0.5M272.5 536.4l-2.0 -0.7M277.8 536.4l-1.6 -0.8M283.0 536.4l-1.3 -0.6M288.3 536.4l-1.3 -0.4M293.6 536.4l-1.3 -0.1M298.9 536.4l-1.3 0.1M304.2 536.4l-1.2 0.2M309.4 536.4h0.9M314.7 536.4h0.9M320.0 536.4h0.9M325.3 536.4h0.9M330.6 536.4l-1.2 0.3M335.8 536.4l-1.7 0.6M341.1 536.4l-2.2 0.9M346.4 536.4l-2.5 1.2M351.7 536.4l-2.5 1.3M357.0 536.4l-2.3 1.2M362.2 536.4l-1.8 0.9M367.5 536.4l-1.3 0.5M372.8 536.4h0.9M378.1 536.4h0.9M383.4 536.4h0.9M388.6 536.4l-1.0 -0.5M393.9 536.4l-1.3 -0.4M399.2 536.4l-1.6 -0.4M404.5 536.4l-1.7 -0.4M409.8 536.4l-1.7 -0.6M415.0 536.4l-1.7 -0.8M420.3 536.4l-1.9 -1.1M425.6 536.4l-2.2 -1.2M430.9 536.4l-2.6 -1.2M452.0 536.4l-3.1 0.2M457.3 536.4l-2.6 0.5M462.6 536.4l-2.0 0.6M467.8 536.4l-1.6 0.6M473.1 536.4l-1.4 0.4M478.4 536.4l-1.4 0.2M483.7 536.4l-1.8 0.2M71.8 542.3l-1.7 -0.7M77.1 542.3l-1.6 -0.4M82.4 542.3l-1.6 0.0M87.7 542.3l-1.7 0.5M93.0 542.3l-1.9 0.9M98.2 542.3l-1.9 1.1M103.5 542.3l-1.8 1.2M108.8 542.3l-1.4 1.1M114.1 542.3l-1.0 0.9M119.4 542.3h0.9M124.6 542.3h0.9M129.9 542.3h0.9M135.2 542.3h0.9M140.5 542.3l-1.5 0.6M145.8 542.3l-2.1 0.6M151.0 542.3l-2.6 0.4M156.3 542.3l-2.8 0.1M161.6 542.3l-2.8 -0.3M166.9 542.3l-2.7 -0.8M172.2 542.3l-2.5 -1.1M177.4 542.3l-2.3 -1.2M182.7 542.3l-2.3 -1.2M188.0 542.3l-2.4 -0.9M193.3 542.3l-2.5 -0.6M198.6 542.3l-2.4 -0.3M203.8 542.3l-2.2 -0.1M209.1 542.3l-1.9 -0.1M214.4 542.3l-1.6 -0.2M219.7 542.3l-1.4 -0.3M225.0 542.3l-1.5 -0.3M230.2 542.3l-1.9 -0.2M235.5 542.3l-2.4 -0.0M240.8 542.3l-3.0 0.3M261.9 542.3l-2.9 0.5M267.2 542.3l-2.4 0.2M272.5 542.3l-2.0 -0.2M277.8 542.3l-1.7 -0.5M283.0 542.3l-1.7 -0.6M288.3 542.3l-1.6 -0.5M293.6 542.3l-1.6 -0.3M298.9 542.3l-1.5 0.0M304.2 542.3l-1.3 0.2M309.4 542.3h0.9M314.7 542.3h0.9M320.0 542.3h0.9M325.3 542.3l-1.2 0.0M330.6 542.3l-1.7 0.0M335.8 542.3l-2.2 0.1M341.1 542.3l-2.5 0.4M346.4 542.3l-2.6 0.7M351.7 542.3l-2.3 0.9M357.0 542.3l-1.9 1.1M362.2 542.3l-1.3 1.0M367.5 542.3l-0.9 0.7M372.8 542.3h0.9M378.1 542.3h0.9M383.4 542.3h0.9M388.6 542.3l-1.1 -0.7M393.9 542.3l-1.3 -0.7M399.2 542.3l-1.4 -0.7M404.5 542.3l-1.3 -0.6M409.8 542.3l-1.4 -0.5M415.0 542.3l-1.5 -0.6M420.3 542.3l-1.8 -0.8M425.6 542.3l-2.3 -1.0M430.9 542.3l-2.8 -1.1M446.7 542.3l-3.0 -0.5M452.0 542.3l-2.5 -0.1M457.3 542.3l-2.0 0.4M462.6 542.3l-1.6 0.8M467.8 542.3l-1.3 0.9M473.1 542.3l-1.4 0.9M478.4 542.3l-1.7 0.7M483.7 542.3l-2.1 0.5M71.8 548.3l-1.7 -0.5M77.1 548.3l-1.7 -0.5M82.4 548.3l-1.8 -0.3M87.7 548.3l-2.0 0.1M93.0 548.3l-2.0 0.5M98.2 548.3l-1.9 0.9M103.5 548.3l-1.5 1.1M108.8 548.3l-1.0 1.2M114.1 548.3l-0.5 1.1M119.4 548.3h0.9M124.6 548.3h0.9M129.9 548.3h0.9M135.2 548.3l-1.1 0.2M140.5 548.3l-1.7 0.2M145.8 548.3l-2.2 0.3M151.0 548.3l-2.5 0.3M156.3 548.3l-2.5 0.2M161.6 548.3l-2.4 -0.1M166.9 548.3l-2.2 -0.5M172.2 548.3l-2.2 -0.9M177.4 548.3l-2.2 -1.2M182.7 548.3l-2.3 -1.4M188.0 548.3l-2.4 -1.4M193.3 548.3l-2.4 -1.1M198.6 548.3l-2.2 -0.7M203.8 548.3l-1.8 -0.4M209.1 548.3l-1.5 -0.1M214.4 548.3l-1.3 0.0M219.7 548.3l-1.4 0.0M225.0 548.3l-1.7 -0.0M230.2 548.3l-2.3 -0.1M235.5 548.3l-2.9 -0.0M261.9 548.3l-2.7 1.0M267.2 548.3l-2.3 0.8M272.5 548.3l-2.1 0.5M277.8 548.3l-2.0 0.1M283.0 548.3l-2.0 -0.2M288.3 548.3l-2.0 -0.4M293.6 548.3l-1.8 -0.4M298.9 548.3l-1.5 -0.3M304.2 548.3l-1.2 -0.0M309.4 548.3h0.9M314.7 548.3h0.9M320.0 548.3l-1.3 0.3M325.3 548.3l-1.7 0.1M330.6 548.3l-2.2 -0.0M335.8 548.3l-2.6 -0.2M341.1 548.3l-2.7 -0.1M346.4 548.3l-2.5 0.0M351.7 548.3l-2.0 0.3M357.0 548.3l-1.5 0.6M362.2 548.3l-1.0 0.8M367.5 548.3h0.9M372.8 548.3h0.9M378.1 548.3h0.9M383.4 548.3h0.9M388.6 548.3l-1.1 -0.6M393.9 548.3l-1.1 -0.8M399.2 548.3l-1.1 -0.9M404.5 548.3l-1.0 -0.8M409.8 548.3l-1.1 -0.6M415.0 548.3l-1.4 -0.5M420.3 548.3l-1.9 -0.5M425.6 548.3l-2.4 -0.6M430.9 548.3l-2.8 -0.7M436.2 548.3l-3.0 -0.9M441.4 548.3l-2.8 -0.9M446.7 548.3l-2.4 -0.7M452.0 548.3l-1.9 -0.4M457.3 548.3l-1.5 0.1M462.6 548.3l-1.2 0.6M467.8 548.3l-1.3 1.0M473.1 548.3l-1.5 1.2M478.4 548.3l-1.9 1.2M483.7 548.3l-2.2 1.0M71.8 554.2l-1.9 -0.1M77.1 554.2l-2.0 -0.3M82.4 554.2l-2.2 -0.4M87.7 554.2l-2.2 -0.3M93.0 554.2l-2.1 -0.0M98.2 554.2l-1.7 0.3M103.5 554.2l-1.1 0.7M108.8 554.2l-0.6 1.0M114.1 554.2h0.9M119.4 554.2h0.9M124.6 554.2h0.9M129.9 554.2h0.9M135.2 554.2l-1.4 0.1M140.5 554.2l-1.9 -0.1M145.8 554.2l-2.1 -0.1M151.0 554.2l-2.2 -0.0M156.3 554.2l-2.1 0.0M161.6 554.2l-2.0 -0.0M166.9 554.2l-1.9 -0.2M172.2 554.2l-2.0 -0.6M177.4 554.2l-2.1 -0.9M182.7 554.2l-2.3 -1.2M188.0 554.2l-2.2 -1.4M193.3 554.2l-2.0 -1.4M198.6 554.2l-1.7 -1.1M203.8 554.2l-1.3 -0.7M209.1 554.2l-1.1 -0.3M214.4 554.2l-1.1 0.1M219.7 554.2l-1.5 0.3M225.0 554.2l-2.0 0.3M230.2 554.2l-2.7 0.3M235.5 554.2l-3.2 0.2M256.6 554.2l-2.8 0.9M261.9 554.2l-2.5 1.1M267.2 554.2l-2.4 1.1M272.5 554.2l-2.3 1.0M277.8 554.2l-2.3 0.7M283.0 554.2l-2.3 0.3M288.3 554.2l-2.1 -0.1M293.6 554.2l-1.8 -0.4M298.9 554.2l-1.4 -0.5M304.2 554.2l-1.2 -0.4M309.4 554.2l-1.2 -0.2M314.7 554.2l-1.4 -0.0M320.0 554.2l-1.8 0.1M325.3 554.2l-2.4 0.1M330.6 554.2l-2.7 -0.0M335.8 554.2l-2.9 -0.2M341.1 554.2l-2.7 -0.4M346.4 554.2l-2.3 -0.4M351.7 554.2l-1.8 -0.3M357.0 554.2l-1.3 0.0M362.2 554.2h0.9M367.5 554.2h0.9M372.8 554.2l-0.9 0.6M378.1 554.2l-1.0 0.5M383.4 554.2h0.9M388.6 554.2h0.9M393.9 554.2h0.9M399.2 554.2l-0.8 -0.8M404.5 554.2l-0.9 -0.8M409.8 554.2l-1.1 -0.7M415.0 554.2l-1.6 -0.6M420.3 554.2l-2.1 -0.4M425.6 554.2l-2.6 -0.3M430.9 554.2l-2.8 -0.3M436.2 554.2l-2.7 -0.4M441.4 554.2l-2.3 -0.5M446.7 554.2l-1.8 -0.6M452.0 554.2l-1.3 -0.5M457.3 554.2l-1.1 -0.2M462.6 554.2l-1.1 0.2M467.8 554.2l-1.3 0.7M473.1 554.2l-1.6 1.1M478.4 554.2l-1.9 1.3M483.7 554.2l-2.1 1.3M71.8 560.1l-2.3 0.2M77.1 560.1l-2.5 -0.1M82.4 560.1l-2.5 -0.3M87.7 560.1l-2.4 -0.5M93.0 560.1l-2.0 -0.5M98.2 560.1l-1.4 -0.3M103.5 560.1h0.9M108.8 560.1h0.9M114.1 560.1h0.9M119.4 560.1h0.9M124.6 560.1h0.9M129.9 560.1l-1.2 0.5M135.2 560.1l-1.7 0.2M140.5 560.1l-1.9 -0.1M145.8 560.1l-2.0 -0.3M151.0 560.1l-1.9 -0.3M156.3 560.1l-1.8 -0.3M161.6 560.1l-1.7 -0.2M166.9 560.1l-1.8 -0.1M172.2 560.1l-2.0 -0.2M177.4 560.1l-2.1 -0.5M182.7 560.1l-2.1 -0.8M188.0 560.1l-1.9 -1.1M193.3 560.1l-1.5 -1.3M198.6 560.1l-1.1 -1.2M203.8 560.1l-0.9 -1.0M209.1 560.1h0.9M214.4 560.1l-1.2 -0.1M219.7 560.1l-1.7 0.3M225.0 560.1l-2.3 0.5M230.2 560.1l-2.9 0.6M246.1 560.1l-3.1 0.5M251.4 560.1l-2.8 0.5M256.6 560.1l-2.6 0.7M261.9 560.1l-2.5 0.9M267.2 560.1l-2.5 1.1M272.5 560.1l-2.5 1.2M277.8 560.1l-2.5 1.0M283.0 560.1l-2.3 0.7M288.3 560.1l-2.0 0.3M293.6 560.1l-1.6 -0.2M298.9 560.1l-1.4 -0.6M304.2 560.1l-1.3 -0.7M309.4 560.1l-1.5 -0.7M314.7 560.1l-2.0 -0.6M320.0 560.1l-2.5 -0.4M325.3 560.1l-2.9 -0.2M330.6 560.1l-3.1 -0.2M335.8 560.1l-3.0 -0.2M341.1 560.1l-2.6 -0.4M346.4 560.1l-2.1 -0.5M351.7 560.1l-1.6 -0.6M357.0 560.1l-1.3 -0.5M362.2 560.1l-1.2 -0.2M367.5 560.1l-1.2 0.1M372.8 560.1l-1.2 0.4M378.1 560.1l-1.2 0.6M383.4 560.1l-1.0 0.6M388.6 560.1h0.9M393.9 560.1h0.9M399.2 560.1h0.9M404.5 560.1l-0.9 -0.6M409.8 560.1l-1.4 -0.7M415.0 560.1l-1.9 -0.6M420.3 560.1l-2.4 -0.4M425.6 560.1l-2.6 -0.2M430.9 560.1l-2.5 -0.0M436.2 560.1l-2.2 0.0M441.4 560.1l-1.7 -0.1M446.7 560.1l-1.2 -0.2M452.0 560.1h0.9M457.3 560.1h0.9M462.6 560.1h0.9M467.8 560.1l-1.4 0.3M473.1 560.1l-1.6 0.7M478.4 560.1l-1.8 1.1M483.7 560.1l-1.8 1.3M71.8 566.0l-2.7 0.2M77.1 566.0l-2.9 0.1M82.4 566.0l-2.7 -0.2M87.7 566.0l-2.4 -0.4M93.0 566.0l-1.8 -0.6M98.2 566.0l-1.1 -0.7M103.5 566.0h0.9M108.8 566.0h0.9M114.1 566.0h0.9M119.4 566.0h0.9M124.6 566.0l-1.2 0.6M129.9 566.0l-1.6 0.6M135.2 566.0l-1.8 0.4M140.5 566.0l-1.8 0.1M145.8 566.0l-1.7 -0.2M151.0 566.0l-1.6 -0.4M156.3 566.0l-1.6 -0.4M161.6 566.0l-1.7 -0.3M166.9 566.0l-1.9 -0.2M172.2 566.0l-2.0 -0.1M177.4 566.0l-2.0 -0.1M182.7 566.0l-1.8 -0.3M188.0 566.0l-1.4 -0.5M193.3 566.0l-0.9 -0.8M198.6 566.0l-0.6 -1.0M203.8 566.0l-0.5 -1.0M209.1 566.0l-0.8 -0.8M214.4 566.0l-1.3 -0.4M219.7 566.0l-1.9 0.0M225.0 566.0l-2.5 0.5M230.2 566.0l-2.9 0.8M235.5 566.0l-3.0 0.9M240.8 566.0l-2.9 0.9M246.1 566.0l-2.7 0.7M251.4 566.0l-2.5 0.6M256.6 566.0l-2.5 0.6M261.9 566.0l-2.5 0.7M267.2 566.0l-2.6 0.8M272.5 566.0l-2.6 1.0M277.8 566.0l-2.4 1.0M283.0 566.0l-2.1 0.9M288.3 566.0l-1.8 0.6M293.6 566.0l-1.5 0.1M298.9 566.0l-1.4 -0.3M304.2 566.0l-1.6 -0.8M309.4 566.0l-2.0 -1.0M314.7 566.0l-2.6 -1.0M320.0 566.0l-3.0 -0.9M335.8 566.0l-2.9 -0.3M341.1 566.0l-2.5 -0.3M346.4 566.0l-2.0 -0.4M351.7 566.0l-1.7 -0.6M357.0 566.0l-1.5 -0.6M362.2 566.0l-1.5 -0.5M367.5 566.0l-1.5 -0.2M372.8 566.0l-1.4 0.1M378.1 566.0l-1.2 0.5M383.4 566.0l-1.0 0.7M388.6 566.0h0.9M393.9 566.0h0.9M399.2 566.0h0.9M404.5 566.0l-1.3 -0.0M409.8 566.0l-1.8 -0.3M415.0 566.0l-2.3 -0.4M420.3 566.0l-2.5 -0.4M425.6 566.0l-2.5 -0.2M430.9 566.0l-2.2 -0.0M436.2 566.0l-1.7 0.2M441.4 566.0l-1.2 0.2M446.7 566.0h0.9M452.0 566.0h0.9M457.3 566.0h0.9M462.6 566.0l-1.1 -0.2M467.8 566.0l-1.3 -0.1M473.1 566.0l-1.5 0.1M478.4 566.0l-1.5 0.5M483.7 566.0l-1.5 0.9M71.8 572.0l-3.2 -0.1M77.1 572.0l-3.1 -0.0M82.4 572.0l-2.8 -0.1M87.7 572.0l-2.2 -0.3M93.0 572.0l-1.5 -0.6M98.2 572.0l-1.0 -0.8M103.5 572.0l-0.7 -0.9M108.8 572.0h0.9M114.1 572.0h0.9M119.4 572.0l-1.3 -0.2M124.6 572.0l-1.6 0.2M129.9 572.0l-1.8 0.4M135.2 572.0l-1.8 0.5M140.5 572.0l-1.7 0.4M145.8 572.0l-1.6 0.2M151.0 572.0l-1.6 -0.1M156.3 572.0l-1.7 -0.3M161.6 572.0l-1.9 -0.3M166.9 572.0l-2.0 -0.3M172.2 572.0l-2.0 -0.1M177.4 572.0l-1.8 0.0M182.7 572.0l-1.3 0.1M188.0 572.0h0.9M193.3 572.0h0.9M198.6 572.0h0.9M203.8 572.0h0.9M209.1 572.0l-0.9 -0.7M214.4 572.0l-1.5 -0.6M219.7 572.0l-2.1 -0.3M225.0 572.0l-2.5 0.1M230.2 572.0l-2.7 0.5M235.5 572.0l-2.6 0.9M240.8 572.0l-2.5 1.0M246.1 572.0l-2.4 1.0M251.4 572.0l-2.4 0.8M256.6 572.0l-2.4 0.6M261.9 572.0l-2.6 0.5M267.2 572.0l-2.6 0.5M272.5 572.0l-2.4 0.6M277.8 572.0l-2.1 0.7M283.0 572.0l-1.8 0.7M288.3 572.0l-1.4 0.6M293.6 572.0l-1.3 0.4M298.9 572.0l-1.5 -0.0M304.2 572.0l-2.0 -0.5M309.4 572.0l-2.5 -1.0M335.8 572.0l-2.8 -0.6M341.1 572.0l-2.4 -0.4M346.4 572.0l-2.1 -0.3M351.7 572.0l-1.9 -0.3M357.0 572.0l-1.9 -0.4M362.2 572.0l-1.9 -0.4M367.5 572.0l-1.7 -0.4M372.8 572.0l-1.5 -0.1M378.1 572.0l-1.2 0.2M383.4 572.0h0.9M388.6 572.0l-0.8 0.9M393.9 572.0l-0.9 1.0M399.2 572.0l-1.3 0.9M404.5 572.0l-1.8 0.7M409.8 572.0l-2.3 0.3M415.0 572.0l-2.6 -0.0M420.3 572.0l-2.5 -0.2M425.6 572.0l-2.2 -0.3M430.9 572.0l-1.8 -0.1M436.2 572.0l-1.3 0.0M441.4 572.0h0.9M446.7 572.0h0.9M452.0 572.0h0.9M457.3 572.0h0.9M462.6 572.0l-1.1 -0.2M467.8 572.0l-1.2 -0.3M473.1 572.0l-1.2 -0.3M478.4 572.0l-1.1 -0.1M483.7 572.0l-1.2 0.2M77.1 577.9l-3.1 -0.4M82.4 577.9l-2.6 -0.3M87.7 577.9l-1.9 -0.4M93.0 577.9l-1.4 -0.5M98.2 577.9l-1.0 -0.7M103.5 577.9l-0.9 -1.0M108.8 577.9l-1.1 -1.1M114.1 577.9l-1.4 -1.0M119.4 577.9l-1.7 -0.7M124.6 577.9l-1.9 -0.4M129.9 577.9l-1.9 0.1M135.2 577.9l-1.8 0.4M140.5 577.9l-1.7 0.6M145.8 577.9l-1.7 0.6M151.0 577.9l-1.8 0.4M156.3 577.9l-2.0 0.2M161.6 577.9l-2.2 -0.0M166.9 577.9l-2.1 -0.1M172.2 577.9l-1.9 -0.1M177.4 577.9l-1.4 0.1M182.7 577.9h0.9M188.0 577.9h0.9M193.3 577.9h0.9M198.6 577.9h0.9M203.8 577.9h0.9M209.1 577.9l-1.2 -0.4M214.4 577.9l-1.7 -0.6M219.7 577.9l-2.1 -0.5M225.0 577.9l-2.3 -0.3M230.2 577.9l-2.3 0.1M235.5 577.9l-2.2 0.5M240.8 577.9l-2.1 0.8M246.1 577.9l-2.2 0.9M251.4 577.9l-2.3 0.9M256.6 577.9l-2.4 0.7M261.9 577.9l-2.5 0.5M267.2 577.9l-2.4 0.3M272.5 577.9l-2.1 0.2M277.8 577.9l-1.7 0.2M283.0 577.9l-1.3 0.3M288.3 577.9l-1.2 0.4M293.6 577.9l-1.4 0.4M298.9 577.9l-1.8 0.2M304.2 577.9l-2.4 -0.2M309.4 577.9l-2.9 -0.6M335.8 577.9l-2.6 -1.0M341.1 577.9l-2.4 -0.6M346.4 577.9l-2.3 -0.3M351.7 577.9l-2.2 -0.2M357.0 577.9l-2.2 -0.1M362.2 577.9l-2.1 -0.1M367.5 577.9l-1.8 -0.2M372.8 577.9l-1.5 -0.1M378.1 577.9l-1.1 0.1M383.4 577.9h0.9M388.6 577.9l-1.0 0.8M393.9 577.9l-1.4 1.1M399.2 577.9l-1.9 1.2M404.5 577.9l-2.4 1.2M409.8 577.9l-2.7 0.9M415.0 577.9l-2.7 0.6M420.3 577.9l-2.4 0.2M425.6 577.9l-2.0 -0.1M430.9 577.9l-1.5 -0.2M436.2 577.9h0.9M441.4 577.9h0.9M446.7 577.9h0.9M452.0 577.9h0.9M457.3 577.9h0.9M462.6 577.9h0.9M467.8 577.9h0.9M473.1 577.9h0.9M478.4 577.9h0.9M483.7 577.9l-1.0 -0.4M77.1 583.8l-2.9 -0.8M82.4 583.8l-2.3 -0.7M87.7 583.8l-1.7 -0.6M93.0 583.8l-1.3 -0.6M98.2 583.8l-1.2 -0.6M103.5 583.8l-1.4 -0.8M108.8 583.8l-1.6 -0.9M114.1 583.8l-1.9 -1.0M119.4 583.8l-2.0 -1.0M124.6 583.8l-2.0 -0.7M129.9 583.8l-1.9 -0.3M135.2 583.8l-1.9 0.1M140.5 583.8l-1.9 0.5M145.8 583.8l-2.0 0.8M151.0 583.8l-2.2 0.8M156.3 583.8l-2.4 0.7M161.6 583.8l-2.4 0.5M166.9 583.8l-2.1 0.3M172.2 583.8l-1.6 0.1M177.4 583.8h0.9M182.7 583.8h0.9M188.0 583.8h0.9M193.3 583.8h0.9M198.6 583.8h0.9M203.8 583.8h0.9M209.1 583.8l-1.4 0.0M214.4 583.8l-1.8 -0.3M219.7 583.8l-2.0 -0.5M225.0 583.8l-2.0 -0.6M230.2 583.8l-1.9 -0.4M235.5 583.8l-1.9 -0.1M240.8 583.8l-1.9 0.2M246.1 583.8l-2.1 0.5M251.4 583.8l-2.3 0.7M256.6 583.8l-2.3 0.7M261.9 583.8l-2.2 0.5M267.2 583.8l-1.9 0.3M272.5 583.8l-1.5 0.1M277.8 583.8l-1.1 -0.1M283.0 583.8h0.9M288.3 583.8h0.9M293.6 583.8l-1.5 0.1M298.9 583.8l-2.1 0.2M304.2 583.8l-2.7 0.1M309.4 583.8l-3.1 -0.2M330.6 583.8l-2.8 -1.3M335.8 583.8l-2.6 -1.2M341.1 583.8l-2.5 -0.9M346.4 583.8l-2.5 -0.5M351.7 583.8l-2.5 -0.2M357.0 583.8l-2.4 0.1M362.2 583.8l-2.1 0.2M367.5 583.8l-1.7 0.2M372.8 583.8l-1.4 0.2M378.1 583.8l-1.1 0.2M383.4 583.8l-1.2 0.3M388.6 583.8l-1.5 0.6M393.9 583.8l-2.0 0.9M399.2 583.8l-2.5 1.2M404.5 583.8l-2.8 1.3M409.8 583.8l-2.9 1.3M415.0 583.8l-2.7 1.1M420.3 583.8l-2.2 0.7M425.6 583.8l-1.7 0.2M430.9 583.8l-1.4 -0.2M436.2 583.8l-1.1 -0.4M441.4 583.8l-1.1 -0.4M446.7 583.8l-1.1 -0.4M452.0 583.8l-1.1 -0.2M457.3 583.8h0.9M462.6 583.8h0.9M467.8 583.8h0.9M473.1 583.8h0.9M478.4 583.8h0.9M483.7 583.8l-1.1 -0.8M71.8 589.8l-3.1 -0.8M77.1 589.8l-2.5 -1.0M82.4 589.8l-2.0 -1.0M87.7 589.8l-1.6 -0.9M93.0 589.8l-1.4 -0.7M98.2 589.8l-1.6 -0.6M103.5 589.8l-1.8 -0.6M108.8 589.8l-2.1 -0.7M114.1 589.8l-2.2 -0.8M119.4 589.8l-2.2 -0.9M124.6 589.8l-2.1 -0.8M129.9 589.8l-2.0 -0.6M135.2 589.8l-2.0 -0.2M140.5 589.8l-2.2 0.3M145.8 589.8l-2.5 0.7M151.0 589.8l-2.7 1.0M156.3 589.8l-2.7 1.1M161.6 589.8l-2.5 1.1M166.9 589.8l-2.0 0.8M172.2 589.8l-1.3 0.5M177.4 589.8h0.9M182.7 589.8h0.9M188.0 589.8h0.9M193.3 589.8h0.9M198.6 589.8h0.9M203.8 589.8l-1.3 0.4M209.1 589.8l-1.6 0.3M214.4 589.8l-1.8 -0.0M219.7 589.8l-1.8 -0.3M225.0 589.8l-1.7 -0.6M230.2 589.8l-1.7 -0.8M235.5 589.8l-1.7 -0.7M240.8 589.8l-1.9 -0.5M246.1 589.8l-2.1 -0.1M251.4 589.8l-2.2 0.2M256.6 589.8l-2.1 0.4M261.9 589.8l-1.8 0.5M267.2 589.8l-1.4 0.4M272.5 589.8h0.9M277.8 589.8h0.9M283.0 589.8h0.9M288.3 589.8l-1.2 -0.2M293.6 589.8l-1.7 -0.1M298.9 589.8l-2.4 0.0M304.2 589.8l-2.8 0.1M309.4 589.8l-3.1 0.1M314.7 589.8l-3.1 -0.1M320.0 589.8l-2.9 -0.4M325.3 589.8l-2.7 -0.7M330.6 589.8l-2.6 -1.0M335.8 589.8l-2.6 -1.1M341.1 589.8l-2.7 -1.0M346.4 589.8l-2.7 -0.7M351.7 589.8l-2.6 -0.3M357.0 589.8l-2.3 0.0M362.2 589.8l-1.9 0.3M367.5 589.8l-1.5 0.5M372.8 589.8l-1.3 0.5M378.1 589.8l-1.3 0.4M383.4 589.8l-1.6 0.4M388.6 589.8l-2.1 0.4M393.9 589.8l-2.6 0.6M399.2 589.8l-3.0 0.9M415.0 589.8l-2.6 1.2M420.3 589.8l-2.1 1.0M425.6 589.8l-1.7 0.6M430.9 589.8l-1.5 0.1M436.2 589.8l-1.4 -0.3M441.4 589.8l-1.4 -0.6M446.7 589.8l-1.4 -0.7M452.0 589.8l-1.2 -0.7M457.3 589.8l-1.0 -0.6M462.6 589.8h0.9M467.8 589.8h0.9M473.1 589.8h0.9M478.4 589.8l-1.0 -0.6M483.7 589.8l-1.5 -0.8" stroke="#444" stroke-width="1.1" fill="none"/>
<path d="M346.4 210.3l3.3 0.4l-1.0 -0.6m1.0 0.6l-1.1 0.4M335.8 216.2l2.9 -2.3l-1.3 0.3m1.3 -0.3l-0.6 1.2M341.1 216.2l5.4 -1.4l-1.9 -0.4m1.9 0.4l-1.5 1.3M346.4 216.2l6.4 1.1l-1.9 -1.3m1.9 1.3l-2.2 0.6M351.7 216.2l5.4 2.7l-1.3 -1.7m1.3 1.7l-2.1 -0.0M357.0 216.2l3.5 2.1l-0.8 -1.2m0.8 1.2l-1.4 -0.1M393.9 216.2l3.7 -1.0l-1.3 -0.2m1.3 0.2l-1.0 0.9M399.2 216.2l4.5 -0.2l-1.4 -0.6m1.4 0.6l-1.4 0.7M404.5 216.2l4.2 0.7l-1.2 -0.9m1.2 0.9l-1.4 0.4M335.8 222.1l0.1 -4.1l-0.7 1.3m0.7 -1.3l0.6 1.3M351.7 222.1l1.4 4.2l0.2 -1.5m-0.2 1.5l-1.1 -1.1M357.0 222.1l1.4 3.5l0.1 -1.3m-0.1 1.3l-1.0 -0.9M335.8 228.0l-2.5 -2.8l0.4 1.3m-0.4 -1.3l1.2 0.5M341.1 228.0l-3.9 -2.0l0.9 1.2m-0.9 -1.2l1.6 0.0M346.4 228.0l-4.1 0.6l1.4 0.4m-1.4 -0.4l1.2 -0.8M351.7 228.0l-2.7 2.5l1.2 -0.4m-1.2 0.4l0.5 -1.2M388.6 228.0l-2.5 -2.4l0.4 1.1m-0.4 -1.1l1.1 0.4M393.9 228.0l-4.0 -1.9l1.0 1.2m-1.0 -1.2l1.5 0.0M399.2 228.0l-5.1 -0.9l1.5 1.1m-1.5 -1.1l1.7 -0.5M404.5 228.0l-5.3 0.4l1.7 0.7m-1.7 -0.7l1.6 -0.9M409.8 228.0l-4.5 1.2l1.6 0.3m-1.6 -0.3l1.2 -1.1M415.0 228.0l-3.2 1.4l1.2 0.1m-1.2 -0.1l0.8 -0.9M357.0 245.8l3.2 -3.1l-1.5 0.5m1.5 -0.5l-0.5 1.5M362.2 245.8l5.3 -1.7l-1.9 -0.3m1.9 0.3l-1.4 1.3M367.5 245.8l4.9 1.6l-1.3 -1.3m1.3 1.3l-1.8 0.2M372.8 245.8l2.7 2.0l-0.5 -1.0m0.5 1.0l-1.2 -0.2M357.0 251.8l-1.8 -3.0l0.1 1.2m-0.1 -1.2l1.0 0.7M362.2 251.8l-3.6 -1.6l0.9 1.0m-0.9 -1.0l1.4 -0.0M367.5 251.8l-3.0 1.8l1.2 -0.1m-1.2 0.1l0.7 -1.0M409.8 257.7l3.5 -3.5l-1.6 0.6m1.6 -0.6l-0.6 1.6M415.0 257.7l7.2 -2.3l-2.6 -0.4m2.6 0.4l-1.9 1.8M420.3 257.7l6.8 2.4l-1.8 -1.8m1.8 1.8l-2.5 0.3M425.6 257.7l3.4 2.5l-0.7 -1.3m0.7 1.3l-1.5 -0.3M409.8 263.6l1.3 -6.0l-1.3 1.7m1.3 -1.7l0.5 2.1M415.0 263.6l1.9 -3.7l-1.2 0.9m1.2 -0.9l-0.0 1.5M420.3 263.6l1.9 4.8l0.1 -1.8m-0.1 1.8l-1.3 -1.2M425.6 263.6l1.4 4.5l0.3 -1.6m-0.3 1.6l-1.1 -1.2M462.6 263.6l3.5 -1.3l-1.3 -0.1m1.3 0.1l-0.9 0.9M467.8 263.6l4.7 -1.0l-1.6 -0.4m1.6 0.4l-1.3 1.0M473.1 263.6l4.7 0.4l-1.4 -0.8m1.4 0.8l-1.5 0.6M478.4 263.6l3.3 1.4l-0.8 -1.0m0.8 1.0l-1.3 0.0M325.3 269.6l2.3 -2.4l-1.1 0.4m1.1 -0.4l-0.4 1.1M330.6 269.6l3.5 -1.8l-1.4 0.0m1.4 -0.0l-0.8 1.1M335.8 269.6l4.3 -0.2l-1.4 -0.6m1.4 0.6l-1.3 0.7M341.1 269.6l4.2 1.6l-1.1 -1.2m1.1 1.2l-1.6 0.1M346.4 269.6l3.4 2.9l-0.6 -1.4m0.6 1.4l-1.5 -0.4M351.7 269.6l2.3 3.1l-0.3 -1.3m0.3 1.3l-1.2 -0.6M409.8 269.6l-1.9 -3.6l0.0 1.4m-0.0 -1.4l1.1 0.8M415.0 269.6l-5.0 -2.2l1.2 1.5m-1.2 -1.5l1.9 -0.1M420.3 269.6l-4.4 2.9l1.8 -0.2m-1.8 0.2l1.0 -1.6M457.3 269.6l2.7 -2.8l-1.3 0.5m1.3 -0.5l-0.4 1.3M462.6 269.6l4.7 -3.9l-2.1 0.5m2.1 -0.5l-0.9 1.9M467.8 269.6l6.6 -2.5l-2.5 -0.2m2.5 0.2l-1.7 1.8M473.1 269.6l6.9 1.1l-2.0 -1.4m2.0 1.4l-2.3 0.7M478.4 269.6l5.2 3.9l-1.1 -2.0m1.1 2.0l-2.2 -0.4M483.7 269.6l2.9 3.9l-0.3 -1.7m0.3 1.7l-1.5 -0.8M320.0 275.5l1.4 -3.0l-0.9 0.7m0.9 -0.7l0.0 1.1M325.3 275.5l2.7 -3.8l-1.4 0.8m1.4 -0.8l-0.3 1.6M330.6 275.5l4.3 -3.0l-1.8 0.3m1.8 -0.3l-0.9 1.6M335.8 275.5l5.3 -0.6l-1.8 -0.6m1.8 0.6l-1.6 1.0M341.1 275.5l5.2 2.3l-1.3 -1.5m1.3 1.5l-2.0 0.1M346.4 275.5l4.2 4.2l-0.7 -2.0m0.7 2.0l-2.0 -0.7M351.7 275.5l2.5 4.5l-0.1 -1.8m0.1 1.8l-1.5 -1.0M357.0 275.5l0.6 4.0l0.4 -1.3m-0.4 1.3l-0.8 -1.2M457.3 275.5l1.6 -5.2l-1.3 1.4m1.3 -1.4l0.3 1.9M462.6 275.5l2.5 -6.7l-1.8 1.7m1.8 -1.7l0.2 2.5M467.8 275.5l3.5 -4.2l-1.7 0.8m1.7 -0.8l-0.5 1.9M473.1 275.5l3.8 1.9l-0.9 -1.2m0.9 1.2l-1.5 -0.0M478.4 275.5l3.0 6.6l0.1 -2.5m-0.1 2.5l-2.0 -1.6M483.7 275.5l1.9 6.6l0.4 -2.4m-0.4 2.4l-1.6 -1.8M320.0 281.4l0.8 -3.9l-0.8 1.1m0.8 -1.1l0.4 1.4M325.3 281.4l1.9 -4.9l-1.3 1.3m1.3 -1.3l0.2 1.8M330.6 281.4l3.1 -4.0l-1.6 0.8m1.6 -0.8l-0.4 1.7M335.8 281.4l3.9 -0.7l-1.3 -0.4m1.3 0.4l-1.1 0.8M341.1 281.4l3.9 3.1l-0.7 -1.6m0.7 1.6l-1.7 -0.4M346.4 281.4l3.0 5.5l-0.1 -2.2m0.1 2.2l-1.8 -1.3M351.7 281.4l1.3 6.1l0.5 -2.1m-0.5 2.1l-1.4 -1.7M357.0 281.4l-1.5 6.2l1.4 -1.7m-1.4 1.7l-0.5 -2.2M362.2 281.4l-4.6 3.9l2.0 -0.5m-2.0 0.5l0.9 -1.9M367.5 281.4l-4.7 0.2l1.5 0.7m-1.5 -0.7l1.5 -0.8M393.9 281.4l3.3 -0.9l-1.2 -0.2m1.2 0.2l-0.9 0.8M399.2 281.4l4.0 -0.3l-1.3 -0.5m1.3 0.5l-1.2 0.7M404.5 281.4l3.3 0.3l-1.0 -0.6m1.0 0.6l-1.1 0.4M452.0 281.4l0.1 -3.4l-0.5 1.0m0.5 -1.0l0.5 1.1M457.3 281.4l-1.0 -5.9l-0.6 2.0m0.6 -2.0l1.2 1.7M462.6 281.4l-2.4 -7.4l-0.4 2.6m0.4 -2.6l1.8 1.9M467.8 281.4l-3.5 -4.6l0.4 2.0m-0.4 -2.0l1.8 0.9M473.1 281.4l-3.7 2.0l1.5 -0.1m-1.5 0.1l0.8 -1.2M478.4 281.4l-2.6 7.2l1.9 -1.8m-1.9 1.8l-0.3 -2.6M483.7 281.4l-1.0 7.3l1.4 -2.2m-1.4 2.2l-0.8 -2.5M320.0 287.3l-0.7 -4.6l-0.5 1.6m0.5 -1.6l0.9 1.4M325.3 287.3l-0.2 -5.4l-0.8 1.7m0.8 -1.7l0.9 1.7M330.6 287.3l0.1 -4.2l-0.7 1.3m0.7 -1.3l0.6 1.3M341.1 287.3l0.3 3.5l0.4 -1.2m-0.4 1.2l-0.6 -1.1M346.4 287.3l0.1 6.0l0.9 -1.9m-0.9 1.9l-0.9 -1.9M351.7 287.3l-0.8 7.4l1.4 -2.2m-1.4 2.2l-0.9 -2.4M357.0 287.3l-2.8 8.5l1.8 -1.9m-1.8 1.9l-0.3 -2.6M362.2 287.3l-5.7 5.1l2.5 -0.7m-2.5 0.7l1.0 -2.4M367.5 287.3l-5.3 -2.7l1.3 1.7m-1.3 -1.7l2.1 0.0M372.8 287.3l-2.8 -2.9l0.4 1.4m-0.4 -1.4l1.3 0.5M388.6 287.3l4.1 -2.9l-1.7 0.3m1.7 -0.3l-0.8 1.5M393.9 287.3l6.8 -2.3l-2.5 -0.3m2.5 0.3l-1.8 1.7M399.2 287.3l7.6 0.2l-2.3 -1.2m2.3 1.2l-2.4 1.1M404.5 287.3l6.0 2.2l-1.5 -1.6m1.5 1.6l-2.2 0.2M409.8 287.3l3.4 2.2l-0.7 -1.2m0.7 1.2l-1.4 -0.2M457.3 287.3l-2.3 -4.4l0.0 1.7m-0.0 -1.7l1.4 1.0M462.6 287.3l-5.0 -5.4l0.8 2.5m-0.8 -2.5l2.4 1.0M467.8 287.3l-7.4 -3.4l1.7 2.0m-1.7 -2.0l2.6 -0.0M473.1 287.3l-7.7 1.4l2.5 0.7m-2.5 -0.7l2.1 -1.5M478.4 287.3l-5.6 5.2l2.5 -0.8m-2.5 0.8l0.9 -2.4M483.7 287.3l-2.5 5.5l1.6 -1.4m-1.6 1.4l-0.0 -2.1M309.4 293.3l-3.7 1.6l1.4 0.1m-1.4 -0.1l0.9 -1.1M314.7 293.3l-6.5 -3.6l1.5 2.1m-1.5 -2.1l2.6 0.1M320.0 293.3l-3.3 -6.9l0.0 2.6m-0.0 -2.6l2.0 1.6M325.3 293.3l-2.1 -5.2l-0.1 2.0m0.1 -2.0l1.5 1.3M330.6 293.3l-2.7 -3.6l0.3 1.6m-0.3 -1.6l1.4 0.7M335.8 293.3l-3.3 -0.4l1.0 0.6m-1.0 -0.6l1.1 -0.4M341.1 293.3l-3.3 3.2l1.5 -0.5m-1.5 0.5l0.5 -1.5M346.4 293.3l-2.8 5.4l1.7 -1.3m-1.7 1.3l0.1 -2.1M351.7 293.3l-2.2 6.9l1.7 -1.8m-1.7 1.8l-0.4 -2.5M357.0 293.3l-1.3 8.9l1.5 -2.2m-1.5 2.2l-0.8 -2.5M362.2 293.3l-0.4 4.9l0.9 -1.5m-0.9 1.5l-0.6 -1.6M367.5 293.3l-0.5 -4.4l-0.5 1.5m0.5 -1.5l0.8 1.3M372.8 293.3l-0.9 -4.6l-0.4 1.6m0.4 -1.6l1.0 1.3M383.4 293.3l0.2 -3.5l-0.6 1.1m0.6 -1.1l0.5 1.1M388.6 293.3l1.4 -5.1l-1.2 1.4m1.2 -1.4l0.3 1.8M393.9 293.3l2.5 -3.6l-1.3 0.8m1.3 -0.8l-0.2 1.5M404.5 293.3l2.2 4.5l-0.0 -1.7m0.0 1.7l-1.4 -1.1M409.8 293.3l1.4 4.2l0.2 -1.5m-0.2 1.5l-1.1 -1.1M425.6 293.3l3.4 -1.4l-1.3 -0.1m1.3 0.1l-0.9 1.0M430.9 293.3l4.8 -1.5l-1.7 -0.3m1.7 0.3l-1.3 1.2M436.2 293.3l5.7 -1.0l-1.9 -0.5m1.9 0.5l-1.6 1.2M441.4 293.3l5.5 -0.5l-1.8 -0.7m1.8 0.7l-1.7 1.0M446.7 293.3l4.3 -0.2l-1.4 -0.6m1.4 0.6l-1.3 0.7M462.6 293.3l-3.3 -2.4l0.7 1.2m-0.7 -1.2l1.4 0.3M467.8 293.3l-5.3 -1.6l1.4 1.3m-1.4 -1.3l1.9 -0.3M473.1 293.3l-5.6 0.7l1.9 0.6m-1.9 -0.6l1.7 -1.1M478.4 293.3l-4.0 2.6l1.7 -0.2m-1.7 0.2l0.9 -1.4M483.7 293.3l-1.7 3.1l1.0 -0.7m-1.0 0.7l0.1 -1.2M309.4 299.2l1.3 4.5l0.3 -1.6m-0.3 1.6l-1.1 -1.2M314.7 299.2l2.2 -3.8l-1.3 0.8m1.3 -0.8l-0.1 1.5M320.0 299.2l-0.1 -8.2l-1.1 2.4m1.1 -2.4l1.2 2.3M325.3 299.2l-2.1 -4.4l-0.0 1.7m0.0 -1.7l1.3 1.1M330.6 299.2l-3.5 -2.7l0.7 1.4m-0.7 -1.4l1.5 0.3M335.8 299.2l-4.5 -0.3l1.4 0.8m-1.4 -0.8l1.5 -0.6M341.1 299.2l-4.7 2.3l1.8 -0.0m-1.8 0.0l1.1 -1.4M346.4 299.2l-4.0 3.8l1.8 -0.6m-1.8 0.6l0.7 -1.8M351.7 299.2l-2.7 4.6l1.5 -1.0m-1.5 1.0l0.2 -1.8M357.0 299.2l-0.1 5.7l0.9 -1.8m-0.9 1.8l-0.8 -1.8M362.2 299.2l3.0 2.8l-0.5 -1.3m0.5 1.3l-1.4 -0.4M367.5 299.2l2.7 -3.0l-1.3 0.5m1.3 -0.5l-0.4 1.4M372.8 299.2l0.3 -3.2l-0.6 1.0m0.6 -1.0l0.4 1.1M383.4 299.2l-2.3 -3.2l0.2 1.3m-0.2 -1.3l1.2 0.6M388.6 299.2l-4.2 -4.4l0.7 2.0m-0.7 -2.0l2.0 0.7M393.9 299.2l-6.2 -2.8l1.5 1.8m-1.5 -1.8l2.4 -0.0M399.2 299.2l-6.7 1.1l2.3 0.7m-2.3 -0.7l2.0 -1.4M404.5 299.2l-5.3 4.0l2.3 -0.5m-2.3 0.5l1.1 -2.1M409.8 299.2l-2.7 3.3l1.4 -0.6m-1.4 0.6l0.4 -1.5M425.6 299.2l3.1 -3.4l-1.5 0.6m1.5 -0.6l-0.4 1.6M430.9 299.2l4.3 -3.3l-1.9 0.4m1.9 -0.4l-0.9 1.7M436.2 299.2l4.9 -1.9l-1.8 -0.2m1.8 0.2l-1.3 1.3M441.4 299.2l4.6 0.1l-1.4 -0.7m1.4 0.7l-1.5 0.7M446.7 299.2l3.4 1.7l-0.8 -1.0m0.8 1.0l-1.3 -0.0M314.7 305.1l4.2 -1.8l-1.6 -0.1m1.6 0.1l-1.1 1.2M320.0 305.1l1.3 -3.4l-0.9 0.9m0.9 -0.9l0.1 1.3M335.8 305.1l-3.5 -0.5l1.0 0.7m-1.0 -0.7l1.2 -0.4M341.1 305.1l-3.9 1.0l1.4 0.3m-1.4 -0.3l1.1 -0.9M346.4 305.1l-3.5 1.9l1.4 -0.1m-1.4 0.1l0.8 -1.1M351.7 305.1l-2.5 2.1l1.1 -0.3m-1.1 0.3l0.5 -1.1M388.6 305.1l-4.4 -1.7l1.1 1.2m-1.1 -1.2l1.6 -0.1M393.9 305.1l-6.5 -0.9l1.9 1.3m-1.9 -1.3l2.2 -0.7M399.2 305.1l-7.0 0.8l2.3 0.8m-2.3 -0.8l2.1 -1.3M404.5 305.1l-5.5 1.9l2.0 0.2m-2.0 -0.2l1.5 -1.4M409.8 305.1l-3.2 1.2l1.2 0.1m-1.2 -0.1l0.8 -0.9M425.6 305.1l-2.7 -3.5l0.3 1.5m-0.3 -1.5l1.4 0.7M430.9 305.1l-4.3 -3.3l0.9 1.7m-0.9 -1.7l1.9 0.4M436.2 305.1l-5.8 -1.9l1.6 1.5m-1.6 -1.5l2.1 -0.3M441.4 305.1l-6.6 0.1l2.1 1.0m-2.1 -1.0l2.1 -1.0M446.7 305.1l-6.3 1.9l2.3 0.4m-2.3 -0.4l1.7 -1.5M452.0 305.1l-5.1 2.6l2.0 -0.0m-2.0 0.0l1.2 -1.6M457.3 305.1l-3.6 2.2l1.5 -0.1m-1.5 0.1l0.8 -1.2M425.6 311.1l-3.4 -1.5l0.8 1.0m-0.8 -1.0l1.3 -0.0M430.9 311.1l-4.8 -1.6l1.3 1.2m-1.3 -1.2l1.8 -0.2M436.2 311.1l-6.1 -1.1l1.8 1.3m-1.8 -1.3l2.1 -0.6M441.4 311.1l-6.6 -0.3l2.0 1.1m-2.0 -1.1l2.1 -0.9M446.7 311.1l-6.1 0.5l2.0 0.8m-2.0 -0.8l1.9 -1.1M452.0 311.1l-4.8 0.9l1.6 0.4m-1.6 -0.4l1.4 -1.0M457.3 311.1l-3.2 0.9l1.1 0.2m-1.1 -0.2l0.9 -0.8M219.7 317.0l2.8 -1.7l-1.1 0.1m1.1 -0.1l-0.6 1.0M225.0 317.0l3.1 -1.8l-1.3 0.1m1.3 -0.1l-0.7 1.0M240.8 317.0l-6.1 1.3l2.1 0.5m-2.1 -0.5l1.7 -1.3M246.1 317.0l-7.5 0.8l2.4 0.9m-2.4 -0.9l2.2 -1.4M251.4 317.0l-7.2 -0.0l2.3 1.1m-2.3 -1.1l2.3 -1.1M256.6 317.0l-5.6 -0.5l1.7 1.0m-1.7 -1.0l1.8 -0.7M261.9 317.0l-3.5 -0.5l1.0 0.7m-1.0 -0.7l1.2 -0.4M415.0 317.0l-4.2 1.8l1.6 0.1m-1.6 -0.1l1.0 -1.2M420.3 317.0l-5.2 0.0l1.6 0.8m-1.6 -0.8l1.6 -0.8M425.6 317.0l-4.4 -1.4l1.2 1.1m-1.2 -1.1l1.6 -0.2M430.9 317.0l-3.3 -1.4l0.8 1.0m-0.8 -1.0l1.2 -0.0M214.4 322.9l3.8 -1.5l-1.4 -0.1m1.4 0.1l-1.0 1.1M219.7 322.9l4.3 -1.4l-1.6 -0.2m1.6 0.2l-1.1 1.1M225.0 322.9l3.2 -0.4l-1.1 -0.4m1.1 0.4l-1.0 0.6M235.5 322.9l-4.3 3.2l1.8 -0.3m-1.8 0.3l0.9 -1.7M240.8 322.9l-7.8 2.9l2.6 0.2m-2.6 -0.2l1.8 -1.9M246.1 322.9l-9.0 0.7l2.4 0.9m-2.4 -0.9l2.2 -1.3M251.4 322.9l-8.7 -1.9l2.0 1.6m-2.0 -1.6l2.5 -0.6M256.6 322.9l-6.7 -3.3l1.6 2.1m-1.6 -2.1l2.6 0.0M261.9 322.9l-4.2 -3.1l0.9 1.6m-0.9 -1.6l1.8 0.3M409.8 322.9l-1.8 5.2l1.4 -1.4m-1.4 1.4l-0.2 -1.9M415.0 322.9l-4.3 4.3l2.0 -0.7m-2.0 0.7l0.7 -2.0M420.3 322.9l-5.4 -0.2l1.7 0.9m-1.7 -0.9l1.7 -0.8M425.6 322.9l-4.5 -3.6l0.9 1.8m-0.9 -1.8l2.0 0.4M430.9 322.9l-2.9 -3.1l0.4 1.4m-0.4 -1.4l1.4 0.5M203.8 328.9l3.3 -1.8l-1.3 0.1m1.3 -0.1l-0.8 1.1M209.1 328.9l4.5 -2.0l-1.7 -0.1m1.7 0.1l-1.1 1.3M214.4 328.9l4.8 -1.5l-1.8 -0.3m1.8 0.3l-1.3 1.2M219.7 328.9l4.3 -0.3l-1.4 -0.6m1.4 0.6l-1.3 0.7M225.0 328.9l3.2 1.7l-0.8 -1.0m0.8 1.0l-1.3 -0.0M230.2 328.9l2.2 3.8l-0.1 -1.5m0.1 1.5l-1.3 -0.9M235.5 328.9l1.5 4.9l0.3 -1.8m-0.3 1.8l-1.2 -1.3M240.8 328.9l1.3 3.7l0.1 -1.4m-0.1 1.4l-1.0 -1.0M251.4 328.9l1.5 -3.2l-0.9 0.8m0.9 -0.8l0.0 1.2M256.6 328.9l1.1 -5.1l-1.1 1.4m1.1 -1.4l0.4 1.8M261.9 328.9l0.6 -4.7l-0.9 1.4m0.9 -1.4l0.5 1.6M404.5 328.9l2.1 2.9l-0.2 -1.2m0.2 1.2l-1.1 -0.6M409.8 328.9l3.5 5.2l-0.3 -2.2m0.3 2.2l-1.9 -1.1M415.0 328.9l4.9 4.4l-0.9 -2.1m0.9 2.1l-2.2 -0.6M420.3 328.9l4.8 -0.0l-1.5 -0.7m1.5 0.7l-1.5 0.8M425.6 328.9l2.8 -3.2l-1.4 0.6m1.4 -0.6l-0.4 1.4M193.3 334.8l2.7 -1.8l-1.1 0.1m1.1 -0.1l-0.6 1.0M198.6 334.8l4.0 -2.4l-1.6 0.1m1.6 -0.1l-0.9 1.4M203.8 334.8l4.8 -2.4l-1.9 0.0m1.9 -0.0l-1.1 1.5M209.1 334.8l4.6 -1.8l-1.7 -0.1m1.7 0.1l-1.2 1.3M214.4 334.8l3.7 -0.8l-1.3 -0.3m1.3 0.3l-1.0 0.8M230.2 334.8l3.6 3.0l-0.7 -1.5m0.7 1.5l-1.6 -0.4M235.5 334.8l5.8 3.3l-1.3 -1.9m1.3 1.9l-2.3 -0.2M240.8 334.8l8.1 2.2l-2.0 -1.7m2.0 1.7l-2.6 0.5M246.1 334.8l9.0 -0.1l-2.4 -1.1m2.4 1.1l-2.3 1.2M251.4 334.8l8.6 -2.5l-2.6 -0.4m2.6 0.4l-1.9 1.7M256.6 334.8l6.6 -3.7l-2.6 0.2m2.6 -0.2l-1.5 2.1M261.9 334.8l3.8 -3.3l-1.7 0.5m1.7 -0.5l-0.7 1.6M409.8 334.8l3.5 2.1l-0.8 -1.2m0.8 1.2l-1.4 -0.1M415.0 334.8l4.9 2.0l-1.3 -1.4m1.3 1.4l-1.8 0.1M420.3 334.8l4.9 0.6l-1.5 -0.9m1.5 0.9l-1.6 0.6M188.0 340.7l3.5 -1.4l-1.3 -0.1m1.3 0.1l-0.9 1.0M193.3 340.7l4.2 -1.9l-1.6 -0.0m1.6 0.0l-1.0 1.2M198.6 340.7l4.9 -2.5l-1.9 0.0m1.9 -0.0l-1.2 1.5M203.8 340.7l6.2 -2.8l-2.4 -0.1m2.4 0.1l-1.5 1.8M209.1 340.7l7.0 -1.2l-2.4 -0.7m2.4 0.7l-2.0 1.4M214.4 340.7l5.1 0.9l-1.5 -1.1m1.5 1.1l-1.7 0.5M235.5 340.7l3.2 1.1l-0.8 -0.8m0.8 0.8l-1.2 0.1M240.8 340.7l4.6 0.5l-1.4 -0.9m1.4 0.9l-1.5 0.5M246.1 340.7l5.3 -0.4l-1.7 -0.7m1.7 0.7l-1.6 0.9M251.4 340.7l4.8 -1.4l-1.7 -0.3m1.7 0.3l-1.3 1.2M256.6 340.7l3.3 -1.9l-1.3 0.1m1.3 -0.1l-0.8 1.1M166.9 346.6l3.4 -1.4l-1.3 -0.1m1.3 0.1l-0.9 1.0M172.2 346.6l3.3 -0.8l-1.2 -0.3m1.2 0.3l-0.9 0.7M177.4 346.6l3.7 -0.5l-1.2 -0.4m1.2 0.4l-1.1 0.7M182.7 346.6l3.9 -0.3l-1.3 -0.5m1.3 0.5l-1.2 0.7M188.0 346.6l3.5 -0.7l-1.2 -0.3m1.2 0.3l-1.0 0.8M198.6 346.6l2.4 -2.5l-1.1 0.4m1.1 -0.4l-0.4 1.2M203.8 346.6l1.9 -4.2l-1.2 1.0m1.2 -1.0l0.0 1.6M214.4 346.6l0.9 3.4l0.2 -1.2m-0.2 1.2l-0.8 -0.9M151.0 352.6l2.7 -1.8l-1.1 0.2m1.1 -0.2l-0.6 1.0M156.3 352.6l3.6 -2.6l-1.5 0.3m1.5 -0.3l-0.7 1.4M161.6 352.6l4.3 -1.9l-1.7 -0.1m1.7 0.1l-1.1 1.3M166.9 352.6l4.2 -1.8l-1.6 -0.1m1.6 0.1l-1.0 1.2M172.2 352.6l3.2 -1.1l-1.2 -0.1m1.2 0.1l-0.8 0.8M209.1 352.6l-5.1 -0.2l1.6 0.8m-1.6 -0.8l1.6 -0.7M214.4 352.6l-4.3 1.4l1.6 0.2m-1.6 -0.2l1.1 -1.1M145.8 358.5l3.4 -2.2l-1.4 0.2m1.4 -0.2l-0.7 1.2M151.0 358.5l4.0 -2.8l-1.7 0.3m1.7 -0.3l-0.8 1.5M156.3 358.5l3.7 -2.7l-1.6 0.3m1.6 -0.3l-0.8 1.4M161.6 358.5l3.3 -1.4l-1.3 -0.0m1.3 0.0l-0.8 1.0M135.2 364.4l2.8 -2.1l-1.2 0.2m1.2 -0.2l-0.6 1.1M140.5 364.4l3.7 -3.0l-1.6 0.4m1.6 -0.4l-0.7 1.5M145.8 364.4l4.1 -2.9l-1.7 0.3m1.7 -0.3l-0.9 1.5M151.0 364.4l3.4 -2.4l-1.4 0.2m1.4 -0.2l-0.7 1.3M129.9 370.4l3.2 -2.5l-1.4 0.3m1.4 -0.3l-0.6 1.3M135.2 370.4l4.0 -3.3l-1.7 0.4m1.7 -0.4l-0.7 1.6M140.5 370.4l3.8 -3.3l-1.7 0.5m1.7 -0.5l-0.7 1.6M145.8 370.4l2.7 -2.4l-1.2 0.4m1.2 -0.4l-0.5 1.2M124.6 376.3l3.2 -2.7l-1.4 0.4m1.4 -0.4l-0.6 1.3M129.9 376.3l4.0 -3.3l-1.8 0.4m1.8 -0.4l-0.8 1.6M135.2 376.3l3.5 -3.1l-1.6 0.4m1.6 -0.4l-0.6 1.5M341.1 376.3l-3.2 0.7l1.1 0.3m-1.1 -0.3l0.9 -0.7M119.4 382.2l3.8 -2.0l-1.5 0.1m1.5 -0.1l-0.9 1.2M124.6 382.2l4.1 -2.9l-1.7 0.3m1.7 -0.3l-0.8 1.5M129.9 382.2l3.1 -2.7l-1.4 0.4m1.4 -0.4l-0.5 1.3M114.1 388.2l3.8 -2.4l-1.5 0.2m1.5 -0.2l-0.8 1.3M119.4 388.2l4.0 -2.8l-1.7 0.3m1.7 -0.3l-0.8 1.5M124.6 388.2l2.9 -2.2l-1.2 0.3m1.2 -0.3l-0.6 1.1M225.0 388.2l-2.9 1.6l1.1 -0.1m-1.1 0.1l0.6 -0.9M230.2 388.2l-3.8 1.1l1.4 0.2m-1.4 -0.2l1.0 -0.9M235.5 388.2l-3.9 0.2l1.3 0.5m-1.3 -0.5l1.2 -0.7M108.8 394.1l3.8 -2.8l-1.6 0.3m1.6 -0.3l-0.8 1.5M114.1 394.1l3.9 -3.2l-1.7 0.4m1.7 -0.4l-0.7 1.6M119.4 394.1l2.7 -2.4l-1.2 0.4m1.2 -0.4l-0.5 1.2M103.5 400.0l4.0 -2.7l-1.7 0.3m1.7 -0.3l-0.8 1.5M108.8 400.0l3.9 -3.2l-1.7 0.4m1.7 -0.4l-0.7 1.6M114.1 400.0l2.6 -2.5l-1.2 0.4m1.2 -0.4l-0.4 1.2M193.3 400.0l1.9 -2.9l-1.0 0.6m1.0 -0.6l-0.2 1.2M98.2 405.9l2.9 -2.9l-1.4 0.5m1.4 -0.5l-0.5 1.3M103.5 405.9l3.1 -3.6l-1.5 0.7m1.5 -0.7l-0.4 1.6M108.8 405.9l1.9 -2.6l-1.0 0.5m1.0 -0.5l-0.2 1.1M93.0 411.9l2.7 -3.1l-1.3 0.6m1.3 -0.6l-0.4 1.4M98.2 411.9l3.2 -3.9l-1.6 0.7m1.6 -0.7l-0.4 1.7M103.5 411.9l2.3 -3.0l-1.2 0.6m1.2 -0.6l-0.3 1.3M87.7 417.8l2.1 -3.5l-1.2 0.8m1.2 -0.8l-0.1 1.4M93.0 417.8l2.9 -4.9l-1.7 1.1m1.7 -1.1l-0.2 2.0M98.2 417.8l2.9 -4.1l-1.5 0.9m1.5 -0.9l-0.3 1.7M272.5 417.8l3.6 1.1l-1.0 -0.9m1.0 0.9l-1.3 0.2M82.4 423.7l1.7 -2.9l-1.0 0.6m1.0 -0.6l-0.1 1.2M87.7 423.7l2.7 -4.9l-1.6 1.1m1.6 -1.1l-0.1 2.0M93.0 423.7l3.0 -5.8l-1.8 1.4m1.8 -1.4l-0.1 2.3M98.2 423.7l2.3 -4.2l-1.4 1.0m1.4 -1.0l-0.1 1.7M272.5 423.7l2.8 2.0l-0.6 -1.0m0.6 1.0l-1.2 -0.2M277.8 423.7l1.9 2.9l-0.2 -1.2m0.2 1.2l-1.0 -0.6M82.4 429.7l2.2 -3.8l-1.3 0.9m1.3 -0.9l-0.1 1.5M87.7 429.7l2.8 -5.7l-1.8 1.4m1.8 -1.4l-0.0 2.2M93.0 429.7l2.5 -5.9l-1.7 1.5m1.7 -1.5l0.1 2.3M98.2 429.7l1.9 -4.2l-1.2 1.0m1.2 -1.0l0.0 1.6M82.4 435.6l1.8 -3.3l-1.1 0.8m1.1 -0.8l-0.1 1.3M87.7 435.6l2.0 -4.9l-1.4 1.2m1.4 -1.2l0.1 1.9M93.0 435.6l1.1 -5.0l-1.1 1.4m1.1 -1.4l0.4 1.7M98.2 435.6l-0.2 -3.6l-0.5 1.2m0.5 -1.2l0.6 1.1M467.8 435.6l-3.2 -0.7l0.9 0.7m-0.9 -0.7l1.1 -0.3M473.1 435.6l-3.2 -0.3l1.0 0.6m-1.0 -0.6l1.1 -0.4M219.7 447.5l-3.2 -2.8l0.6 1.4m-0.6 -1.4l1.4 0.4M225.0 447.5l-3.9 -2.5l0.9 1.4m-0.9 -1.4l1.6 0.2M230.2 447.5l-4.2 -1.0l1.2 0.9m-1.2 -0.9l1.5 -0.3M235.5 447.5l-3.6 0.7l1.2 0.3m-1.2 -0.3l1.0 -0.8M219.7 453.4l-3.6 -1.7l0.9 1.1m-0.9 -1.1l1.4 -0.0M225.0 453.4l-4.4 -1.8l1.1 1.2m-1.1 -1.2l1.7 -0.1M230.2 453.4l-4.5 -1.3l1.2 1.1m-1.2 -1.1l1.6 -0.3M235.5 453.4l-3.7 -0.6l1.1 0.8m-1.1 -0.8l1.2 -0.4M298.9 471.2l-3.2 0.6l1.1 0.3m-1.1 -0.3l0.9 -0.7M304.2 471.2l-3.3 0.5l1.1 0.3m-1.1 -0.3l1.0 -0.7M108.8 477.1l-3.2 -0.6l0.9 0.7m-0.9 -0.7l1.1 -0.3M293.6 477.1l-3.1 1.0l1.2 0.2m-1.2 -0.2l0.8 -0.8M298.9 477.1l-3.3 0.8l1.2 0.3m-1.2 -0.3l0.9 -0.7M304.2 477.1l-3.2 0.5l1.1 0.3m-1.1 -0.3l0.9 -0.6M103.5 483.0l-3.4 -0.6l1.0 0.7m-1.0 -0.7l1.2 -0.3M108.8 483.0l-3.4 -0.9l0.9 0.8m-0.9 -0.8l1.2 -0.2M293.6 483.0l-3.2 1.1l1.2 0.1m-1.2 -0.1l0.8 -0.8M298.9 483.0l-3.1 0.9l1.1 0.2m-1.1 -0.2l0.8 -0.8M93.0 489.0l-3.2 0.5l1.1 0.3m-1.1 -0.3l0.9 -0.7M98.2 489.0l-3.5 0.1l1.1 0.5m-1.1 -0.5l1.1 -0.6M103.5 489.0l-3.6 -0.4l1.1 0.7m-1.1 -0.7l1.2 -0.4M108.8 489.0l-3.3 -0.8l0.9 0.8m-0.9 -0.8l1.2 -0.2M378.1 489.0l-3.0 -1.2l0.8 0.8m-0.8 -0.8l1.1 -0.1M93.0 494.9l-3.5 0.5l1.2 0.4m-1.2 -0.4l1.0 -0.7M98.2 494.9l-3.6 0.3l1.2 0.5m-1.2 -0.5l1.1 -0.7M103.5 494.9l-3.4 -0.1l1.1 0.5m-1.1 -0.5l1.1 -0.5M372.8 494.9l-3.1 -0.8l0.9 0.7m-0.9 -0.7l1.1 -0.2M378.1 494.9l-3.3 -1.0l0.9 0.8m-0.9 -0.8l1.2 -0.2M383.4 494.9l-3.2 -0.9l0.9 0.8m-0.9 -0.8l1.1 -0.2M87.7 500.8l-3.3 0.2l1.1 0.5m-1.1 -0.5l1.0 -0.6M93.0 500.8l-3.5 0.3l1.2 0.4m-1.2 -0.4l1.1 -0.6M98.2 500.8l-3.4 0.3l1.1 0.4m-1.1 -0.4l1.0 -0.6M372.8 500.8l-3.3 -0.2l1.0 0.6m-1.0 -0.6l1.1 -0.4M378.1 500.8l-3.3 -0.5l1.0 0.7m-1.0 -0.7l1.1 -0.4M87.7 506.8l-3.3 -0.2l1.0 0.6m-1.0 -0.6l1.1 -0.5M93.0 506.8l-3.3 -0.0l1.0 0.5m-1.0 -0.5l1.0 -0.5M182.7 506.8l-3.3 0.2l1.1 0.4m-1.1 -0.4l1.0 -0.6M367.5 506.8l-3.2 0.3l1.1 0.4m-1.1 -0.4l1.0 -0.6M372.8 506.8l-3.3 0.3l1.1 0.4m-1.1 -0.4l1.0 -0.6M172.2 512.7l-3.3 0.5l1.1 0.3m-1.1 -0.3l1.0 -0.7M177.4 512.7l-3.5 0.5l1.2 0.4m-1.2 -0.4l1.0 -0.7M182.7 512.7l-3.3 0.4l1.1 0.4m-1.1 -0.4l1.0 -0.6M367.5 512.7l-3.2 0.4l1.1 0.4m-1.1 -0.4l1.0 -0.6M166.9 518.6l-3.3 0.1l1.1 0.5m-1.1 -0.5l1.0 -0.5M172.2 518.6l-3.6 0.4l1.2 0.4m-1.2 -0.4l1.1 -0.7M177.4 518.6l-3.5 0.5l1.2 0.4m-1.2 -0.4l1.0 -0.7M182.7 518.6l-3.2 0.5l1.1 0.3m-1.1 -0.3l0.9 -0.6M457.3 518.6l-3.2 -0.1l1.0 0.5m-1.0 -0.5l1.0 -0.5M161.6 524.5l-3.2 -0.5l0.9 0.6m-0.9 -0.6l1.1 -0.3M166.9 524.5l-3.5 -0.3l1.1 0.6m-1.1 -0.6l1.1 -0.4M172.2 524.5l-3.5 0.0l1.1 0.5m-1.1 -0.5l1.1 -0.5M177.4 524.5l-3.3 0.3l1.1 0.4m-1.1 -0.4l1.0 -0.6M446.7 524.5l-3.3 0.4l1.1 0.4m-1.1 -0.4l1.0 -0.6M452.0 524.5l-3.4 0.3l1.1 0.4m-1.1 -0.4l1.0 -0.6M457.3 524.5l-3.3 0.1l1.0 0.5m-1.0 -0.5l1.0 -0.5M161.6 530.5l-3.3 -0.7l0.9 0.7m-0.9 -0.7l1.1 -0.3M166.9 530.5l-3.4 -0.7l1.0 0.7m-1.0 -0.7l1.2 -0.3M172.2 530.5l-3.3 -0.5l1.0 0.7m-1.0 -0.7l1.1 -0.3M441.4 530.5l-3.2 -0.2l1.0 0.5m-1.0 -0.5l1.0 -0.4M446.7 530.5l-3.4 0.2l1.1 0.5m-1.1 -0.5l1.1 -0.6M452.0 530.5l-3.4 0.4l1.1 0.4m-1.1 -0.4l1.0 -0.6M161.6 536.4l-3.2 -0.6l0.9 0.7m-0.9 -0.7l1.1 -0.3M166.9 536.4l-3.1 -0.9l0.8 0.7m-0.8 -0.7l1.1 -0.2M251.4 536.4l-3.2 0.4l1.1 0.4m-1.1 -0.4l1.0 -0.6M256.6 536.4l-3.3 0.2l1.1 0.4m-1.1 -0.4l1.0 -0.6M436.2 536.4l-3.0 -1.0l0.8 0.8m-0.8 -0.8l1.1 -0.1M441.4 536.4l-3.3 -0.6l1.0 0.7m-1.0 -0.7l1.1 -0.3M446.7 536.4l-3.3 -0.2l1.0 0.6m-1.0 -0.6l1.1 -0.5M246.1 542.3l-3.4 0.6l1.1 0.3m-1.1 -0.3l1.0 -0.7M251.4 542.3l-3.5 0.7l1.2 0.3m-1.2 -0.3l1.0 -0.8M256.6 542.3l-3.3 0.7l1.1 0.3m-1.1 -0.3l0.9 -0.7M436.2 542.3l-3.1 -1.1l0.8 0.8m-0.8 -0.8l1.2 -0.1M441.4 542.3l-3.2 -0.9l0.9 0.8m-0.9 -0.8l1.2 -0.2M240.8 548.3l-3.3 0.2l1.1 0.5m-1.1 -0.5l1.0 -0.6M246.1 548.3l-3.5 0.4l1.2 0.4m-1.2 -0.4l1.0 -0.7M251.4 548.3l-3.4 0.7l1.2 0.3m-1.2 -0.3l1.0 -0.7M256.6 548.3l-3.1 0.9l1.1 0.2m-1.1 -0.2l0.8 -0.8M240.8 554.2l-3.4 0.2l1.1 0.4m-1.1 -0.4l1.0 -0.6M246.1 554.2l-3.4 0.4l1.1 0.4m-1.1 -0.4l1.0 -0.6M251.4 554.2l-3.2 0.6l1.1 0.3m-1.1 -0.3l0.9 -0.7M235.5 560.1l-3.2 0.6l1.1 0.3m-1.1 -0.3l0.9 -0.7M240.8 560.1l-3.3 0.5l1.1 0.3m-1.1 -0.3l0.9 -0.7M325.3 566.0l-3.3 -0.7l0.9 0.7m-0.9 -0.7l1.1 -0.3M330.6 566.0l-3.2 -0.5l1.0 0.6m-1.0 -0.6l1.1 -0.3M314.7 572.0l-3.1 -1.2l0.8 0.9m-0.8 -0.9l1.2 -0.1M320.0 572.0l-3.4 -1.3l0.9 0.9m-0.9 -0.9l1.3 -0.1M325.3 572.0l-3.4 -1.2l0.9 0.9m-0.9 -0.9l1.3 -0.2M330.6 572.0l-3.2 -0.9l0.9 0.8m-0.9 -0.8l1.1 -0.2M71.8 577.9l-3.4 -0.5l1.0 0.7m-1.0 -0.7l1.1 -0.4M314.7 577.9l-3.3 -1.0l0.9 0.8m-0.9 -0.8l1.2 -0.2M320.0 577.9l-3.4 -1.3l0.9 0.9m-0.9 -0.9l1.3 -0.1M325.3 577.9l-3.3 -1.4l0.8 0.9m-0.8 -0.9l1.3 -0.1M330.6 577.9l-3.0 -1.3l0.7 0.9m-0.7 -0.9l1.1 -0.1M71.8 583.8l-3.4 -0.8l0.9 0.8m-0.9 -0.8l1.2 -0.3M314.7 583.8l-3.3 -0.6l1.0 0.7m-1.0 -0.7l1.1 -0.3M320.0 583.8l-3.3 -1.0l0.9 0.8m-0.9 -0.8l1.2 -0.2M325.3 583.8l-3.0 -1.2l0.8 0.9m-0.8 -0.9l1.1 -0.1M404.5 589.8l-3.1 1.1l1.2 0.1m-1.2 -0.1l0.8 -0.8M409.8 589.8l-2.9 1.3l1.1 0.0m-1.1 -0.0l0.7 -0.9" stroke="#383838" stroke-width="1.25" fill="none"/>
<polygon points="60.0,170.0 237.0,170.0 236.0,179.0 228.0,185.0 222.0,192.0 212.0,196.0 200.0,200.0 190.0,203.0 178.0,208.0 172.0,214.0 168.9,220.0 166.5,224.8 160.5,229.6 154.4,233.2 147.2,236.8 144.2,240.4 144.2,244.0 148.4,246.4 153.2,250.0 156.8,256.0 161.7,262.0 165.3,269.2 166.5,276.5 165.3,283.7 164.7,289.7 160.5,293.3 155.6,295.1 149.6,296.9 143.6,298.1 137.6,299.9 131.6,302.9 128.0,299.3 129.2,293.3 131.6,287.3 134.0,281.3 135.2,275.3 132.8,271.7 134.0,268.0 137.6,265.6 135.2,262.0 130.4,260.8 124.4,260.8 119.6,258.4 116.0,257.2 114.8,254.8 117.2,252.4 119.6,250.0 122.0,247.6 123.2,240.4 120.8,239.2 116.0,238.0 112.4,236.2 110.0,235.6 100.7,236.7 91.4,240.0 84.8,242.7 78.2,246.0 77.0,249.0 78.0,242.0 80.0,238.0 85.0,233.0 89.0,227.0 84.0,223.0 75.0,224.0 70.0,226.5 60.0,227.0" fill="#b7b8b7" stroke="#111" stroke-width="0.8" stroke-linejoin="round"/>
<polygon points="60.0,259.0 70.0,259.5 78.0,261.0 85.0,263.0 92.0,265.0 90.0,272.0 84.0,274.0 80.0,276.0 75.0,277.0 70.0,279.0 60.0,280.0" fill="#b7b8b7" stroke="#111" stroke-width="0.8" stroke-linejoin="round"/>
<polygon points="60.0,305.0 70.0,308.0 73.0,318.0 78.0,326.0 82.0,332.0 85.0,338.0 83.0,343.0 78.0,347.0 73.0,350.0 76.0,352.0 83.0,352.0 88.0,355.0 86.0,362.0 83.0,370.0 81.0,374.0 76.0,378.0 72.0,383.0 70.0,387.0 60.0,390.0" fill="#b7b8b7" stroke="#111" stroke-width="0.8" stroke-linejoin="round"/>
<polygon points="295.2,175.0 295.2,179.5 296.8,183.4 292.1,189.6 285.9,194.3 281.2,197.4 276.5,202.1 275.0,208.3 278.9,214.6 282.8,216.1 284.3,211.4 282.8,206.8 287.4,204.4 293.7,206.0 299.9,207.5 306.2,209.1 310.1,211.4 312.4,205.2 318.6,199.7 328.0,196.6 334.2,195.8 335.0,192.7 331.1,191.2 328.0,186.5 318.6,183.4 312.4,180.2 307.7,175.0" fill="#b7b8b7" stroke="#111" stroke-width="0.8" stroke-linejoin="round"/>
<polygon points="280.4,219.2 289.0,216.9 291.3,220.8 290.6,225.5 295.2,227.0 297.6,234.8 296.8,242.6 293.7,248.9 290.6,255.1 287.4,261.4 287.4,267.6 285.9,273.8 283.5,281.6 281.7,285.9 275.4,290.6 269.2,293.7 261.4,295.5 253.6,295.5 246.0,295.0 242.2,296.9 239.3,303.6 236.5,308.4 232.6,312.3 228.8,312.3 225.0,309.4 223.0,304.6 226.8,301.7 227.8,298.8 223.0,297.9 215.3,297.9 207.6,298.8 200.0,301.7 193.2,304.6 184.0,306.5 181.7,304.0 184.0,300.5 188.4,297.9 196.1,293.0 203.8,287.8 217.2,286.3 226.8,287.3 233.6,286.3 240.3,279.6 244.2,272.0 247.4,264.8 256.2,262.9 262.5,258.2 268.7,252.0 273.4,244.2 275.7,236.4 275.0,230.2 277.3,227.0" fill="#b7b8b7" stroke="#111" stroke-width="0.8" stroke-linejoin="round"/>
<polygon points="181.7,306.5 176.9,308.4 172.1,312.3 170.2,317.1 172.1,323.8 175.0,329.6 176.0,335.3 177.9,339.2 180.7,337.2 184.6,331.5 186.5,325.7 188.4,320.0 190.3,315.1 188.4,310.3 184.6,307.5" fill="#b7b8b7" stroke="#111" stroke-width="0.8" stroke-linejoin="round"/>
<polygon points="194.0,311.0 203.0,306.0 212.0,303.0 220.0,302.0 225.0,305.0 222.0,309.0 219.0,312.0 214.0,315.0 208.0,316.5 203.0,320.0 199.0,320.5 196.0,315.0" fill="#b7b8b7" stroke="#111" stroke-width="0.8" stroke-linejoin="round"/>
<polygon points="60.0,418.0 70.0,418.0 73.0,413.0 77.0,410.5 82.0,409.8 86.0,411.5 85.8,418.9 84.3,425.5 81.9,433.4 79.0,440.0 74.9,446.6 73.6,450.6 71.6,446.6 70.0,444.0 60.0,444.0" fill="#b7b8b7" stroke="#111" stroke-width="0.8" stroke-linejoin="round"/>
<polygon points="60.0,492.0 70.2,492.4 76.0,490.4 81.6,492.4 87.1,493.8 89.8,499.3 90.5,507.6 89.2,515.9 85.7,520.0 82.9,525.5 80.0,530.0 81.8,537.6 84.3,542.6 90.2,541.8 95.3,542.6 98.6,546.8 104.5,546.0 108.7,544.3 111.6,546.8 110.4,549.4 106.2,550.2 102.0,549.0 98.0,550.0 94.4,549.0 90.2,547.5 86.0,546.5 81.8,548.5 77.6,548.0 73.4,547.0 69.6,546.5 60.0,546.5" fill="#b7b8b7" stroke="#111" stroke-width="0.8" stroke-linejoin="round"/>
<polygon points="60.0,550.0 71.0,550.0 77.0,553.0 82.0,558.0 83.0,564.0 79.0,568.0 72.0,568.0 60.0,568.0" fill="#b7b8b7" stroke="#111" stroke-width="0.8" stroke-linejoin="round"/>
<polygon points="109.0,558.0 116.0,558.0 122.0,563.0 126.0,570.0 127.0,579.0 125.0,588.0 111.0,588.0 109.0,578.0 111.0,568.0" fill="#b7b8b7" stroke="#111" stroke-width="0.8" stroke-linejoin="round"/>
<polygon points="85.0,566.0 92.0,564.0 98.0,568.0 101.0,574.0 104.0,580.0 108.0,584.0 108.0,590.0 85.0,590.0" fill="#b7b8b7" stroke="#111" stroke-width="0.8" stroke-linejoin="round"/>
<polygon points="93.0,551.0 100.0,552.0 106.0,555.0 109.0,560.0 106.0,563.0 101.0,560.0 96.0,557.0" fill="#b7b8b7" stroke="#111" stroke-width="0.8" stroke-linejoin="round"/>
<polygon points="99.0,562.0 104.0,562.0 108.0,567.0 107.0,574.0 102.0,571.0" fill="#b7b8b7" stroke="#111" stroke-width="0.8" stroke-linejoin="round"/>
<polygon points="333.0,190.0 338.0,186.5 344.0,183.0 348.0,181.0 347.0,182.5 341.0,186.0 335.0,190.5" fill="#b7b8b7" stroke="#111" stroke-width="0.8" stroke-linejoin="round"/>
<ellipse cx="134" cy="313.7" rx="3.2" ry="2" fill="#b7b8b7" stroke="#111" stroke-width="0.8"/>
<ellipse cx="163.5" cy="301" rx="1" ry="3" fill="#b7b8b7" stroke="#111" stroke-width="0.8"/>
<ellipse cx="128" cy="329" rx="1" ry="1" fill="#b7b8b7" stroke="#111" stroke-width="0.8"/>
<ellipse cx="183" cy="292" rx="1" ry="1" fill="#b7b8b7" stroke="#111" stroke-width="0.8"/>
<ellipse cx="163.4" cy="374" rx="2" ry="1.4" fill="#111"/>
<ellipse cx="160.5" cy="379" rx="1.5" ry="1.2" fill="#111"/>
<ellipse cx="157" cy="384" rx="1.5" ry="1.2" fill="#111"/>
<ellipse cx="153" cy="388" rx="1.2" ry="1" fill="#111"/>
<ellipse cx="149.5" cy="391" rx="1.5" ry="2" fill="#111"/>
<ellipse cx="147.6" cy="396.4" rx="1.4" ry="1.6" fill="#111"/>
<ellipse cx="137" cy="397.7" rx="1" ry="0.8" fill="#111"/>
<ellipse cx="121.8" cy="416.2" rx="1.4" ry="1" fill="#111"/>
<ellipse cx="110" cy="420" rx="1.2" ry="1" fill="#111"/>
<ellipse cx="104.6" cy="422" rx="1" ry="1" fill="#111"/>
<ellipse cx="98" cy="441" rx="1.2" ry="1" fill="#111"/>
<ellipse cx="96.7" cy="442.6" rx="1" ry="1" fill="#111"/>
<ellipse cx="337.2" cy="495.3" rx="0.9" ry="0.9" fill="#111"/>
<ellipse cx="337.2" cy="531.5" rx="0.8" ry="1.5" fill="#111"/>
<ellipse cx="330.5" cy="543.3" rx="1" ry="0.8" fill="#111"/>
<ellipse cx="327" cy="551.7" rx="0.9" ry="1.4" fill="#111"/>
<ellipse cx="113" cy="195" rx="0.9" ry="0.7" fill="#111"/>
<ellipse cx="103" cy="205" rx="1" ry="0.7" fill="#111"/>
<ellipse cx="107" cy="214" rx="0.9" ry="0.7" fill="#111"/>
<ellipse cx="117" cy="192" rx="0.8" ry="0.8" fill="#111"/>
<ellipse cx="143" cy="186" rx="0.8" ry="0.8" fill="#111"/>
<ellipse cx="130" cy="190" rx="0.8" ry="0.6" fill="#111"/>
<ellipse cx="127" cy="205" rx="0.9" ry="0.7" fill="#111"/>
<ellipse cx="121" cy="229" rx="1" ry="0.7" fill="#111"/>
<ellipse cx="150" cy="233" rx="0.7" ry="0.7" fill="#111"/>
<ellipse cx="286" cy="293" rx="1" ry="1" fill="#111"/>
<ellipse cx="296" cy="302" rx="0.8" ry="1.2" fill="#111"/>
<ellipse cx="300" cy="318" rx="0.8" ry="1.2" fill="#111"/>
<ellipse cx="303" cy="338" rx="0.8" ry="0.8" fill="#111"/>
<polyline points="113.0,313.5 125.0,322.0 140.0,331.0 155.8,340.0 163.0,345.0 169.4,347.2 175.6,345.5 181.0,342.3 188.0,341.5 230.0,337.5 280.0,333.2 324.5,325.8 340.0,310.0 345.3,295.4 359.5,293.8 366.0,283.0 372.0,266.0 381.6,236.5 384.5,238.0 385.5,244.0 383.0,300.0 382.7,400.0 383.0,556.0" fill="none" stroke="#000" stroke-width="3" stroke-linejoin="round" stroke-linecap="round"/>
<polyline points="181.0,342.3 206.8,354.5 227.6,361.7 256.5,377.6 285.3,394.8 314.1,412.1 335.7,422.2 354.4,433.7 380.4,452.5 422.2,472.7 383.0,556.0" fill="none" stroke="#000" stroke-width="3" stroke-linejoin="round" stroke-linecap="round"/>
</g>
<rect x="65" y="174.5" width="423.5" height="418.5" fill="none" stroke="#888" stroke-width="0.8"/>
<rect x="65.00" y="174.5" width="52.94" height="4.8" fill="#fff"/>
<rect x="65.00" y="588.2" width="52.94" height="4.8" fill="#000"/>
<rect x="117.94" y="174.5" width="52.94" height="4.8" fill="#000"/>
<rect x="117.94" y="588.2" width="52.94" height="4.8" fill="#fff"/>
<rect x="170.88" y="174.5" width="52.94" height="4.8" fill="#fff"/>
<rect x="170.88" y="588.2" width="52.94" height="4.8" fill="#000"/>
<rect x="223.81" y="174.5" width="52.94" height="4.8" fill="#000"/>
<rect x="223.81" y="588.2" width="52.94" height="4.8" fill="#fff"/>
<rect x="276.75" y="174.5" width="52.94" height="4.8" fill="#fff"/>
<rect x="276.75" y="588.2" width="52.94" height="4.8" fill="#000"/>
<rect x="329.69" y="174.5" width="52.94" height="4.8" fill="#000"/>
<rect x="329.69" y="588.2" width="52.94" height="4.8" fill="#fff"/>
<rect x="382.62" y="174.5" width="52.94" height="4.8" fill="#fff"/>
<rect x="382.62" y="588.2" width="52.94" height="4.8" fill="#000"/>
<rect x="435.56" y="174.5" width="52.94" height="4.8" fill="#000"/>
<rect x="435.56" y="588.2" width="52.94" height="4.8" fill="#fff"/>
<rect x="65" y="174.50" width="4.8" height="29.70" fill="#fff"/>
<rect x="483.7" y="174.50" width="4.8" height="29.70" fill="#000"/>
<rect x="65" y="204.20" width="4.8" height="30.30" fill="#000"/>
<rect x="483.7" y="204.20" width="4.8" height="30.30" fill="#fff"/>
<rect x="65" y="234.50" width="4.8" height="59.70" fill="#fff"/>
<rect x="483.7" y="234.50" width="4.8" height="59.70" fill="#000"/>
<rect x="65" y="294.20" width="4.8" height="59.10" fill="#000"/>
<rect x="483.7" y="294.20" width="4.8" height="59.10" fill="#fff"/>
<rect x="65" y="353.30" width="4.8" height="59.90" fill="#fff"/>
<rect x="483.7" y="353.30" width="4.8" height="59.90" fill="#000"/>
<rect x="65" y="413.20" width="4.8" height="60.30" fill="#000"/>
<rect x="483.7" y="413.20" width="4.8" height="60.30" fill="#fff"/>
<rect x="65" y="473.50" width="4.8" height="60.50" fill="#fff"/>
<rect x="483.7" y="473.50" width="4.8" height="60.50" fill="#000"/>
<rect x="65" y="534.00" width="4.8" height="59.00" fill="#000"/>
<rect x="483.7" y="534.00" width="4.8" height="59.00" fill="#fff"/>
<rect x="65" y="174.5" width="423.5" height="418.5" fill="none" stroke="#222" stroke-width="0.9"/>
<rect x="69.8" y="179.3" width="413.9" height="408.9" fill="none" stroke="#111" stroke-width="1"/>
<line x1="65" y1="174.5" x2="69.8" y2="179.3" stroke="#222" stroke-width="0.8"/>
<line x1="488.5" y1="174.5" x2="483.7" y2="179.3" stroke="#222" stroke-width="0.8"/>
<line x1="65" y1="593" x2="69.8" y2="588.2" stroke="#222" stroke-width="0.8"/>
<line x1="488.5" y1="593" x2="483.7" y2="588.2" stroke="#222" stroke-width="0.8"/>
<rect x="149.8" y="509.8" width="63.2" height="41" fill="#fff" stroke="#000" stroke-width="1.6"/>
<line x1="171" y1="522.2" x2="189" y2="522.2" stroke="#555" stroke-width="1.2"/><polygon points="188,520 194,522.2 188,524.4" fill="#555"/>
<text x="158.5" y="546.3" font-family="Liberation Sans" font-weight="bold" font-style="italic" font-size="20.5" fill="#000">2 m/s</text>
<rect x="499" y="175.00" width="23.5" height="21.23" fill="#6a0b20"/>
<rect x="499" y="195.93" width="23.5" height="21.23" fill="#931b27"/>
<rect x="499" y="216.85" width="23.5" height="21.23" fill="#b7222f"/>
<rect x="499" y="237.78" width="23.5" height="21.23" fill="#cc3b3d"/>
<rect x="499" y="258.70" width="23.5" height="21.23" fill="#de6350"/>
<rect x="499" y="279.62" width="23.5" height="21.23" fill="#ee8a67"/>
<rect x="499" y="300.55" width="23.5" height="21.23" fill="#f6ab87"/>
<rect x="499" y="321.48" width="23.5" height="21.23" fill="#fbcbb1"/>
<rect x="499" y="342.40" width="23.5" height="21.23" fill="#fde6d6"/>
<rect x="499" y="363.33" width="23.5" height="21.23" fill="#fef7f1"/>
<rect x="499" y="384.25" width="23.5" height="21.23" fill="#ffffff"/>
<rect x="499" y="405.18" width="23.5" height="21.23" fill="#e6f1f9"/>
<rect x="499" y="426.10" width="23.5" height="21.23" fill="#c9e1f0"/>
<rect x="499" y="447.03" width="23.5" height="21.23" fill="#a9d0e6"/>
<rect x="499" y="467.95" width="23.5" height="21.23" fill="#82badc"/>
<rect x="499" y="488.88" width="23.5" height="21.23" fill="#5aa3d0"/>
<rect x="499" y="509.80" width="23.5" height="21.23" fill="#3987c1"/>
<rect x="499" y="530.73" width="23.5" height="21.23" fill="#2166ab"/>
<rect x="499" y="551.65" width="23.5" height="21.23" fill="#16468e"/>
<rect x="499" y="572.58" width="23.5" height="21.23" fill="#1e2b5f"/>
<rect x="499" y="175" width="23.5" height="418.5" fill="none" stroke="#333" stroke-width="0.7"/>
<line x1="518.5" y1="175.0" x2="522.5" y2="175.0" stroke="#333" stroke-width="0.7"/>
<line x1="518.5" y1="216.8" x2="522.5" y2="216.8" stroke="#333" stroke-width="0.7"/>
<line x1="518.5" y1="258.7" x2="522.5" y2="258.7" stroke="#333" stroke-width="0.7"/>
<line x1="518.5" y1="300.6" x2="522.5" y2="300.6" stroke="#333" stroke-width="0.7"/>
<line x1="518.5" y1="342.4" x2="522.5" y2="342.4" stroke="#333" stroke-width="0.7"/>
<line x1="518.5" y1="384.2" x2="522.5" y2="384.2" stroke="#333" stroke-width="0.7"/>
<line x1="518.5" y1="426.1" x2="522.5" y2="426.1" stroke="#333" stroke-width="0.7"/>
<line x1="518.5" y1="467.9" x2="522.5" y2="467.9" stroke="#333" stroke-width="0.7"/>
<line x1="518.5" y1="509.8" x2="522.5" y2="509.8" stroke="#333" stroke-width="0.7"/>
<line x1="518.5" y1="551.7" x2="522.5" y2="551.7" stroke="#333" stroke-width="0.7"/>
<line x1="518.5" y1="593.5" x2="522.5" y2="593.5" stroke="#333" stroke-width="0.7"/>
<text x="530.0" y="181.3" font-family="Liberation Sans" font-weight="bold" font-style="italic" font-size="17.5" fill="#000">1</text>
<text x="530.0" y="223.2" font-family="Liberation Sans" font-weight="bold" font-style="italic" font-size="17.5" fill="#000">0.8</text>
<text x="530.0" y="265.0" font-family="Liberation Sans" font-weight="bold" font-style="italic" font-size="17.5" fill="#000">0.6</text>
<text x="530.0" y="306.9" font-family="Liberation Sans" font-weight="bold" font-style="italic" font-size="17.5" fill="#000">0.4</text>
<text x="530.0" y="348.7" font-family="Liberation Sans" font-weight="bold" font-style="italic" font-size="17.5" fill="#000">0.2</text>
<text x="530.0" y="390.6" font-family="Liberation Sans" font-weight="bold" font-style="italic" font-size="17.5" fill="#000">0</text>
<text x="530.0" y="432.4" font-family="Liberation Sans" font-weight="bold" font-style="italic" font-size="17.5" fill="#000">-0.2</text>
<text x="530.0" y="474.2" font-family="Liberation Sans" font-weight="bold" font-style="italic" font-size="17.5" fill="#000">-0.4</text>
<text x="530.0" y="516.1" font-family="Liberation Sans" font-weight="bold" font-style="italic" font-size="17.5" fill="#000">-0.6</text>
<text x="530.0" y="558.0" font-family="Liberation Sans" font-weight="bold" font-style="italic" font-size="17.5" fill="#000">-0.8</text>
<text x="530.0" y="599.8" font-family="Liberation Sans" font-weight="bold" font-style="italic" font-size="17.5" fill="#000">-1</text>
<text x="472.5" y="164.8" font-family="Liberation Sans" font-weight="bold" font-style="italic" font-size="20" fill="#000">SLA [m]</text>
<text x="26.8" y="182.7" font-family="Liberation Sans" font-weight="bold" font-size="29.5" fill="#000">A</text>
<text x="0.3" y="243.9" font-family="Liberation Sans" font-weight="bold" font-style="italic" font-size="25.8" fill="#000">40°N</text>
<text x="0.3" y="363.5" font-family="Liberation Sans" font-weight="bold" font-style="italic" font-size="25.8" fill="#000">30°N</text>
<text x="0.3" y="483.5" font-family="Liberation Sans" font-weight="bold" font-style="italic" font-size="25.8" fill="#000">20°N</text>
<text x="0.3" y="602" font-family="Liberation Sans" font-weight="bold" font-style="italic" font-size="25.8" fill="#000">10°N</text>
<text x="136.7" y="617.3" font-family="Liberation Sans" font-weight="bold" font-style="italic" font-size="25.5" fill="#000">130°E</text>
<text x="242.2" y="617.3" font-family="Liberation Sans" font-weight="bold" font-style="italic" font-size="25.5" fill="#000">140°E</text>
<text x="347.7" y="617.3" font-family="Liberation Sans" font-weight="bold" font-style="italic" font-size="25.5" fill="#000">150°E</text>
<text x="452.2" y="617.3" font-family="Liberation Sans" font-weight="bold" font-style="italic" font-size="25.5" fill="#000">160°E</text>
<rect x="224.8" y="328.6" width="56.7" height="21" fill="none" stroke="#e8212a" stroke-width="3.3"/>
<line x1="281.5" y1="328.6" x2="616" y2="136.5" stroke="#e8212a" stroke-width="3.3"/>
<polygon points="624.5,132.4 612.5,133.4 618.3,142" fill="#e8212a"/>
<line x1="281.5" y1="349.6" x2="616" y2="566" stroke="#e8212a" stroke-width="3.3"/>
<polygon points="624.5,571 618.7,561.5 613,570" fill="#e8212a"/>
<rect x="715.8" y="11.2" width="525.1000000000001" height="175.60000000000002" fill="none" stroke="#000" stroke-width="1.7"/>
<line x1="768.0" y1="186.8" x2="768.0" y2="181.3" stroke="#000" stroke-width="1.4"/>
<line x1="873.0" y1="186.8" x2="873.0" y2="184.0" stroke="#000" stroke-width="1.4"/>
<line x1="978.0" y1="186.8" x2="978.0" y2="181.3" stroke="#000" stroke-width="1.4"/>
<line x1="1083.0" y1="186.8" x2="1083.0" y2="184.0" stroke="#000" stroke-width="1.4"/>
<line x1="1188.0" y1="186.8" x2="1188.0" y2="181.3" stroke="#000" stroke-width="1.4"/>
<rect x="715.8" y="210.3" width="525.1000000000001" height="175.0" fill="none" stroke="#000" stroke-width="1.7"/>
<line x1="768.0" y1="385.3" x2="768.0" y2="379.8" stroke="#000" stroke-width="1.4"/>
<line x1="873.0" y1="385.3" x2="873.0" y2="382.5" stroke="#000" stroke-width="1.4"/>
<line x1="978.0" y1="385.3" x2="978.0" y2="379.8" stroke="#000" stroke-width="1.4"/>
<line x1="1083.0" y1="385.3" x2="1083.0" y2="382.5" stroke="#000" stroke-width="1.4"/>
<line x1="1188.0" y1="385.3" x2="1188.0" y2="379.8" stroke="#000" stroke-width="1.4"/>
<rect x="715.8" y="411.7" width="525.1000000000001" height="175.09999999999997" fill="none" stroke="#000" stroke-width="1.7"/>
<line x1="768.0" y1="586.8" x2="768.0" y2="581.3" stroke="#000" stroke-width="1.4"/>
<line x1="873.0" y1="586.8" x2="873.0" y2="584.0" stroke="#000" stroke-width="1.4"/>
<line x1="978.0" y1="586.8" x2="978.0" y2="581.3" stroke="#000" stroke-width="1.4"/>
<line x1="1083.0" y1="586.8" x2="1083.0" y2="584.0" stroke="#000" stroke-width="1.4"/>
<line x1="1188.0" y1="586.8" x2="1188.0" y2="581.3" stroke="#000" stroke-width="1.4"/>
<rect x="715.8" y="609.8" width="525.1000000000001" height="174.80000000000007" fill="none" stroke="#000" stroke-width="1.7"/>
<line x1="768.0" y1="784.6" x2="768.0" y2="779.1" stroke="#000" stroke-width="1.4"/>
<line x1="873.0" y1="784.6" x2="873.0" y2="781.8000000000001" stroke="#000" stroke-width="1.4"/>
<line x1="978.0" y1="784.6" x2="978.0" y2="779.1" stroke="#000" stroke-width="1.4"/>
<line x1="1083.0" y1="784.6" x2="1083.0" y2="781.8000000000001" stroke="#000" stroke-width="1.4"/>
<line x1="1188.0" y1="784.6" x2="1188.0" y2="779.1" stroke="#000" stroke-width="1.4"/>
<line x1="715.8" y1="164.85" x2="718.5999999999999" y2="164.85" stroke="#000" stroke-width="1.4"/>
<line x1="715.8" y1="142.90" x2="721.3" y2="142.90" stroke="#000" stroke-width="1.4"/>
<line x1="715.8" y1="120.95" x2="718.5999999999999" y2="120.95" stroke="#000" stroke-width="1.4"/>
<line x1="715.8" y1="99.00" x2="721.3" y2="99.00" stroke="#000" stroke-width="1.4"/>
<line x1="715.8" y1="77.05" x2="718.5999999999999" y2="77.05" stroke="#000" stroke-width="1.4"/>
<line x1="715.8" y1="55.10" x2="721.3" y2="55.10" stroke="#000" stroke-width="1.4"/>
<line x1="715.8" y1="33.15" x2="718.5999999999999" y2="33.15" stroke="#000" stroke-width="1.4"/>
<text x="710.1999999999999" y="192.10" text-anchor="end" font-family="Liberation Serif" font-weight="bold" font-size="16.3">23</text>
<text x="710.1999999999999" y="148.20" text-anchor="end" font-family="Liberation Serif" font-weight="bold" font-size="16.3">24</text>
<text x="710.1999999999999" y="104.30" text-anchor="end" font-family="Liberation Serif" font-weight="bold" font-size="16.3">25</text>
<text x="710.1999999999999" y="60.40" text-anchor="end" font-family="Liberation Serif" font-weight="bold" font-size="16.3">26</text>
<text x="710.1999999999999" y="16.50" text-anchor="end" font-family="Liberation Serif" font-weight="bold" font-size="16.3">27</text>
<line x1="1240.9" y1="164.85" x2="1238.1000000000001" y2="164.85" stroke="#000" stroke-width="1.4"/>
<line x1="1240.9" y1="142.90" x2="1235.4" y2="142.90" stroke="#000" stroke-width="1.4"/>
<line x1="1240.9" y1="120.95" x2="1238.1000000000001" y2="120.95" stroke="#000" stroke-width="1.4"/>
<line x1="1240.9" y1="99.00" x2="1235.4" y2="99.00" stroke="#000" stroke-width="1.4"/>
<line x1="1240.9" y1="77.05" x2="1238.1000000000001" y2="77.05" stroke="#000" stroke-width="1.4"/>
<line x1="1240.9" y1="55.10" x2="1235.4" y2="55.10" stroke="#000" stroke-width="1.4"/>
<line x1="1240.9" y1="33.15" x2="1238.1000000000001" y2="33.15" stroke="#000" stroke-width="1.4"/>
<text x="1245.7" y="192.10" font-family="Liberation Serif" font-weight="bold" font-size="16.3">33.6</text>
<text x="1245.7" y="148.20" font-family="Liberation Serif" font-weight="bold" font-size="16.3">33.9</text>
<text x="1245.7" y="104.30" font-family="Liberation Serif" font-weight="bold" font-size="16.3">34.2</text>
<text x="1245.7" y="60.40" font-family="Liberation Serif" font-weight="bold" font-size="16.3">34.5</text>
<text x="1245.7" y="16.50" font-family="Liberation Serif" font-weight="bold" font-size="16.3">34.8</text>
<line x1="715.8" y1="363.43" x2="718.5999999999999" y2="363.43" stroke="#000" stroke-width="1.4"/>
<line x1="715.8" y1="341.55" x2="721.3" y2="341.55" stroke="#000" stroke-width="1.4"/>
<line x1="715.8" y1="319.68" x2="718.5999999999999" y2="319.68" stroke="#000" stroke-width="1.4"/>
<line x1="715.8" y1="297.80" x2="721.3" y2="297.80" stroke="#000" stroke-width="1.4"/>
<line x1="715.8" y1="275.93" x2="718.5999999999999" y2="275.93" stroke="#000" stroke-width="1.4"/>
<line x1="715.8" y1="254.05" x2="721.3" y2="254.05" stroke="#000" stroke-width="1.4"/>
<line x1="715.8" y1="232.18" x2="718.5999999999999" y2="232.18" stroke="#000" stroke-width="1.4"/>
<text x="710.1999999999999" y="390.60" text-anchor="end" font-family="Liberation Serif" font-weight="bold" font-size="16.3">200</text>
<text x="710.1999999999999" y="346.85" text-anchor="end" font-family="Liberation Serif" font-weight="bold" font-size="16.3">205</text>
<text x="710.1999999999999" y="303.10" text-anchor="end" font-family="Liberation Serif" font-weight="bold" font-size="16.3">210</text>
<text x="710.1999999999999" y="259.35" text-anchor="end" font-family="Liberation Serif" font-weight="bold" font-size="16.3">215</text>
<text x="710.1999999999999" y="215.60" text-anchor="end" font-family="Liberation Serif" font-weight="bold" font-size="16.3">220</text>
<line x1="1240.9" y1="370.72" x2="1238.1000000000001" y2="370.72" stroke="#000" stroke-width="1.4"/>
<line x1="1240.9" y1="356.13" x2="1235.4" y2="356.13" stroke="#000" stroke-width="1.4"/>
<line x1="1240.9" y1="341.55" x2="1238.1000000000001" y2="341.55" stroke="#000" stroke-width="1.4"/>
<line x1="1240.9" y1="326.97" x2="1235.4" y2="326.97" stroke="#000" stroke-width="1.4"/>
<line x1="1240.9" y1="312.38" x2="1238.1000000000001" y2="312.38" stroke="#000" stroke-width="1.4"/>
<line x1="1240.9" y1="297.80" x2="1235.4" y2="297.80" stroke="#000" stroke-width="1.4"/>
<line x1="1240.9" y1="283.22" x2="1238.1000000000001" y2="283.22" stroke="#000" stroke-width="1.4"/>
<line x1="1240.9" y1="268.63" x2="1235.4" y2="268.63" stroke="#000" stroke-width="1.4"/>
<line x1="1240.9" y1="254.05" x2="1238.1000000000001" y2="254.05" stroke="#000" stroke-width="1.4"/>
<line x1="1240.9" y1="239.47" x2="1235.4" y2="239.47" stroke="#000" stroke-width="1.4"/>
<line x1="1240.9" y1="224.88" x2="1238.1000000000001" y2="224.88" stroke="#000" stroke-width="1.4"/>
<text x="1245.7" y="390.60" font-family="Liberation Serif" font-weight="bold" font-size="16.3">-6</text>
<text x="1245.7" y="361.43" font-family="Liberation Serif" font-weight="bold" font-size="16.3">-5</text>
<text x="1245.7" y="332.27" font-family="Liberation Serif" font-weight="bold" font-size="16.3">-4</text>
<text x="1245.7" y="303.10" font-family="Liberation Serif" font-weight="bold" font-size="16.3">-3</text>
<text x="1245.7" y="273.93" font-family="Liberation Serif" font-weight="bold" font-size="16.3">-2</text>
<text x="1245.7" y="244.77" font-family="Liberation Serif" font-weight="bold" font-size="16.3">-1</text>
<text x="1245.7" y="215.60" font-family="Liberation Serif" font-weight="bold" font-size="16.3">0</text>
<line x1="715.8" y1="570.88" x2="721.3" y2="570.88" stroke="#000" stroke-width="1.4"/>
<line x1="715.8" y1="554.96" x2="718.5999999999999" y2="554.96" stroke="#000" stroke-width="1.4"/>
<line x1="715.8" y1="539.05" x2="721.3" y2="539.05" stroke="#000" stroke-width="1.4"/>
<line x1="715.8" y1="523.13" x2="718.5999999999999" y2="523.13" stroke="#000" stroke-width="1.4"/>
<line x1="715.8" y1="507.21" x2="721.3" y2="507.21" stroke="#000" stroke-width="1.4"/>
<line x1="715.8" y1="491.29" x2="718.5999999999999" y2="491.29" stroke="#000" stroke-width="1.4"/>
<line x1="715.8" y1="475.37" x2="721.3" y2="475.37" stroke="#000" stroke-width="1.4"/>
<line x1="715.8" y1="459.45" x2="718.5999999999999" y2="459.45" stroke="#000" stroke-width="1.4"/>
<line x1="715.8" y1="443.54" x2="721.3" y2="443.54" stroke="#000" stroke-width="1.4"/>
<line x1="715.8" y1="427.62" x2="718.5999999999999" y2="427.62" stroke="#000" stroke-width="1.4"/>
<text x="710.1999999999999" y="576.18" text-anchor="end" font-family="Liberation Serif" font-weight="bold" font-size="16.3">0.1</text>
<text x="710.1999999999999" y="544.35" text-anchor="end" font-family="Liberation Serif" font-weight="bold" font-size="16.3">0.2</text>
<text x="710.1999999999999" y="512.51" text-anchor="end" font-family="Liberation Serif" font-weight="bold" font-size="16.3">0.3</text>
<text x="710.1999999999999" y="480.67" text-anchor="end" font-family="Liberation Serif" font-weight="bold" font-size="16.3">0.4</text>
<text x="710.1999999999999" y="448.84" text-anchor="end" font-family="Liberation Serif" font-weight="bold" font-size="16.3">0.5</text>
<text x="710.1999999999999" y="417.00" text-anchor="end" font-family="Liberation Serif" font-weight="bold" font-size="16.3">0.6</text>
<line x1="1240.9" y1="567.34" x2="1238.1000000000001" y2="567.34" stroke="#000" stroke-width="1.4"/>
<line x1="1240.9" y1="547.89" x2="1235.4" y2="547.89" stroke="#000" stroke-width="1.4"/>
<line x1="1240.9" y1="528.43" x2="1238.1000000000001" y2="528.43" stroke="#000" stroke-width="1.4"/>
<line x1="1240.9" y1="508.98" x2="1235.4" y2="508.98" stroke="#000" stroke-width="1.4"/>
<line x1="1240.9" y1="489.52" x2="1238.1000000000001" y2="489.52" stroke="#000" stroke-width="1.4"/>
<line x1="1240.9" y1="470.07" x2="1235.4" y2="470.07" stroke="#000" stroke-width="1.4"/>
<line x1="1240.9" y1="450.61" x2="1238.1000000000001" y2="450.61" stroke="#000" stroke-width="1.4"/>
<line x1="1240.9" y1="431.16" x2="1235.4" y2="431.16" stroke="#000" stroke-width="1.4"/>
<text x="1245.7" y="592.10" font-family="Liberation Serif" font-weight="bold" font-size="16.3">0.8</text>
<text x="1245.7" y="553.19" font-family="Liberation Serif" font-weight="bold" font-size="16.3">1.0</text>
<text x="1245.7" y="514.28" font-family="Liberation Serif" font-weight="bold" font-size="16.3">1.2</text>
<text x="1245.7" y="475.37" font-family="Liberation Serif" font-weight="bold" font-size="16.3">1.4</text>
<text x="1245.7" y="436.46" font-family="Liberation Serif" font-weight="bold" font-size="16.3">1.6</text>
<line x1="715.8" y1="770.03" x2="718.5999999999999" y2="770.03" stroke="#000" stroke-width="1.4"/>
<line x1="715.8" y1="755.47" x2="721.3" y2="755.47" stroke="#000" stroke-width="1.4"/>
<line x1="715.8" y1="740.90" x2="718.5999999999999" y2="740.90" stroke="#000" stroke-width="1.4"/>
<line x1="715.8" y1="726.33" x2="721.3" y2="726.33" stroke="#000" stroke-width="1.4"/>
<line x1="715.8" y1="711.77" x2="718.5999999999999" y2="711.77" stroke="#000" stroke-width="1.4"/>
<line x1="715.8" y1="697.20" x2="721.3" y2="697.20" stroke="#000" stroke-width="1.4"/>
<line x1="715.8" y1="682.63" x2="718.5999999999999" y2="682.63" stroke="#000" stroke-width="1.4"/>
<line x1="715.8" y1="668.07" x2="721.3" y2="668.07" stroke="#000" stroke-width="1.4"/>
<line x1="715.8" y1="653.50" x2="718.5999999999999" y2="653.50" stroke="#000" stroke-width="1.4"/>
<line x1="715.8" y1="638.93" x2="721.3" y2="638.93" stroke="#000" stroke-width="1.4"/>
<line x1="715.8" y1="624.37" x2="718.5999999999999" y2="624.37" stroke="#000" stroke-width="1.4"/>
<text x="710.1999999999999" y="789.90" text-anchor="end" font-family="Liberation Serif" font-weight="bold" font-size="16.3">350</text>
<text x="710.1999999999999" y="760.77" text-anchor="end" font-family="Liberation Serif" font-weight="bold" font-size="16.3">355</text>
<text x="710.1999999999999" y="731.63" text-anchor="end" font-family="Liberation Serif" font-weight="bold" font-size="16.3">360</text>
<text x="710.1999999999999" y="702.50" text-anchor="end" font-family="Liberation Serif" font-weight="bold" font-size="16.3">365</text>
<text x="710.1999999999999" y="673.37" text-anchor="end" font-family="Liberation Serif" font-weight="bold" font-size="16.3">370</text>
<text x="710.1999999999999" y="644.23" text-anchor="end" font-family="Liberation Serif" font-weight="bold" font-size="16.3">375</text>
<text x="710.1999999999999" y="615.10" text-anchor="end" font-family="Liberation Serif" font-weight="bold" font-size="16.3">380</text>
<line x1="1240.9" y1="749.64" x2="1235.4" y2="749.64" stroke="#000" stroke-width="1.4"/>
<line x1="1240.9" y1="714.68" x2="1238.1000000000001" y2="714.68" stroke="#000" stroke-width="1.4"/>
<line x1="1240.9" y1="679.72" x2="1235.4" y2="679.72" stroke="#000" stroke-width="1.4"/>
<line x1="1240.9" y1="644.76" x2="1238.1000000000001" y2="644.76" stroke="#000" stroke-width="1.4"/>
<text x="1245.7" y="754.94" font-family="Liberation Serif" font-weight="bold" font-size="16.3">360</text>
<text x="1245.7" y="685.02" font-family="Liberation Serif" font-weight="bold" font-size="16.3">380</text>
<text x="1245.7" y="615.10" font-family="Liberation Serif" font-weight="bold" font-size="16.3">400</text>
<text x="768.0" y="802.8" text-anchor="middle" font-family="Liberation Serif" font-weight="bold" font-size="16.3">136</text>
<text x="978.0" y="802.8" text-anchor="middle" font-family="Liberation Serif" font-weight="bold" font-size="16.3">138</text>
<text x="1188.0" y="802.8" text-anchor="middle" font-family="Liberation Serif" font-weight="bold" font-size="16.3">140</text>
<text x="977.8" y="830.3" text-anchor="middle" font-family="Liberation Serif" font-weight="bold" font-size="18.3" textLength="109.5" lengthAdjust="spacingAndGlyphs">Longitude (°E)</text>
<text x="662" y="24" font-family="Liberation Sans" font-weight="bold" font-size="29.5">B</text>
<polyline points="776.3,56.1 782.1,57.1 787.5,56.9 791.7,43.4 796.5,39.2 801.3,37.9 806.1,38.6 810.9,39.2 815.7,38.6 819.5,39.8 824.3,35.7 829.1,36.9 834.5,44.0 838.7,42.1 844.5,44.6 849.3,45.5 853.7,52.6 858.3,50.3 863.7,53.0 867.5,54.6 873.3,44.0 877.1,50.7 888.3,76.6 893.1,114.7 898.2,113.5 903.0,95.5 907.9,127.5 913.6,125.6 941.4,123.7 946.2,145.8 951.1,152.1 960.7,158.6" fill="none" stroke="#e5161f" stroke-width="1.8" stroke-linejoin="miter" stroke-miterlimit="3"/>
<polyline points="968.9,143.8 973.1,151.1 978.0,146.3 982.7,148.6 991.4,136.2 994.8,141.9 999.6,152.1 1004.4,155.4 1009.2,162.1 1014.0,160.7 1018.8,163.6 1028.4,141.0 1033.2,107.9 1037.6,105.8 1041.8,119.8 1046.6,130.0 1056.2,133.3 1061.0,121.8 1065.8,84.3 1070.6,79.1 1075.4,55.5 1080.2,40.5 1085.0,51.1 1089.8,53.6 1094.6,52.3 1099.4,50.3 1109.0,51.7 1116.7,53.6 1121.5,53.0 1126.3,45.9 1131.1,48.4 1135.9,52.6 1140.7,50.7 1149.4,45.9 1154.2,45.9 1162.8,47.8 1167.6,50.3 1172.4,56.1 1177.2,53.6 1182.0,56.9 1186.8,53.6 1191.2,55.9" fill="none" stroke="#e5161f" stroke-width="1.8" stroke-linejoin="miter" stroke-miterlimit="3"/>
<polyline points="776.3,51.7 782.1,53.2 786.9,51.1 791.7,46.9 801.3,40.5 809.9,38.6 814.7,38.6 819.5,46.5 824.3,48.4 829.1,47.8 833.9,52.6 838.7,42.5 843.5,45.0 848.3,45.0 853.5,51.1 858.3,51.7 863.1,55.1 868.1,55.1 873.3,42.7 893.1,140.0 898.2,136.5" fill="none" stroke="#2f4ba6" stroke-width="1.8" stroke-linejoin="miter" stroke-miterlimit="3"/>
<polyline points="907.9,158.6 912.6,138.5 946.2,102.0 960.7,108.9" fill="none" stroke="#2f4ba6" stroke-width="1.8" stroke-linejoin="miter" stroke-miterlimit="3"/>
<polyline points="968.9,126.0 978.0,107.4 982.7,117.0 987.2,134.2 991.4,134.8 995.4,131.8 1000.0,117.5 1004.4,114.1 1009.2,111.8 1014.0,114.1 1018.8,110.2 1023.6,117.9 1028.4,136.2 1032.6,102.6 1037.6,104.9 1042.2,135.8 1047.0,145.8 1056.2,145.8 1061.0,121.8 1065.8,78.6 1070.6,78.6 1075.4,56.5 1079.9,49.2 1085.0,64.5 1089.8,65.5 1094.6,64.5 1099.4,62.2 1111.9,52.6 1116.7,50.3 1121.5,52.3 1126.3,45.0 1131.1,48.4 1135.9,60.3 1140.7,58.4 1149.4,49.8 1154.2,48.8 1159.0,50.3 1167.6,63.2 1172.4,60.7 1177.2,59.9 1182.0,61.9 1191.2,31.9" fill="none" stroke="#2f4ba6" stroke-width="1.8" stroke-linejoin="miter" stroke-miterlimit="3"/>
<polyline points="778.2,336.7 783.4,338.1 788.4,336.2 793.0,340.0 801.3,343.8 811.8,341.9 821.4,342.9 831.0,344.8 840.6,341.9 850.2,340.6 856.0,336.2 860.8,338.1 865.6,336.6 871.4,336.2 876.2,340.0 892.1,311.2 896.5,281.2 901.5,283.6" fill="none" stroke="#3f3f3f" stroke-width="1.8" stroke-linejoin="miter" stroke-miterlimit="3"/>
<polyline points="911.3,261.9 916.5,270.3 945.9,269.5 951.0,245.0 959.7,239.2 965.5,233.4" fill="none" stroke="#3f3f3f" stroke-width="1.8" stroke-linejoin="miter" stroke-miterlimit="3"/>
<polyline points="974.1,251.3 978.9,235.7 983.7,246.5 988.1,244.0 991.9,250.7 996.7,253.0 1001.5,250.3 1006.3,242.1 1015.0,229.2 1019.8,233.1 1024.6,231.9 1034.5,254.2 1039.0,288.2 1044.7,293.0 1048.6,273.8 1053.7,264.5 1058.2,266.7 1063.3,261.3 1068.3,274.7 1073.1,315.0 1077.9,321.8 1083.1,339.0 1087.5,347.3 1091.8,342.9 1097.5,340.6 1106.2,342.9 1115.8,339.4 1120.6,337.5 1125.4,341.9 1137.8,345.2 1143.6,342.9 1148.4,341.9 1157.0,344.8 1166.7,344.8 1171.5,342.3 1176.3,342.3 1181.0,339.4 1186.2,343.5 1190.7,339.0 1195.5,336.6 1200.3,327.5" fill="none" stroke="#3f3f3f" stroke-width="1.8" stroke-linejoin="miter" stroke-miterlimit="3"/>
<polyline points="777.7,259.9 783.4,254.2 788.4,260.3 793.0,279.9 797.4,281.4 807.0,282.8 811.8,284.3 816.6,284.9 821.4,278.6 826.2,282.8 831.0,279.0 836.2,265.5 841.6,276.1 846.4,272.8 851.2,274.3 857.9,270.9 861.8,269.5 866.6,269.0 871.4,266.1 876.2,278.0 882.9,280.5 892.5,283.4 896.9,288.2 902.1,282.4" fill="none" stroke="#e8282f" stroke-width="1.8" stroke-linejoin="miter" stroke-miterlimit="3"/>
<polyline points="911.7,317.0 916.5,297.8 945.3,315.4 950.7,345.8 954.9,342.9 960.7,343.8 965.5,350.2" fill="none" stroke="#e8282f" stroke-width="1.8" stroke-linejoin="miter" stroke-miterlimit="3"/>
<polyline points="974.1,322.7 978.5,358.6 982.7,337.5 987.5,338.7 992.3,325.6 996.7,333.7 1001.1,329.8 1005.7,334.8 1010.7,346.7 1015.3,354.8 1019.8,347.1 1024.6,343.3 1029.4,333.7 1034.5,318.9 1039.0,285.3 1043.8,278.6 1048.6,300.6 1053.4,305.4 1058.2,295.8 1063.0,306.8 1068.3,293.0 1072.9,261.3 1077.9,253.6 1083.1,260.3 1087.0,259.9 1092.2,248.8 1097.5,251.7 1106.2,250.7 1120.6,264.5 1124.4,250.3 1129.8,247.3 1134.6,259.0 1143.6,245.9 1148.4,252.3 1153.2,253.0 1158.0,256.9 1162.8,257.4 1167.6,256.1 1172.0,258.8 1176.6,251.7 1181.0,249.2 1185.9,243.0 1190.7,247.8 1195.8,269.0 1200.3,296.8" fill="none" stroke="#e8282f" stroke-width="1.8" stroke-linejoin="miter" stroke-miterlimit="3"/>
<polyline points="776.9,531.7 781.7,513.5 786.9,512.9 791.7,504.3 796.9,499.5 801.3,524.4 806.1,525.4 810.3,522.0 815.3,529.8 819.9,532.5 824.7,528.7 829.1,499.1 833.9,503.7 838.7,503.7 843.9,531.2 853.7,509.5 863.3,489.5 868.5,504.9 873.9,512.4 888.3,512.9 893.4,486.4 898.2,485.1 903.0,454.7 907.9,487.4 912.6,481.8 941.4,498.0 946.2,440.9 951.1,478.4 955.9,488.9 960.7,451.5 965.5,453.4 969.3,489.5 973.5,485.1 977.9,501.8 982.7,501.8 987.0,500.8 991.4,493.7 995.8,493.7 1000.0,489.5 1004.4,473.0 1009.2,470.7 1013.6,499.1 1018.4,478.0 1023.6,487.0 1028.4,479.3 1032.8,522.1 1037.6,516.4 1042.2,528.3 1047.0,507.2 1051.8,538.8 1056.6,521.2 1065.8,568.6 1075.4,521.6 1079.9,568.6 1084.5,549.8 1089.3,564.8 1094.1,559.4 1098.9,566.1 1112.3,547.9 1116.7,514.5 1121.5,521.2 1126.3,547.5 1130.7,546.0 1135.4,522.5 1139.8,527.9 1144.6,512.0 1149.0,517.7 1153.6,512.0 1158.6,510.6 1163.2,542.1 1167.6,529.2 1172.4,518.1 1177.2,530.2 1181.6,531.2 1186.2,548.4 1191.2,549.8" fill="none" stroke="#eab12f" stroke-width="1.8" stroke-linejoin="miter" stroke-miterlimit="3"/>
<polyline points="776.9,548.4 782.1,538.3 786.9,556.1 791.7,566.7 796.5,564.8 801.3,567.7 806.1,564.4 810.3,567.1 815.3,566.1 819.9,567.7 824.7,566.7 829.1,570.5 833.9,559.0 838.7,565.7 843.9,559.0 848.3,547.1 853.7,546.5 858.9,541.3 863.7,537.5 868.5,541.7 873.7,563.8 888.3,513.9 893.4,491.8 898.2,472.6 903.0,505.2 907.9,492.8 912.6,531.2 941.4,502.4 945.9,433.8 951.1,437.1 955.9,451.9 960.3,419.8 965.1,527.3 969.3,532.5 973.5,528.9 977.9,535.6 982.7,540.8 987.0,543.3 991.4,550.9 995.8,544.2 1000.0,543.6 1004.4,532.1 1009.2,518.3 1014.0,517.7 1018.4,512.0 1023.6,518.7 1028.4,524.1 1033.2,537.5 1037.6,538.8 1042.8,530.2 1047.2,507.2 1051.8,502.9 1056.6,520.2 1061.4,533.1 1066.2,527.9 1076.0,562.5 1079.9,557.5 1085.0,543.3 1089.8,536.5 1094.1,531.7 1099.1,540.8 1112.3,554.2 1117.1,533.7 1126.3,561.9 1131.1,558.0 1135.4,542.7 1140.2,544.6 1144.6,542.1 1149.0,558.0 1153.6,556.1 1158.4,551.7 1163.2,547.5 1167.6,545.2 1176.3,544.6 1181.6,549.4 1186.2,565.7 1191.2,566.7" fill="none" stroke="#1b9544" stroke-width="1.8" stroke-linejoin="miter" stroke-miterlimit="3"/>
<polyline points="776.9,658.8 782.1,667.2 787.3,670.3 791.7,659.5 796.9,657.6 801.3,659.2 810.3,670.1 815.1,666.5 819.5,654.9 824.3,650.5 829.1,660.1 833.9,672.2 838.7,669.7 843.5,671.1 848.7,673.9 853.7,674.1 858.9,676.8 863.7,676.8 868.5,678.9 873.3,672.2 888.6,667.8" fill="none" stroke="#000" stroke-width="1.8" stroke-linejoin="miter" stroke-miterlimit="3"/>
<polyline points="940.9,709.5 945.9,698.5 950.7,685.1 955.5,713.3 965.1,741.7 968.9,742.1 973.1,733.7 982.3,734.6 986.6,736.9 991.0,726.4 995.8,731.7 1000.0,713.9 1004.4,725.4 1009.2,716.8 1014.0,729.2 1018.4,709.5 1023.0,747.1 1028.4,749.0" fill="none" stroke="#000" stroke-width="1.8" stroke-linejoin="miter" stroke-miterlimit="3"/>
<polyline points="1046.3,739.8 1051.4,739.8 1056.2,746.5 1061.0,741.7 1065.8,702.9 1070.6,698.5 1075.4,696.0 1079.9,669.7 1084.5,670.3 1089.5,675.5 1094.1,674.9 1099.8,672.6 1108.1,667.8 1116.7,664.0 1121.5,669.3 1131.1,666.5 1135.5,666.5 1139.8,667.8 1144.6,664.5 1149.0,666.8 1153.6,664.0 1163.2,667.8 1167.6,661.7 1172.0,662.0 1176.6,656.3 1181.6,667.8 1186.2,664.9 1191.2,630.4" fill="none" stroke="#000" stroke-width="1.8" stroke-linejoin="miter" stroke-miterlimit="3"/>
<polyline points="776.9,740.2 782.1,743.6 786.9,746.5 791.7,757.1 796.5,760.5 809.9,767.1 814.7,766.3 819.5,758.0 824.3,760.0 829.1,763.8 833.9,762.3 838.7,763.8 843.5,761.9 848.7,762.3 853.7,753.2 858.3,757.7 863.7,754.8 868.5,753.6 873.3,761.3 888.6,719.3" fill="none" stroke="#7f55b0" stroke-width="1.8" stroke-linejoin="miter" stroke-miterlimit="3"/>
<polyline points="940.9,686.6 945.9,649.6 950.7,633.8 955.9,649.6 960.7,654.0" fill="none" stroke="#7f55b0" stroke-width="1.8" stroke-linejoin="miter" stroke-miterlimit="3"/>
<polyline points="968.9,681.2 973.1,665.9 977.9,672.2 982.3,670.3 986.6,680.9 990.4,681.2 994.8,677.4 1000.0,651.5 1004.4,656.3 1009.2,640.9 1014.0,650.5 1018.4,633.8 1023.0,673.6 1028.0,688.9" fill="none" stroke="#7f55b0" stroke-width="1.8" stroke-linejoin="miter" stroke-miterlimit="3"/>
<polyline points="1046.3,697.2 1051.4,694.7 1056.2,697.2 1061.0,704.9 1065.8,731.2 1070.6,735.6 1075.4,764.8 1079.9,764.8 1084.5,752.9 1089.5,753.2 1099.1,755.6 1116.7,746.5 1126.3,758.0 1135.0,748.8 1144.6,752.9 1149.0,757.1 1154.2,755.7 1163.2,755.2 1172.0,741.7 1176.3,741.7 1186.2,747.5 1191.2,724.4" fill="none" stroke="#7f55b0" stroke-width="1.8" stroke-linejoin="miter" stroke-miterlimit="3"/>
<rect x="1036.3" y="712.2" width="1.4" height="1.4" fill="#7f55b0"/><rect x="1036.3" y="715.6" width="1.4" height="1.4" fill="#333"/>
<text transform="translate(685.2,99.15) rotate(-90)" text-anchor="middle" font-family="Liberation Serif" font-weight="bold" font-size="19" fill="#e5161f" textLength="65.5" lengthAdjust="spacingAndGlyphs">SST (°C)</text>
<text transform="translate(1292.8,98.7) rotate(-90)" text-anchor="middle" font-family="Liberation Serif" font-weight="bold" font-size="19" fill="#2f4ba6" textLength="57" lengthAdjust="spacingAndGlyphs">Salinity</text>
<text transform="translate(676.8,299.35) rotate(-90)" text-anchor="middle" font-family="Liberation Serif" font-weight="bold" font-size="19" fill="#6b6b6b" textLength="118" lengthAdjust="spacingAndGlyphs">DO (μmol kg<tspan dy="-7" font-size="12">-1</tspan><tspan dy="7">)</tspan></text>
<text transform="translate(1280.2,297.8) rotate(-90)" text-anchor="middle" font-family="Liberation Serif" font-weight="bold" font-size="19" fill="#ea6b70" textLength="126" lengthAdjust="spacingAndGlyphs">AOU (μmol kg<tspan dy="-7" font-size="12">-1</tspan><tspan dy="7">)</tspan></text>
<text transform="translate(680.3,499) rotate(-90)" text-anchor="middle" font-family="Liberation Serif" font-weight="bold" font-size="19" fill="#1b9544" textLength="102" lengthAdjust="spacingAndGlyphs">Chl-a (μg L<tspan dy="-7" font-size="12">-1</tspan><tspan dy="7">)</tspan></text>
<text transform="translate(1287.3,499) rotate(-90)" text-anchor="middle" font-family="Liberation Serif" font-weight="bold" font-size="19" fill="#eab12f" textLength="116.5" lengthAdjust="spacingAndGlyphs">DMS (nmol L<tspan dy="-7" font-size="12">-1</tspan><tspan dy="7">)</tspan></text>
<text transform="translate(671.5,699.4) rotate(-90)" text-anchor="middle" font-family="Liberation Serif" font-weight="bold" font-size="19" fill="#000" textLength="96" lengthAdjust="spacingAndGlyphs"><tspan font-style="italic">p</tspan>CO<tspan dy="4" font-size="12">2</tspan><tspan dy="-4">(μatm)</tspan></text>
<text transform="translate(1287.3,687.7) rotate(-90)" text-anchor="middle" font-family="Liberation Serif" font-weight="bold" font-size="19" fill="#7f55b0" textLength="109" lengthAdjust="spacingAndGlyphs">n-<tspan font-style="italic">p</tspan>CO<tspan dy="4" font-size="12">2</tspan><tspan dy="-4"> (μatm)</tspan></text>
</svg></body></html>
